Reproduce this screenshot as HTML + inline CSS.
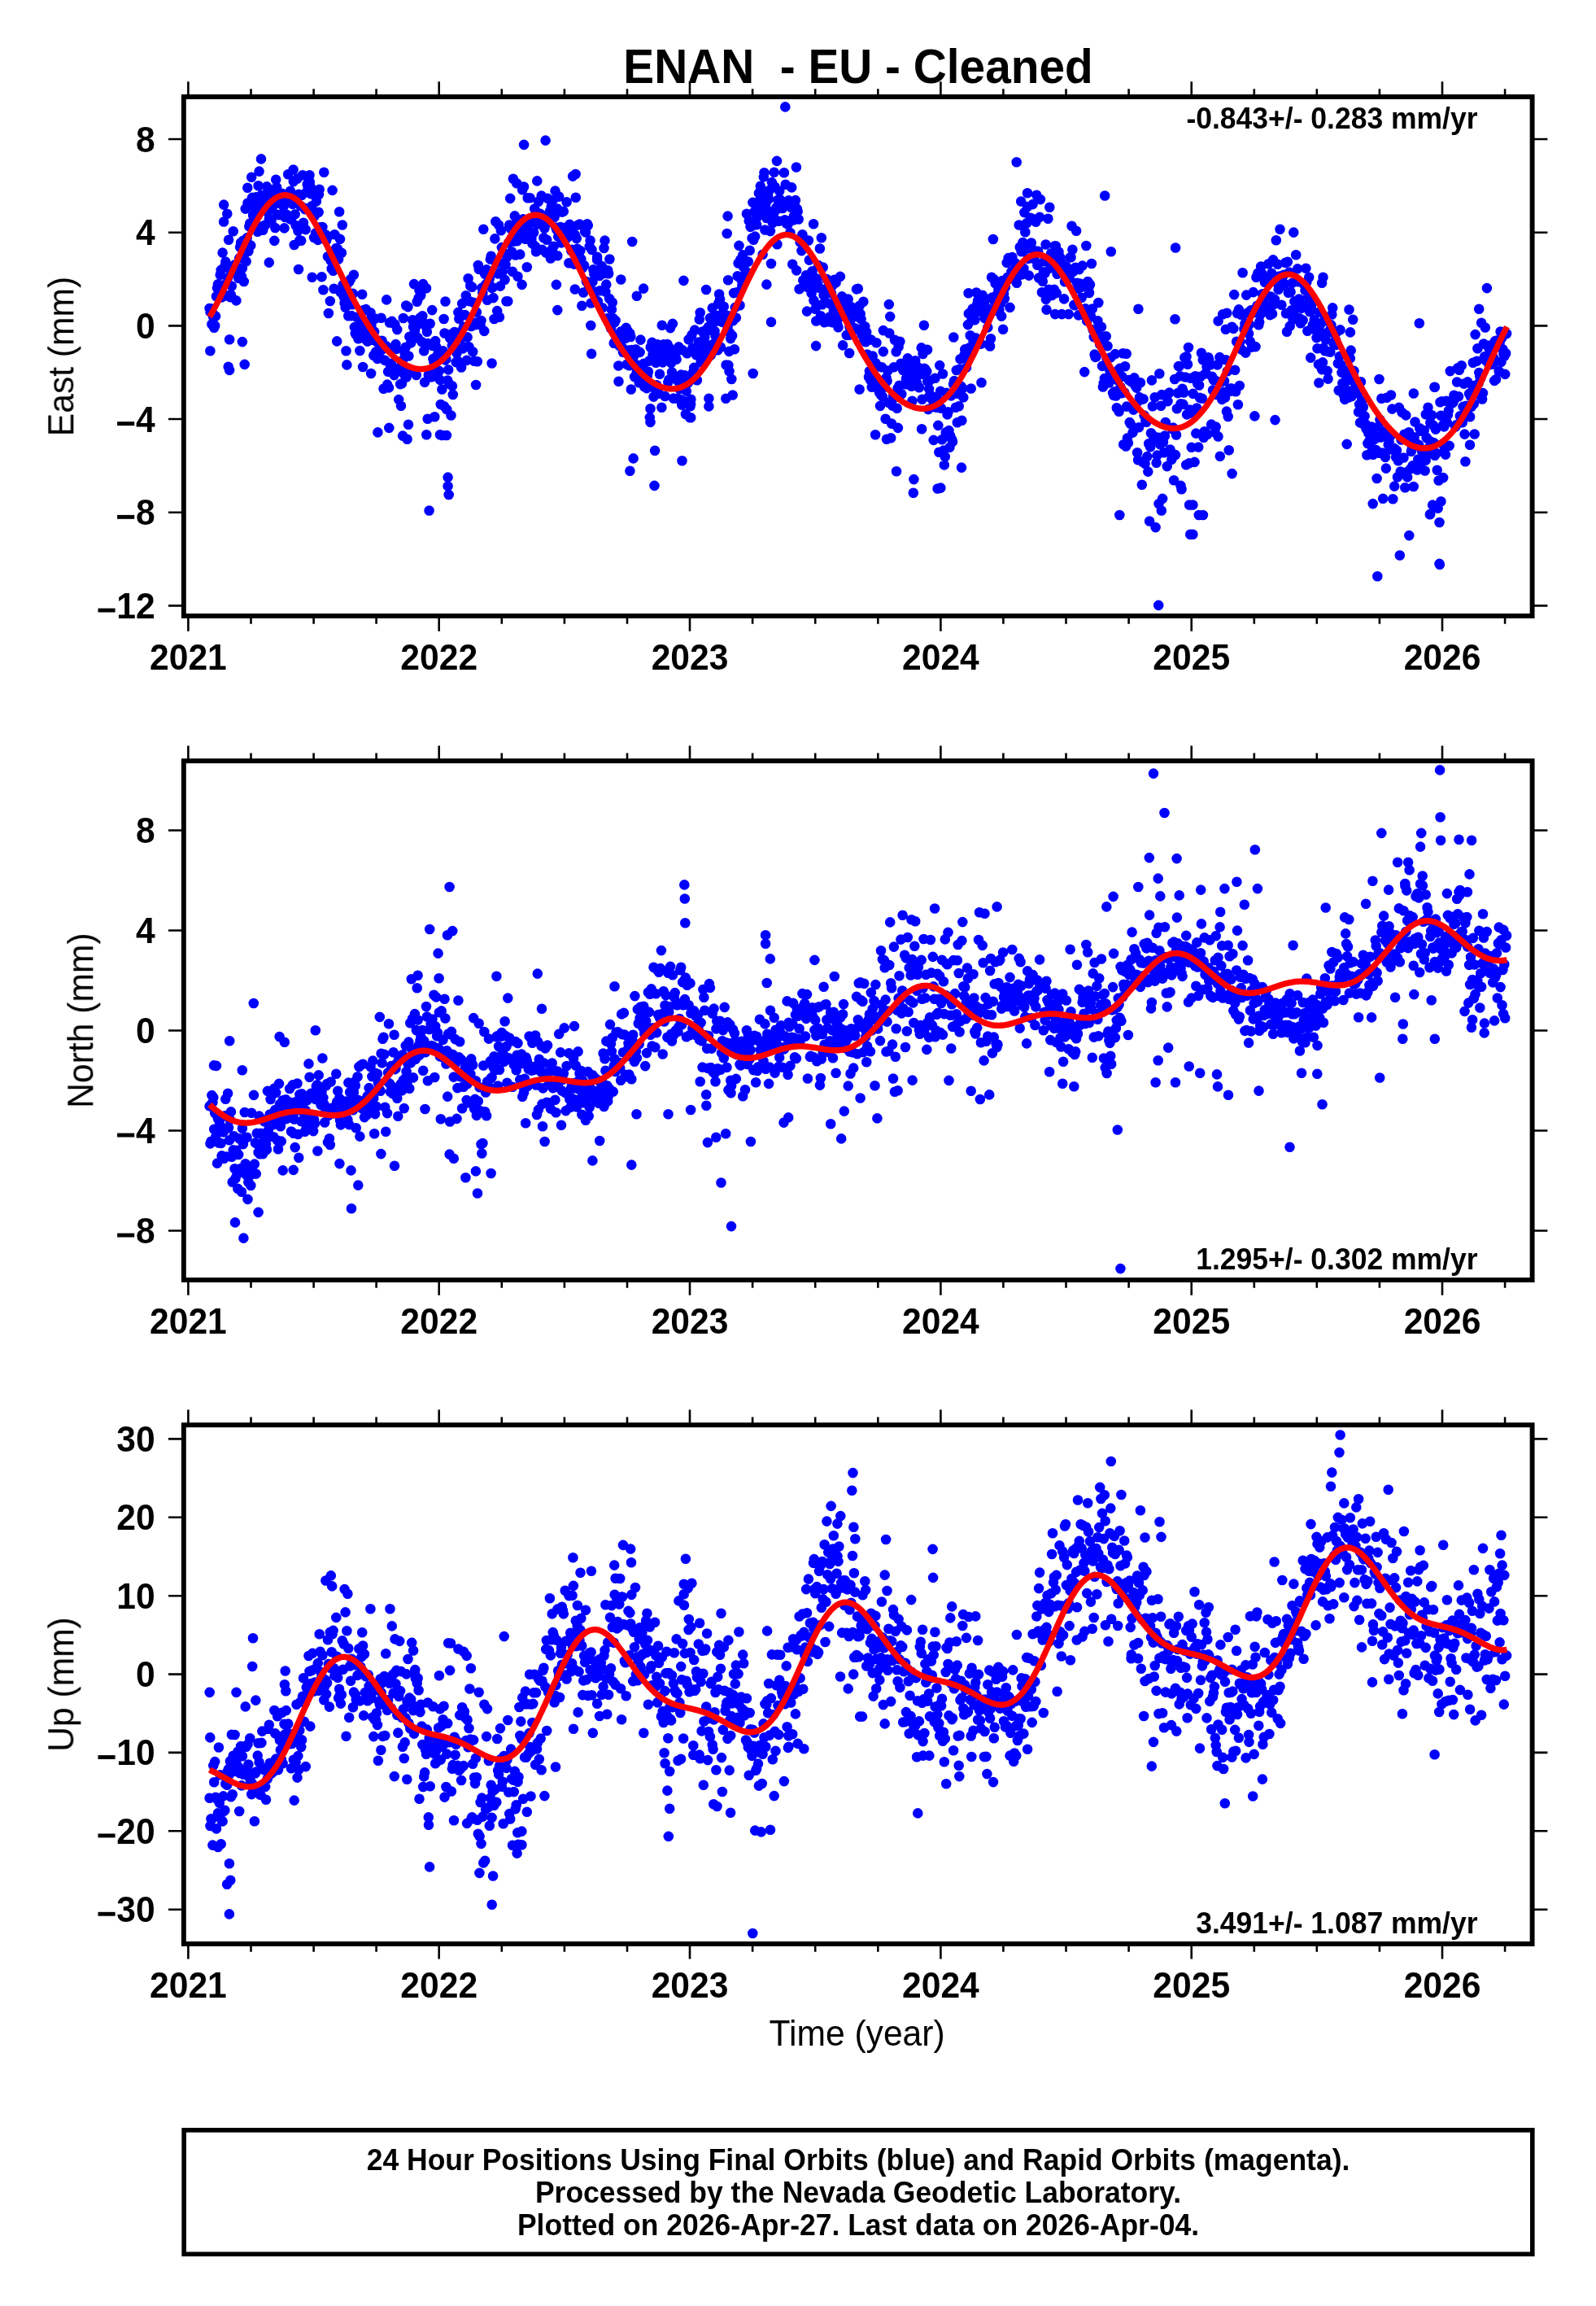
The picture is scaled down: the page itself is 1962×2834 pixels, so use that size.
<!DOCTYPE html><html><head><meta charset="utf-8"><style>html,body{margin:0;padding:0;background:#fff;overflow:hidden;width:1962px;height:2834px}svg{display:block}text{font-family:"Liberation Sans",sans-serif;fill:#000}.t{filter:grayscale(1)}</style></head><body>
<svg width="1962" height="2834" viewBox="0 0 1962 2834">
<rect width="1962" height="2834" fill="#fff"/>
<clipPath id="c0"><rect x="225.85" y="118.95" width="1657.75" height="638.0"/></clipPath>
<path clip-path="url(#c0)" d="M257.6 379.0h0M258.5 383.3h0M259.5 379.2h0M260.4 398.5h0M261.4 384.9h0M262.3 389.9h0M263.2 402.8h0M264.2 400.2h0M265.1 388.6h0M266.0 364.3h0M267.0 354.1h0M267.9 349.4h0M268.9 357.2h0M269.8 361.3h0M270.7 337.7h0M271.7 331.9h0M272.6 365.4h0M273.6 310.6h0M274.5 350.3h0M275.4 363.9h0M276.4 326.6h0M277.3 321.6h0M278.2 328.8h0M279.2 363.2h0M280.1 341.3h0M281.1 294.7h0M282.0 330.0h0M282.9 365.1h0M283.9 362.4h0M284.8 351.5h0M285.7 327.3h0M286.7 284.3h0M287.6 335.4h0M288.6 325.4h0M289.5 331.2h0M290.4 369.4h0M291.4 332.2h0M292.3 333.8h0M293.2 341.9h0M294.2 317.4h0M295.1 303.7h0M296.1 298.2h0M297.0 339.8h0M297.9 329.6h0M298.9 295.7h0M299.8 346.0h0M300.8 311.7h0M301.7 256.6h0M302.6 321.3h0M303.6 292.4h0M304.5 249.5h0M305.4 308.9h0M306.4 278.2h0M307.3 274.5h0M308.3 301.6h0M309.2 217.8h0M310.1 242.9h0M311.1 264.5h0M312.0 280.9h0M312.9 255.2h0M313.9 245.1h0M314.8 242.4h0M315.8 265.5h0M316.7 284.8h0M317.6 228.2h0M318.6 210.6h0M319.5 255.3h0M320.4 253.0h0M321.4 239.8h0M322.3 278.1h0M323.3 282.8h0M324.2 248.9h0M325.1 254.4h0M326.1 276.6h0M327.0 252.5h0M328.0 229.4h0M328.9 260.6h0M329.8 240.1h0M330.8 268.7h0M331.7 248.3h0M332.6 255.2h0M333.6 271.4h0M334.5 255.5h0M335.5 242.8h0M336.4 233.3h0M337.3 295.9h0M338.3 280.0h0M339.2 220.7h0M340.1 230.2h0M341.1 263.9h0M342.0 238.6h0M343.0 249.8h0M343.9 264.1h0M344.8 249.8h0M345.8 244.6h0M346.7 237.7h0M347.6 244.8h0M348.6 253.8h0M349.5 280.4h0M350.5 267.0h0M351.4 241.2h0M352.3 263.8h0M353.3 247.3h0M354.2 214.3h0M355.2 244.1h0M356.1 268.9h0M357.0 234.7h0M358.0 269.8h0M358.9 242.5h0M359.8 250.9h0M360.8 223.1h0M361.7 301.0h0M362.7 263.2h0M363.6 277.0h0M364.5 243.0h0M365.5 219.6h0M366.4 283.7h0M367.3 238.7h0M368.3 295.4h0M369.2 252.8h0M370.2 295.8h0M371.1 239.9h0M372.0 215.3h0M373.0 273.8h0M373.9 255.6h0M374.8 257.1h0M375.8 282.1h0M376.7 236.3h0M377.7 226.5h0M378.6 229.9h0M379.5 217.9h0M380.5 215.2h0M381.4 229.2h0M382.4 238.2h0M383.3 253.2h0M384.2 233.3h0M385.2 264.6h0M386.1 292.0h0M387.0 265.0h0M388.0 286.5h0M388.9 247.4h0M389.9 287.1h0M390.8 294.9h0M391.7 260.7h0M392.7 232.8h0M393.6 279.4h0M394.5 287.2h0M395.5 340.3h0M396.4 279.0h0M397.4 356.2h0M398.3 211.7h0M399.2 292.0h0M400.2 288.2h0M401.1 295.5h0M402.0 292.8h0M403.0 315.2h0M403.9 385.0h0M404.9 314.8h0M405.8 370.0h0M406.7 320.4h0M407.7 330.2h0M408.6 233.9h0M409.6 332.8h0M410.5 354.8h0M411.4 288.3h0M412.4 311.5h0M413.3 305.0h0M414.2 419.4h0M415.2 306.1h0M416.1 318.5h0M417.1 260.2h0M418.0 293.9h0M418.9 359.2h0M419.9 310.7h0M420.8 276.5h0M421.7 350.0h0M422.7 365.1h0M423.6 372.5h0M424.6 377.7h0M425.5 352.3h0M426.4 448.4h0M427.4 360.0h0M428.3 388.3h0M429.2 346.4h0M430.2 364.3h0M431.1 343.1h0M432.1 388.1h0M433.0 374.3h0M433.9 360.9h0M434.9 337.8h0M435.8 402.1h0M436.8 409.9h0M437.7 411.3h0M438.6 389.8h0M439.6 409.8h0M440.5 416.2h0M441.4 407.4h0M442.4 431.0h0M443.3 393.1h0M444.3 403.1h0M445.2 361.7h0M446.1 451.0h0M447.1 381.0h0M448.0 408.3h0M448.9 416.5h0M449.9 380.1h0M450.8 400.2h0M451.8 419.6h0M452.7 399.6h0M453.6 394.5h0M454.6 394.5h0M455.5 384.2h0M456.4 399.4h0M457.4 414.7h0M458.3 417.9h0M459.3 436.7h0M460.2 407.6h0M461.1 391.6h0M462.1 432.4h0M463.0 419.8h0M464.0 440.9h0M464.9 418.6h0M465.8 430.7h0M466.8 428.3h0M467.7 440.3h0M468.6 390.7h0M469.6 418.7h0M470.5 429.1h0M471.5 477.7h0M472.4 424.9h0M473.3 442.9h0M474.3 425.0h0M475.2 368.4h0M476.1 472.6h0M477.1 456.8h0M478.0 476.4h0M479.0 396.5h0M479.9 448.9h0M480.8 446.8h0M481.8 394.9h0M482.7 458.0h0M483.6 426.9h0M484.6 461.1h0M485.5 398.6h0M486.5 423.1h0M487.4 428.9h0M488.3 405.1h0M489.3 452.7h0M490.2 491.1h0M491.2 451.6h0M492.1 472.1h0M493.0 498.8h0M494.0 471.3h0M494.9 443.0h0M495.8 391.0h0M496.8 460.1h0M497.7 434.6h0M498.7 426.8h0M499.6 463.5h0M500.5 454.4h0M501.5 377.1h0M502.4 437.5h0M503.3 413.8h0M504.3 455.3h0M505.2 421.4h0M506.2 455.9h0M507.1 393.2h0M508.0 401.6h0M509.0 394.0h0M509.9 406.7h0M510.8 402.5h0M511.8 461.0h0M512.7 370.8h0M513.7 415.1h0M514.6 366.1h0M515.5 356.8h0M516.5 390.5h0M517.4 357.8h0M518.4 420.0h0M519.3 388.3h0M520.2 396.3h0M521.2 431.2h0M522.1 469.7h0M523.0 400.5h0M524.0 354.3h0M524.9 407.8h0M525.9 422.1h0M526.8 460.7h0M527.7 423.5h0M528.7 397.8h0M529.6 457.2h0M530.5 463.4h0M531.5 424.9h0M532.4 441.1h0M533.4 444.7h0M534.3 512.2h0M535.2 419.1h0M536.2 426.2h0M537.1 437.4h0M538.0 463.2h0M539.0 431.4h0M539.9 455.9h0M540.9 466.9h0M541.8 497.0h0M542.7 436.0h0M543.7 431.7h0M544.6 431.3h0M545.6 392.0h0M546.5 409.5h0M547.4 442.4h0M548.4 441.4h0M549.3 503.2h0M550.2 467.5h0M551.2 454.4h0M552.1 471.6h0M553.1 415.3h0M554.0 416.3h0M554.9 410.5h0M555.9 424.9h0M556.8 485.0h0M557.7 419.8h0M558.7 408.0h0M559.6 424.9h0M560.6 445.1h0M561.5 434.0h0M562.4 443.1h0M563.4 383.9h0M564.3 391.7h0M565.2 408.2h0M566.2 416.0h0M567.1 451.5h0M568.1 373.1h0M569.0 428.4h0M569.9 401.7h0M570.9 426.5h0M571.8 387.1h0M572.8 363.3h0M573.7 442.9h0M574.6 414.4h0M575.6 342.3h0M576.5 426.3h0M577.4 370.2h0M578.4 398.8h0M579.3 401.0h0M580.3 352.7h0M581.2 432.3h0M582.1 371.7h0M583.1 443.8h0M584.0 399.3h0M584.9 396.6h0M585.9 383.6h0M586.8 444.2h0M587.8 326.0h0M588.7 330.8h0M589.6 331.0h0M590.6 399.4h0M591.5 394.0h0M592.4 353.9h0M593.4 360.1h0M594.3 281.7h0M595.3 406.9h0M596.2 336.9h0M597.1 349.6h0M598.1 331.4h0M599.0 368.8h0M600.0 332.6h0M600.9 345.0h0M601.8 342.6h0M602.8 318.6h0M603.7 314.8h0M604.6 353.9h0M605.6 353.2h0M606.5 366.1h0M607.5 392.0h0M608.4 293.4h0M609.3 272.3h0M610.3 323.8h0M611.2 382.1h0M612.1 336.4h0M613.1 276.5h0M614.0 389.7h0M615.0 351.6h0M615.9 283.2h0M616.8 304.1h0M617.8 333.9h0M618.7 310.6h0M619.6 323.3h0M620.6 343.8h0M621.5 325.2h0M622.5 370.3h0M623.4 315.8h0M624.3 370.3h0M625.3 298.2h0M626.2 276.5h0M627.2 243.9h0M628.1 281.3h0M629.0 309.2h0M630.0 333.7h0M630.9 219.7h0M631.8 296.6h0M632.8 265.4h0M633.7 313.5h0M634.7 274.1h0M635.6 296.2h0M636.5 339.7h0M637.5 288.7h0M638.4 279.5h0M639.3 312.6h0M640.3 291.2h0M641.2 275.7h0M642.2 233.2h0M643.1 269.2h0M644.0 229.5h0M645.0 283.8h0M645.9 293.8h0M646.8 277.9h0M647.8 328.3h0M648.7 243.3h0M649.7 285.8h0M650.6 275.2h0M651.5 243.2h0M652.5 285.9h0M653.4 293.1h0M654.4 299.2h0M655.3 268.0h0M656.2 285.8h0M657.2 256.5h0M658.1 302.9h0M659.0 309.3h0M660.0 274.0h0M660.9 275.4h0M661.9 247.8h0M662.8 270.9h0M663.7 262.5h0M664.7 275.0h0M665.6 240.6h0M666.5 306.9h0M667.5 273.8h0M668.4 292.2h0M669.4 280.5h0M670.3 265.2h0M671.2 310.6h0M672.2 294.8h0M673.1 243.7h0M674.0 273.5h0M675.0 270.1h0M675.9 259.8h0M676.9 317.5h0M677.8 253.5h0M678.7 306.2h0M679.7 246.0h0M680.6 302.8h0M681.6 266.7h0M682.5 234.6h0M683.4 279.5h0M684.4 282.3h0M685.3 256.6h0M686.2 290.8h0M687.2 241.6h0M688.1 289.4h0M689.1 279.1h0M690.0 298.4h0M690.9 260.6h0M691.9 284.8h0M692.8 259.8h0M693.7 289.1h0M694.7 279.7h0M695.6 294.0h0M696.6 248.3h0M697.5 291.8h0M698.4 291.0h0M699.4 323.3h0M700.3 275.9h0M701.2 281.9h0M702.2 308.0h0M703.1 306.9h0M704.1 216.6h0M705.0 286.9h0M705.9 324.6h0M706.9 288.8h0M707.8 242.7h0M708.8 293.1h0M709.7 305.7h0M710.6 276.5h0M711.6 313.6h0M712.5 275.5h0M713.4 308.1h0M714.4 318.4h0M715.3 375.7h0M716.3 329.0h0M717.2 359.5h0M718.1 326.3h0M719.1 284.7h0M720.0 285.5h0M720.9 346.0h0M721.9 275.3h0M722.8 277.1h0M723.8 350.9h0M724.7 302.9h0M725.6 295.5h0M726.6 372.5h0M727.5 307.0h0M728.4 346.4h0M729.4 331.4h0M730.3 336.7h0M731.3 335.8h0M732.2 358.5h0M733.1 369.3h0M734.1 319.3h0M735.0 370.5h0M735.9 336.9h0M736.9 339.0h0M737.8 357.3h0M738.8 333.7h0M739.7 327.0h0M740.6 378.2h0M741.6 336.2h0M742.5 305.0h0M743.5 295.6h0M744.4 358.5h0M745.3 349.6h0M746.3 391.3h0M747.2 332.3h0M748.1 336.2h0M749.1 367.0h0M750.0 398.0h0M751.0 403.5h0M751.9 380.4h0M752.8 371.7h0M753.8 391.2h0M754.7 421.7h0M755.6 396.1h0M756.6 394.0h0M757.5 414.5h0M758.5 412.1h0M759.4 411.7h0M760.3 449.5h0M761.3 424.7h0M762.2 415.5h0M763.1 407.6h0M764.1 410.3h0M765.0 427.1h0M766.0 433.0h0M766.9 406.0h0M767.8 409.3h0M768.8 415.8h0M769.7 402.9h0M770.7 447.7h0M771.6 406.8h0M772.5 430.5h0M773.5 449.2h0M774.4 409.8h0M775.3 414.0h0M776.3 430.0h0M777.2 444.4h0M778.2 439.4h0M779.1 438.1h0M780.0 463.1h0M781.0 429.5h0M781.9 429.6h0M782.8 456.8h0M783.8 448.7h0M784.7 465.9h0M785.7 470.2h0M786.6 432.9h0M787.5 417.6h0M788.5 466.1h0M789.4 457.7h0M790.3 465.2h0M791.3 446.9h0M792.2 475.3h0M793.2 456.8h0M794.1 470.5h0M795.0 477.1h0M796.0 461.3h0M796.9 456.8h0M797.9 443.6h0M798.8 513.1h0M799.7 426.8h0M800.7 472.2h0M801.6 420.9h0M802.5 435.9h0M803.5 487.6h0M804.4 438.0h0M805.4 478.3h0M806.3 445.8h0M807.2 473.2h0M808.2 423.3h0M809.1 429.4h0M810.0 483.6h0M811.0 459.7h0M811.9 431.7h0M812.9 442.8h0M813.8 399.7h0M814.7 445.4h0M815.7 423.3h0M816.6 430.2h0M817.5 487.0h0M818.5 438.7h0M819.4 436.2h0M820.4 423.0h0M821.3 469.6h0M822.2 466.8h0M823.2 427.7h0M824.1 403.1h0M825.1 446.1h0M826.0 457.5h0M826.9 397.9h0M827.9 489.6h0M828.8 432.3h0M829.7 462.5h0M830.7 439.4h0M831.6 441.6h0M832.6 489.7h0M833.5 468.4h0M834.4 426.4h0M835.4 478.0h0M836.3 490.9h0M837.2 460.6h0M838.2 497.6h0M839.1 430.3h0M840.1 492.8h0M841.0 465.2h0M841.9 461.4h0M842.9 509.0h0M843.8 480.6h0M844.7 434.3h0M845.7 470.8h0M846.6 417.2h0M847.6 468.3h0M848.5 499.3h0M849.4 490.7h0M850.4 411.6h0M851.3 427.8h0M852.3 457.2h0M853.2 451.9h0M854.1 405.6h0M855.1 434.0h0M856.0 436.2h0M856.9 467.3h0M857.9 430.0h0M858.8 420.5h0M859.8 392.5h0M860.7 384.2h0M861.6 445.2h0M862.6 421.7h0M863.5 407.6h0M864.4 443.5h0M865.4 430.1h0M866.3 414.5h0M867.3 434.2h0M868.2 405.3h0M869.1 433.4h0M870.1 424.1h0M871.0 401.7h0M871.9 401.6h0M872.9 390.9h0M873.8 436.5h0M874.8 406.0h0M875.7 378.6h0M876.6 430.2h0M877.6 422.4h0M878.5 407.0h0M879.5 412.9h0M880.4 394.8h0M881.3 388.1h0M882.3 430.2h0M883.2 372.7h0M884.1 361.5h0M885.1 367.6h0M886.0 426.8h0M887.0 375.2h0M887.9 395.8h0M888.8 384.4h0M889.8 376.7h0M890.7 396.3h0M891.6 396.0h0M892.6 448.5h0M893.5 387.7h0M894.5 402.2h0M895.4 448.9h0M896.3 431.9h0M897.3 409.1h0M898.2 416.1h0M899.1 388.4h0M900.1 412.4h0M901.0 394.3h0M902.0 360.1h0M902.9 429.2h0M903.8 377.9h0M904.8 390.5h0M905.7 359.4h0M906.7 339.2h0M907.6 323.5h0M908.5 301.9h0M909.5 375.3h0M910.4 318.9h0M911.3 343.8h0M912.3 351.1h0M913.2 313.4h0M914.2 328.4h0M915.1 341.4h0M916.0 322.6h0M917.0 333.6h0M917.9 262.8h0M918.8 322.0h0M919.8 321.5h0M920.7 271.4h0M921.7 307.7h0M922.6 278.9h0M923.5 278.3h0M924.5 292.6h0M925.4 248.9h0M926.3 294.8h0M927.3 260.3h0M928.2 290.6h0M929.2 270.3h0M930.1 276.2h0M931.0 249.6h0M932.0 265.4h0M932.9 237.4h0M933.9 246.3h0M934.8 228.8h0M935.7 259.6h0M936.7 238.1h0M937.6 312.7h0M938.5 240.3h0M939.5 212.2h0M940.4 282.5h0M941.4 250.5h0M942.3 268.0h0M943.2 258.5h0M944.2 241.1h0M945.1 244.6h0M946.0 233.7h0M947.0 284.1h0M947.9 267.9h0M948.9 224.1h0M949.8 274.1h0M950.7 264.7h0M951.7 211.8h0M952.6 229.6h0M953.5 258.5h0M954.5 254.9h0M955.4 300.2h0M956.4 245.8h0M957.3 271.7h0M958.2 234.9h0M959.2 245.4h0M960.1 249.4h0M961.1 248.5h0M962.0 256.0h0M962.9 253.7h0M963.9 212.3h0M964.8 270.3h0M965.7 226.7h0M966.7 274.6h0M967.6 271.3h0M968.6 275.7h0M969.5 246.4h0M970.4 271.6h0M971.4 286.0h0M972.3 254.8h0M973.2 230.4h0M974.2 324.8h0M975.1 270.5h0M976.1 265.2h0M977.0 251.7h0M977.9 246.1h0M978.9 205.5h0M979.8 256.7h0M980.7 259.7h0M981.7 269.5h0M982.6 355.3h0M983.6 297.6h0M984.5 292.5h0M985.4 308.1h0M986.4 288.2h0M987.3 344.5h0M988.3 344.6h0M989.2 298.1h0M990.1 342.1h0M991.1 338.3h0M992.0 382.6h0M992.9 353.0h0M993.9 295.5h0M994.8 319.6h0M995.8 347.9h0M996.7 344.6h0M997.6 360.4h0M998.6 333.3h0M999.5 343.2h0M1000.4 369.2h0M1001.4 353.3h0M1002.3 341.7h0M1003.3 394.5h0M1004.2 342.5h0M1005.1 349.0h0M1006.1 326.1h0M1007.0 353.7h0M1007.9 305.5h0M1008.9 388.3h0M1009.8 292.3h0M1010.8 374.3h0M1011.7 328.5h0M1012.6 363.0h0M1013.6 396.2h0M1014.5 356.8h0M1015.5 371.8h0M1016.4 343.1h0M1017.3 353.7h0M1018.3 395.3h0M1019.2 346.4h0M1020.1 389.5h0M1021.1 373.7h0M1022.0 360.5h0M1023.0 396.1h0M1023.9 350.3h0M1024.8 382.4h0M1025.8 343.8h0M1026.7 370.3h0M1027.6 347.4h0M1028.6 382.2h0M1029.5 399.2h0M1030.5 402.2h0M1031.4 390.3h0M1032.3 386.8h0M1033.3 373.1h0M1034.2 375.7h0M1035.1 364.4h0M1036.1 424.4h0M1037.0 381.9h0M1038.0 381.0h0M1038.9 386.1h0M1039.8 369.0h0M1040.8 411.9h0M1041.7 376.0h0M1042.7 367.6h0M1043.6 411.7h0M1044.5 402.0h0M1045.5 393.6h0M1046.4 377.1h0M1047.3 406.1h0M1048.3 385.2h0M1049.2 389.5h0M1050.2 403.0h0M1051.1 389.0h0M1052.0 380.1h0M1053.0 355.4h0M1053.9 404.6h0M1054.8 354.7h0M1055.8 377.0h0M1056.7 375.7h0M1057.7 385.6h0M1058.6 392.3h0M1059.5 411.4h0M1060.5 403.1h0M1061.4 370.7h0M1062.3 418.1h0M1063.3 401.3h0M1064.2 420.3h0M1065.2 408.3h0M1066.1 435.5h0M1067.0 437.4h0M1068.0 463.3h0M1068.9 456.2h0M1069.9 466.9h0M1070.8 417.5h0M1071.7 475.8h0M1072.7 437.5h0M1073.6 456.8h0M1074.5 461.8h0M1075.5 463.7h0M1076.4 446.2h0M1077.4 421.3h0M1078.3 465.6h0M1079.2 476.4h0M1080.2 479.1h0M1081.1 482.6h0M1082.0 498.9h0M1083.0 485.3h0M1083.9 451.2h0M1084.9 487.4h0M1085.8 432.1h0M1086.7 467.6h0M1087.7 475.6h0M1088.6 514.8h0M1089.5 464.3h0M1090.5 468.2h0M1091.4 455.6h0M1092.4 494.8h0M1093.3 409.5h0M1094.2 389.1h0M1095.2 538.3h0M1096.1 520.6h0M1097.1 498.6h0M1098.0 487.3h0M1098.9 451.2h0M1099.9 417.7h0M1100.8 488.1h0M1101.7 432.2h0M1102.7 501.7h0M1103.6 477.2h0M1104.6 426.2h0M1105.5 473.7h0M1106.4 419.8h0M1107.4 446.7h0M1108.3 484.2h0M1109.2 447.2h0M1110.2 455.0h0M1111.1 448.3h0M1112.1 450.1h0M1113.0 472.3h0M1113.9 465.5h0M1114.9 466.6h0M1115.8 440.4h0M1116.7 458.0h0M1117.7 452.7h0M1118.6 464.3h0M1119.6 451.7h0M1120.5 474.8h0M1121.4 492.8h0M1122.4 466.9h0M1123.3 460.5h0M1124.3 472.9h0M1125.2 443.2h0M1126.1 453.6h0M1127.1 470.6h0M1128.0 451.0h0M1128.9 454.2h0M1129.9 476.3h0M1130.8 455.0h0M1131.8 460.0h0M1132.7 427.4h0M1133.6 490.8h0M1134.6 435.0h0M1135.5 457.7h0M1136.4 452.9h0M1137.4 453.8h0M1138.3 430.0h0M1139.3 456.4h0M1140.2 468.9h0M1141.1 503.1h0M1142.1 478.1h0M1143.0 467.6h0M1143.9 486.7h0M1144.9 489.8h0M1145.8 487.0h0M1146.8 499.6h0M1147.7 540.9h0M1148.6 500.0h0M1149.6 464.8h0M1150.5 490.0h0M1151.5 500.7h0M1152.4 489.2h0M1153.3 522.9h0M1154.3 555.8h0M1155.2 449.1h0M1156.1 480.7h0M1157.1 501.7h0M1158.0 540.3h0M1159.0 459.5h0M1159.9 553.6h0M1160.8 571.4h0M1161.8 561.3h0M1162.7 531.4h0M1163.6 482.9h0M1164.6 509.4h0M1165.5 506.3h0M1166.5 529.1h0M1167.4 549.9h0M1168.3 535.7h0M1169.3 486.4h0M1170.2 540.1h0M1171.1 542.7h0M1172.1 472.3h0M1173.0 468.1h0M1174.0 479.4h0M1174.9 500.7h0M1175.8 455.0h0M1176.8 519.2h0M1177.7 483.8h0M1178.7 499.3h0M1179.6 453.7h0M1180.5 441.3h0M1181.5 474.8h0M1182.4 516.8h0M1183.3 477.3h0M1184.3 488.4h0M1185.2 436.8h0M1186.2 429.4h0M1187.1 440.2h0M1188.0 451.6h0M1189.0 433.5h0M1189.9 399.1h0M1190.8 385.4h0M1191.8 427.2h0M1192.7 412.3h0M1193.7 477.5h0M1194.6 393.3h0M1195.5 379.6h0M1196.5 419.2h0M1197.4 387.8h0M1198.3 393.2h0M1199.3 415.2h0M1200.2 359.5h0M1201.2 374.3h0M1202.1 369.4h0M1203.0 368.6h0M1204.0 369.3h0M1204.9 379.5h0M1205.9 422.6h0M1206.8 383.4h0M1207.7 362.7h0M1208.7 384.8h0M1209.6 371.8h0M1210.5 391.1h0M1211.5 387.0h0M1212.4 367.4h0M1213.4 378.9h0M1214.3 402.4h0M1215.2 423.4h0M1216.2 382.4h0M1217.1 425.5h0M1218.0 416.3h0M1219.0 340.7h0M1219.9 365.5h0M1220.9 294.0h0M1221.8 343.2h0M1222.7 370.3h0M1223.7 348.4h0M1224.6 376.8h0M1225.5 362.4h0M1226.5 382.3h0M1227.4 356.3h0M1228.4 381.1h0M1229.3 371.2h0M1230.2 372.8h0M1231.2 388.6h0M1232.1 345.1h0M1233.1 404.7h0M1234.0 361.1h0M1234.9 367.1h0M1235.9 353.1h0M1236.8 346.0h0M1237.7 322.9h0M1238.7 340.8h0M1239.6 317.1h0M1240.6 318.4h0M1241.5 377.9h0M1242.4 342.4h0M1243.4 334.0h0M1244.3 316.0h0M1245.2 334.3h0M1246.2 332.2h0M1247.1 342.8h0M1248.1 323.3h0M1249.0 327.4h0M1249.9 347.8h0M1250.9 329.9h0M1251.8 339.2h0M1252.7 276.5h0M1253.7 303.8h0M1254.6 334.3h0M1255.6 309.3h0M1256.5 337.3h0M1257.4 298.0h0M1258.4 329.9h0M1259.3 261.1h0M1260.3 285.2h0M1261.2 305.5h0M1262.1 274.3h0M1263.1 254.0h0M1264.0 317.9h0M1264.9 338.6h0M1265.9 304.7h0M1266.8 267.7h0M1267.8 298.5h0M1268.7 268.7h0M1269.6 251.1h0M1270.6 317.3h0M1271.5 318.4h0M1272.4 308.4h0M1273.4 272.7h0M1274.3 239.8h0M1275.3 325.7h0M1276.2 308.8h0M1277.1 341.5h0M1278.1 266.9h0M1279.0 245.1h0M1279.9 340.9h0M1280.9 359.2h0M1281.8 345.8h0M1282.8 334.4h0M1283.7 321.3h0M1284.6 335.9h0M1285.6 300.5h0M1286.5 380.6h0M1287.5 365.5h0M1288.4 268.8h0M1289.3 355.7h0M1290.3 254.7h0M1291.2 329.4h0M1292.1 311.5h0M1293.1 363.0h0M1294.0 325.1h0M1295.0 316.2h0M1295.9 355.7h0M1296.8 302.2h0M1297.8 302.2h0M1298.7 360.1h0M1299.6 336.8h0M1300.6 328.5h0M1301.5 309.5h0M1302.5 322.3h0M1303.4 316.4h0M1304.3 335.1h0M1305.3 331.9h0M1306.2 324.4h0M1307.1 327.0h0M1308.1 367.4h0M1309.0 346.3h0M1310.0 340.3h0M1310.9 327.7h0M1311.8 338.2h0M1312.8 330.3h0M1313.7 336.6h0M1314.7 341.8h0M1315.6 316.4h0M1316.5 316.2h0M1317.5 277.7h0M1318.4 306.8h0M1319.3 333.9h0M1320.3 374.7h0M1321.2 375.2h0M1322.2 328.8h0M1323.1 283.7h0M1324.0 347.7h0M1325.0 354.6h0M1325.9 387.4h0M1326.8 331.1h0M1327.8 348.6h0M1328.7 353.0h0M1329.7 365.8h0M1330.6 326.6h0M1331.5 386.8h0M1332.5 351.1h0M1333.4 385.3h0M1334.3 379.3h0M1335.3 302.0h0M1336.2 394.4h0M1337.2 346.0h0M1338.1 354.7h0M1339.0 360.0h0M1340.0 349.8h0M1340.9 388.5h0M1341.9 324.0h0M1342.8 379.6h0M1343.7 405.2h0M1344.7 414.1h0M1345.6 435.6h0M1346.5 438.9h0M1347.5 438.5h0M1348.4 408.4h0M1349.4 394.2h0M1350.3 372.0h0M1351.2 404.2h0M1352.2 423.3h0M1353.1 413.6h0M1354.0 401.8h0M1355.0 449.9h0M1355.9 475.5h0M1356.9 424.6h0M1357.8 465.1h0M1358.7 448.4h0M1359.7 413.3h0M1360.6 440.8h0M1361.5 425.2h0M1362.5 469.1h0M1363.4 470.5h0M1364.4 455.4h0M1365.3 439.3h0M1366.2 458.9h0M1367.2 458.8h0M1368.1 483.0h0M1369.1 485.9h0M1370.0 481.4h0M1370.9 435.1h0M1371.9 486.5h0M1372.8 501.3h0M1373.7 467.1h0M1374.7 455.0h0M1375.6 505.7h0M1376.6 452.9h0M1377.5 475.7h0M1378.4 483.2h0M1379.4 462.9h0M1380.3 434.2h0M1381.2 546.2h0M1382.2 482.4h0M1383.1 450.3h0M1384.1 548.5h0M1385.0 499.6h0M1385.9 538.5h0M1386.9 544.4h0M1387.8 467.0h0M1388.7 519.1h0M1389.7 520.7h0M1390.6 469.0h0M1391.6 466.8h0M1392.5 531.6h0M1393.4 503.6h0M1394.4 464.4h0M1395.3 473.3h0M1396.3 497.7h0M1397.2 476.6h0M1398.1 556.3h0M1399.1 565.2h0M1400.0 525.3h0M1400.9 488.4h0M1401.9 470.2h0M1402.8 491.1h0M1403.8 595.8h0M1404.7 567.7h0M1405.6 490.4h0M1406.6 510.6h0M1407.5 569.9h0M1408.4 517.3h0M1409.4 518.7h0M1410.3 561.1h0M1411.3 579.6h0M1412.2 545.3h0M1413.1 640.5h0M1414.1 549.3h0M1415.0 532.2h0M1415.9 467.4h0M1416.9 499.2h0M1417.8 540.4h0M1418.8 536.4h0M1419.7 488.3h0M1420.6 648.1h0M1421.6 568.8h0M1422.5 559.6h0M1423.5 539.4h0M1424.4 537.7h0M1425.3 459.3h0M1426.3 546.2h0M1427.2 498.7h0M1428.1 485.1h0M1429.1 612.9h0M1430.0 543.2h0M1431.0 556.3h0M1431.9 535.5h0M1432.8 519.0h0M1433.8 485.3h0M1434.7 573.1h0M1435.6 493.1h0M1436.6 483.5h0M1437.5 482.6h0M1438.5 552.5h0M1439.4 556.8h0M1440.3 564.8h0M1441.3 527.4h0M1442.2 525.6h0M1443.1 590.2h0M1444.1 466.0h0M1445.0 559.1h0M1446.0 534.5h0M1446.9 502.2h0M1447.8 483.1h0M1448.8 450.1h0M1449.7 450.0h0M1450.7 462.1h0M1451.6 496.2h0M1452.5 601.3h0M1453.5 477.7h0M1454.4 496.9h0M1455.3 482.5h0M1456.3 439.4h0M1457.2 463.5h0M1458.2 571.2h0M1459.1 509.4h0M1460.0 447.8h0M1461.0 427.0h0M1461.9 569.3h0M1462.8 503.6h0M1463.8 464.7h0M1464.7 549.7h0M1465.7 507.6h0M1466.6 483.9h0M1467.5 507.2h0M1468.5 567.9h0M1469.4 462.2h0M1470.3 532.6h0M1471.3 501.5h0M1472.2 471.5h0M1473.2 549.5h0M1474.1 473.5h0M1475.0 488.9h0M1476.0 462.8h0M1476.9 433.7h0M1477.9 489.8h0M1478.8 442.3h0M1479.7 537.8h0M1480.7 530.3h0M1481.6 459.4h0M1482.5 458.7h0M1483.5 450.7h0M1484.4 533.7h0M1485.4 439.3h0M1486.3 441.8h0M1487.2 447.0h0M1488.2 448.3h0M1489.1 521.6h0M1490.0 462.8h0M1491.0 479.5h0M1491.9 467.0h0M1492.9 466.7h0M1493.8 531.6h0M1494.7 524.6h0M1495.7 485.0h0M1496.6 448.4h0M1497.5 536.5h0M1498.5 469.6h0M1499.4 439.1h0M1500.4 442.3h0M1501.3 469.5h0M1502.2 490.9h0M1503.2 386.3h0M1504.1 482.1h0M1505.0 468.2h0M1506.0 488.5h0M1506.9 442.2h0M1507.9 505.6h0M1508.8 456.3h0M1509.7 512.0h0M1510.7 553.3h0M1511.6 478.5h0M1512.6 480.7h0M1513.5 477.3h0M1514.4 401.8h0M1515.4 479.7h0M1516.3 403.9h0M1517.2 362.1h0M1518.2 454.8h0M1519.1 481.2h0M1520.1 419.8h0M1521.0 385.0h0M1521.9 497.2h0M1522.9 380.4h0M1523.8 474.0h0M1524.7 420.1h0M1525.7 386.8h0M1526.6 429.9h0M1527.6 335.3h0M1528.5 386.9h0M1529.4 404.3h0M1530.4 397.7h0M1531.3 433.6h0M1532.2 362.6h0M1533.2 406.0h0M1534.1 384.3h0M1535.1 410.1h0M1536.0 398.6h0M1536.9 419.6h0M1537.9 381.3h0M1538.8 426.6h0M1539.8 383.2h0M1540.7 359.1h0M1541.6 382.2h0M1542.6 384.1h0M1543.5 426.1h0M1544.4 340.8h0M1545.4 375.8h0M1546.3 335.8h0M1547.3 399.3h0M1548.2 395.8h0M1549.1 387.0h0M1550.1 327.5h0M1551.0 335.8h0M1551.9 361.2h0M1552.9 372.0h0M1553.8 379.1h0M1554.8 346.9h0M1555.7 361.7h0M1556.6 347.0h0M1557.6 342.4h0M1558.5 345.1h0M1559.4 324.3h0M1560.4 376.5h0M1561.3 387.1h0M1562.3 364.6h0M1563.2 335.7h0M1564.1 385.6h0M1565.1 319.4h0M1566.0 374.1h0M1567.0 367.9h0M1567.9 372.9h0M1568.8 295.2h0M1569.8 347.6h0M1570.7 324.7h0M1571.6 355.8h0M1572.6 339.5h0M1573.5 281.8h0M1574.5 348.2h0M1575.4 374.7h0M1576.3 341.4h0M1577.3 350.4h0M1578.2 337.8h0M1579.1 349.1h0M1580.1 322.9h0M1581.0 385.2h0M1582.0 407.7h0M1582.9 321.7h0M1583.8 359.8h0M1584.8 334.6h0M1585.7 400.9h0M1586.6 358.7h0M1587.6 381.4h0M1588.5 347.9h0M1589.5 392.5h0M1590.4 383.3h0M1591.3 370.4h0M1592.3 378.8h0M1593.2 313.2h0M1594.2 390.8h0M1595.1 330.4h0M1596.0 346.2h0M1597.0 367.5h0M1597.9 391.4h0M1598.8 397.2h0M1599.8 378.7h0M1600.7 378.4h0M1601.7 393.5h0M1602.6 349.1h0M1603.5 375.4h0M1604.5 356.8h0M1605.4 329.8h0M1606.3 347.0h0M1607.3 406.8h0M1608.2 364.8h0M1609.2 340.7h0M1610.1 383.1h0M1611.0 369.9h0M1612.0 375.4h0M1612.9 381.3h0M1613.8 399.5h0M1614.8 400.1h0M1615.7 393.2h0M1616.7 405.2h0M1617.6 399.8h0M1618.5 415.1h0M1619.5 428.3h0M1620.4 408.5h0M1621.4 470.5h0M1622.3 383.6h0M1623.2 398.7h0M1624.2 408.6h0M1625.1 454.1h0M1626.0 445.4h0M1627.0 427.8h0M1627.9 394.0h0M1628.9 431.2h0M1629.8 417.6h0M1630.7 410.6h0M1631.7 455.9h0M1632.6 465.6h0M1633.5 432.2h0M1634.5 406.3h0M1635.4 432.6h0M1636.4 399.4h0M1637.3 386.5h0M1638.2 378.4h0M1639.2 421.6h0M1640.1 421.1h0M1641.0 410.2h0M1642.0 417.6h0M1642.9 423.9h0M1643.9 407.5h0M1644.8 446.6h0M1645.7 479.8h0M1646.7 438.1h0M1647.6 405.4h0M1648.6 448.4h0M1649.5 457.9h0M1650.4 471.0h0M1651.4 484.5h0M1652.3 481.6h0M1653.2 490.9h0M1654.2 468.7h0M1655.1 478.9h0M1656.1 455.7h0M1657.0 460.7h0M1657.9 488.5h0M1658.9 466.8h0M1659.8 440.4h0M1660.7 430.6h0M1661.7 487.1h0M1662.6 464.4h0M1663.6 461.0h0M1664.5 455.9h0M1665.4 480.8h0M1666.4 474.2h0M1667.3 474.4h0M1668.2 477.4h0M1669.2 483.4h0M1670.1 506.3h0M1671.1 497.0h0M1672.0 519.4h0M1672.9 469.3h0M1673.9 492.7h0M1674.8 520.5h0M1675.8 500.3h0M1676.7 512.0h0M1677.6 511.4h0M1678.6 521.1h0M1679.5 527.1h0M1680.4 559.2h0M1681.4 545.0h0M1682.3 532.3h0M1683.3 542.0h0M1684.2 544.7h0M1685.1 535.7h0M1686.1 524.5h0M1687.0 551.2h0M1687.9 558.8h0M1688.9 525.8h0M1689.8 539.9h0M1690.8 553.7h0M1691.7 553.1h0M1692.6 588.0h0M1693.6 537.0h0M1694.5 524.5h0M1695.4 556.8h0M1696.4 515.6h0M1697.3 537.5h0M1698.3 489.7h0M1699.2 556.6h0M1700.1 612.8h0M1701.1 530.8h0M1702.0 532.4h0M1703.0 561.9h0M1703.9 575.6h0M1704.8 488.7h0M1705.8 534.3h0M1706.7 546.4h0M1707.6 543.3h0M1708.6 552.3h0M1709.5 535.6h0M1710.5 533.5h0M1711.4 502.6h0M1712.3 613.2h0M1713.3 550.7h0M1714.2 597.6h0M1715.1 551.9h0M1716.1 561.8h0M1717.0 553.5h0M1718.0 586.3h0M1718.9 566.2h0M1719.8 500.9h0M1720.8 682.5h0M1721.7 579.5h0M1722.6 540.5h0M1723.6 506.9h0M1724.5 537.7h0M1725.5 562.5h0M1726.4 533.7h0M1727.3 599.2h0M1728.3 510.4h0M1729.2 580.3h0M1730.2 586.4h0M1731.1 533.1h0M1732.0 531.3h0M1733.0 540.1h0M1733.9 576.4h0M1734.8 554.8h0M1735.8 551.3h0M1736.7 572.3h0M1737.7 598.0h0M1738.6 537.4h0M1739.5 518.5h0M1740.5 547.1h0M1741.4 545.2h0M1742.3 577.5h0M1743.3 564.5h0M1744.2 546.7h0M1745.2 526.2h0M1746.1 573.5h0M1747.0 529.7h0M1748.0 554.2h0M1748.9 555.2h0M1749.8 564.0h0M1750.8 529.0h0M1751.7 578.5h0M1752.7 565.6h0M1753.6 537.7h0M1754.5 538.9h0M1755.5 500.8h0M1756.4 550.4h0M1757.4 557.6h0M1758.3 519.5h0M1759.2 542.8h0M1760.2 510.3h0M1761.1 620.6h0M1762.0 522.8h0M1763.0 544.4h0M1763.9 559.7h0M1764.9 527.6h0M1765.8 557.0h0M1766.7 577.8h0M1767.7 624.6h0M1768.6 590.5h0M1769.5 642.0h0M1770.5 494.3h0M1771.4 510.8h0M1772.4 493.2h0M1773.3 545.6h0M1774.2 522.3h0M1775.2 524.4h0M1776.1 551.0h0M1777.0 558.6h0M1778.0 492.8h0M1778.9 519.4h0M1779.9 509.7h0M1780.8 504.6h0M1781.7 547.9h0M1782.7 456.1h0M1783.6 494.6h0M1784.6 492.6h0M1785.5 495.4h0M1786.4 494.5h0M1787.4 485.8h0M1788.3 490.5h0M1789.2 524.5h0M1790.2 522.4h0M1791.1 469.5h0M1792.1 452.2h0M1793.0 487.3h0M1793.9 454.8h0M1794.9 511.2h0M1795.8 512.4h0M1796.7 449.2h0M1797.7 519.2h0M1798.6 499.9h0M1799.6 471.6h0M1800.5 533.6h0M1801.4 567.3h0M1802.4 498.9h0M1803.3 507.8h0M1804.2 469.4h0M1805.2 510.3h0M1806.1 483.9h0M1807.1 512.2h0M1808.0 487.3h0M1808.9 499.8h0M1809.9 474.0h0M1810.8 445.8h0M1811.8 496.2h0M1812.7 533.5h0M1813.6 411.1h0M1814.6 484.1h0M1815.5 443.8h0M1816.4 428.2h0M1817.4 471.5h0M1818.3 458.0h0M1819.3 462.5h0M1820.2 465.0h0M1821.1 396.7h0M1822.1 490.5h0M1823.0 483.1h0M1823.9 422.5h0M1824.9 438.4h0M1825.8 402.5h0M1826.8 443.4h0M1827.7 437.8h0M1828.6 441.0h0M1829.6 426.3h0M1830.5 448.2h0M1831.4 433.3h0M1832.4 424.3h0M1833.3 436.9h0M1834.3 445.8h0M1835.2 447.6h0M1836.1 439.9h0M1837.1 467.9h0M1838.0 419.1h0M1839.0 466.2h0M1839.9 418.6h0M1840.8 421.1h0M1841.8 422.1h0M1842.7 456.3h0M1843.6 421.5h0M1844.6 407.5h0M1845.5 444.7h0M1846.5 415.1h0M1847.4 429.3h0M1848.3 434.7h0M1849.3 437.8h0M1850.2 459.9h0M1851.1 434.3h0M1852.1 410.0h0M321.0 195.4h0M360.6 208.5h0M275.1 251.6h0M279.3 262.8h0M275.1 272.5h0M282.1 417.3h0M297.9 420.1h0M280.7 450.7h0M282.1 454.9h0M300.7 447.9h0M258.4 431.2h0M330.8 322.6h0M367.0 331.0h0M383.7 340.7h0M425.5 431.2h0M456.1 459.0h0M464.4 531.4h0M478.3 525.9h0M495.1 535.6h0M500.6 539.8h0M524.3 534.2h0M525.7 514.7h0M527.6 627.5h0M502.0 521.7h0M541.0 534.2h0M509.0 349.1h0M520.1 349.1h0M517.3 363.0h0M499.2 375.5h0M531.2 381.1h0M304.3 230.8h0M392.0 239.1h0M380.9 223.8h0M644.1 177.9h0M670.6 172.6h0M707.6 214.0h0M660.3 222.4h0M635.2 225.2h0M777.2 297.0h0M840.4 344.9h0M791.1 354.6h0M782.8 363.8h0M685.3 381.1h0M683.9 349.9h0M706.8 355.5h0M641.6 349.9h0M578.2 351.3h0M547.5 370.5h0M726.3 400.0h0M727.1 434.8h0M585.1 473.0h0M543.4 535.0h0M548.9 535.0h0M550.6 586.6h0M550.6 597.4h0M551.7 608.0h0M778.6 563.4h0M774.4 578.8h0M805.1 553.7h0M838.5 566.2h0M804.5 596.9h0M799.5 518.9h0M799.5 502.2h0M760.5 468.8h0M775.8 478.5h0M813.4 500.8h0M848.2 513.3h0M604.6 446.5h0M554.5 510.5h0M546.1 499.4h0M555.9 474.4h0M543.4 478.5h0M763.3 343.5h0M749.4 318.5h0M734.1 315.7h0M685.3 314.3h0M965.3 131.4h0M955.0 197.9h0M938.8 217.4h0M894.6 265.6h0M893.7 287.0h0M1000.1 275.3h0M948.0 324.0h0M942.4 349.6h0M895.1 344.3h0M868.1 356.0h0M948.0 395.8h0M1003.1 425.1h0M1002.3 379.7h0M1092.8 374.1h0M1085.8 406.1h0M925.7 459.0h0M899.3 466.0h0M896.5 456.3h0M892.3 489.7h0M900.7 485.5h0M871.4 489.7h0M871.4 499.4h0M849.2 496.6h0M849.2 513.3h0M1102.0 579.3h0M1123.4 589.1h0M1122.8 605.8h0M1152.6 600.5h0M1133.1 527.3h0M1142.3 486.9h0M1135.9 399.7h0M1140.1 429.8h0M1044.1 434.0h0M1056.6 478.5h0M1076.1 534.2h0M1090.0 539.8h0M1103.9 525.9h0M1032.9 339.9h0M979.2 332.4h0M1249.7 199.3h0M1263.0 237.2h0M1255.2 247.5h0M1358.2 240.5h0M1365.8 309.3h0M1445.1 304.5h0M1399.4 379.7h0M1444.5 392.2h0M1384.7 434.8h0M1458.5 438.2h0M1333.2 457.1h0M1356.8 471.0h0M1206.5 470.2h0M1172.3 414.5h0M1190.6 360.2h0M1182.0 574.6h0M1156.4 599.6h0M1376.3 633.0h0M1424.5 619.1h0M1427.8 627.5h0M1462.1 620.5h0M1463.2 656.7h0M1424.2 743.9h0M1451.5 596.9h0M1473.8 633.0h0M1285.8 367.7h0M1297.0 386.1h0M1313.7 386.1h0M1305.3 386.1h0M1590.3 285.6h0M1626.5 340.7h0M1625.1 347.7h0M1744.8 397.2h0M1658.5 380.5h0M1663.2 392.8h0M1659.9 408.4h0M1508.2 384.7h0M1497.6 394.5h0M1506.8 404.8h0M1567.5 516.1h0M1542.4 511.4h0M1499.8 560.7h0M1514.6 582.1h0M1655.7 545.9h0M1478.9 633.0h0M1466.4 620.5h0M1466.4 656.7h0M1687.7 619.1h0M1732.3 658.1h0M1769.9 693.7h0M1693.3 708.2h0M1757.9 632.2h0M1763.4 475.7h0M1737.8 483.5h0M1710.0 485.5h0M1695.5 466.0h0M1611.2 439.6h0M1620.9 447.9h0M1827.9 354.1h0M1763.9 475.7h0M1769.5 692.9h0M1758.3 631.7h0M1771.4 616.3h0M1774.2 587.1h0M1807.0 546.7h0M1752.8 509.2h0M1818.2 379.7h0" stroke="#00f" stroke-width="12.6" stroke-linecap="round" fill="none"/>
<path clip-path="url(#c0)" d="M257.6 389.4 L258.8 387.3 L260.1 385.2 L261.3 383.1 L262.5 380.9 L263.7 378.6 L265.0 376.3 L266.2 374.0 L267.4 371.6 L268.7 369.2 L269.9 366.8 L271.1 364.3 L272.3 361.8 L273.6 359.3 L274.8 356.8 L276.0 354.2 L277.3 351.6 L278.5 349.0 L279.7 346.3 L280.9 343.7 L282.2 341.0 L283.4 338.3 L284.6 335.6 L285.8 332.9 L287.1 330.2 L288.3 327.5 L289.5 324.8 L290.8 322.1 L292.0 319.4 L293.2 316.7 L294.4 314.0 L295.7 311.3 L296.9 308.6 L298.1 306.0 L299.4 303.3 L300.6 300.7 L301.8 298.2 L303.0 295.6 L304.3 293.1 L305.5 290.6 L306.7 288.1 L307.9 285.7 L309.2 283.3 L310.4 281.0 L311.6 278.7 L312.9 276.4 L314.1 274.2 L315.3 272.1 L316.5 270.0 L317.8 268.0 L319.0 266.0 L320.2 264.0 L321.5 262.2 L322.7 260.4 L323.9 258.7 L325.1 257.0 L326.4 255.4 L327.6 253.9 L328.8 252.4 L330.0 251.0 L331.3 249.7 L332.5 248.5 L333.7 247.4 L335.0 246.3 L336.2 245.3 L337.4 244.4 L338.6 243.6 L339.9 242.8 L341.1 242.1 L342.3 241.6 L343.6 241.1 L344.8 240.6 L346.0 240.3 L347.2 240.1 L348.5 239.9 L349.7 239.8 L350.9 239.8 L352.1 239.9 L353.4 240.1 L354.6 240.4 L355.8 240.7 L357.1 241.1 L358.3 241.7 L359.5 242.2 L360.7 242.9 L362.0 243.7 L363.2 244.5 L364.4 245.4 L365.7 246.4 L366.9 247.4 L368.1 248.6 L369.3 249.8 L370.6 251.0 L371.8 252.4 L373.0 253.8 L374.3 255.3 L375.5 256.8 L376.7 258.4 L377.9 260.1 L379.2 261.8 L380.4 263.6 L381.6 265.4 L382.8 267.3 L384.1 269.3 L385.3 271.2 L386.5 273.3 L387.8 275.4 L389.0 277.5 L390.2 279.6 L391.4 281.9 L392.7 284.1 L393.9 286.4 L395.1 288.7 L396.4 291.0 L397.6 293.4 L398.8 295.8 L400.0 298.2 L401.3 300.6 L402.5 303.1 L403.7 305.6 L404.9 308.1 L406.2 310.6 L407.4 313.1 L408.6 315.6 L409.9 318.1 L411.1 320.7 L412.3 323.2 L413.5 325.8 L414.8 328.3 L416.0 330.9 L417.2 333.4 L418.5 335.9 L419.7 338.5 L420.9 341.0 L422.1 343.5 L423.4 346.0 L424.6 348.5 L425.8 351.0 L427.0 353.4 L428.3 355.9 L429.5 358.3 L430.7 360.7 L432.0 363.1 L433.2 365.5 L434.4 367.8 L435.6 370.2 L436.9 372.5 L438.1 374.7 L439.3 377.0 L440.6 379.2 L441.8 381.4 L443.0 383.6 L444.2 385.7 L445.5 387.8 L446.7 389.9 L447.9 392.0 L449.1 394.0 L450.4 396.0 L451.6 398.0 L452.8 399.9 L454.1 401.8 L455.3 403.7 L456.5 405.5 L457.7 407.3 L459.0 409.1 L460.2 410.9 L461.4 412.6 L462.7 414.3 L463.9 415.9 L465.1 417.5 L466.3 419.1 L467.6 420.6 L468.8 422.2 L470.0 423.6 L471.2 425.1 L472.5 426.5 L473.7 427.9 L474.9 429.2 L476.2 430.5 L477.4 431.8 L478.6 433.1 L479.8 434.3 L481.1 435.4 L482.3 436.6 L483.5 437.7 L484.8 438.8 L486.0 439.8 L487.2 440.8 L488.4 441.8 L489.7 442.7 L490.9 443.6 L492.1 444.5 L493.3 445.3 L494.6 446.1 L495.8 446.8 L497.0 447.5 L498.3 448.2 L499.5 448.9 L500.7 449.5 L501.9 450.0 L503.2 450.5 L504.4 451.0 L505.6 451.5 L506.9 451.9 L508.1 452.2 L509.3 452.6 L510.5 452.8 L511.8 453.1 L513.0 453.3 L514.2 453.4 L515.4 453.5 L516.7 453.6 L517.9 453.6 L519.1 453.5 L520.4 453.5 L521.6 453.3 L522.8 453.2 L524.0 452.9 L525.3 452.7 L526.5 452.3 L527.7 452.0 L529.0 451.5 L530.2 451.1 L531.4 450.5 L532.6 450.0 L533.9 449.3 L535.1 448.7 L536.3 447.9 L537.6 447.1 L538.8 446.3 L540.0 445.4 L541.2 444.4 L542.5 443.4 L543.7 442.3 L544.9 441.2 L546.1 440.1 L547.4 438.8 L548.6 437.5 L549.8 436.2 L551.1 434.8 L552.3 433.4 L553.5 431.9 L554.7 430.3 L556.0 428.7 L557.2 427.0 L558.4 425.3 L559.7 423.5 L560.9 421.7 L562.1 419.9 L563.3 417.9 L564.6 416.0 L565.8 414.0 L567.0 411.9 L568.2 409.8 L569.5 407.6 L570.7 405.4 L571.9 403.2 L573.2 400.9 L574.4 398.6 L575.6 396.2 L576.8 393.8 L578.1 391.4 L579.3 388.9 L580.5 386.5 L581.8 383.9 L583.0 381.4 L584.2 378.8 L585.4 376.2 L586.7 373.6 L587.9 371.0 L589.1 368.3 L590.3 365.6 L591.6 362.9 L592.8 360.2 L594.0 357.5 L595.3 354.8 L596.5 352.1 L597.7 349.4 L598.9 346.7 L600.2 344.0 L601.4 341.3 L602.6 338.6 L603.9 335.9 L605.1 333.2 L606.3 330.6 L607.5 328.0 L608.8 325.4 L610.0 322.8 L611.2 320.2 L612.4 317.7 L613.7 315.2 L614.9 312.7 L616.1 310.3 L617.4 307.9 L618.6 305.6 L619.8 303.3 L621.0 301.0 L622.3 298.8 L623.5 296.7 L624.7 294.6 L626.0 292.5 L627.2 290.5 L628.4 288.6 L629.6 286.7 L630.9 284.9 L632.1 283.2 L633.3 281.5 L634.5 279.9 L635.8 278.4 L637.0 276.9 L638.2 275.5 L639.5 274.2 L640.7 273.0 L641.9 271.8 L643.1 270.7 L644.4 269.7 L645.6 268.8 L646.8 268.0 L648.1 267.2 L649.3 266.5 L650.5 266.0 L651.7 265.4 L653.0 265.0 L654.2 264.7 L655.4 264.4 L656.6 264.3 L657.9 264.2 L659.1 264.2 L660.3 264.3 L661.6 264.4 L662.8 264.7 L664.0 265.0 L665.2 265.4 L666.5 265.9 L667.7 266.5 L668.9 267.2 L670.2 267.9 L671.4 268.7 L672.6 269.6 L673.8 270.6 L675.1 271.6 L676.3 272.8 L677.5 274.0 L678.7 275.2 L680.0 276.6 L681.2 278.0 L682.4 279.4 L683.7 281.0 L684.9 282.6 L686.1 284.2 L687.3 285.9 L688.6 287.7 L689.8 289.5 L691.0 291.4 L692.3 293.4 L693.5 295.3 L694.7 297.4 L695.9 299.5 L697.2 301.6 L698.4 303.7 L699.6 305.9 L700.9 308.2 L702.1 310.4 L703.3 312.7 L704.5 315.1 L705.8 317.4 L707.0 319.8 L708.2 322.3 L709.4 324.7 L710.7 327.1 L711.9 329.6 L713.1 332.1 L714.4 334.6 L715.6 337.1 L716.8 339.7 L718.0 342.2 L719.3 344.7 L720.5 347.3 L721.7 349.8 L723.0 352.4 L724.2 354.9 L725.4 357.4 L726.6 360.0 L727.9 362.5 L729.1 365.0 L730.3 367.6 L731.5 370.1 L732.8 372.6 L734.0 375.0 L735.2 377.5 L736.5 379.9 L737.7 382.4 L738.9 384.8 L740.1 387.2 L741.4 389.5 L742.6 391.9 L743.8 394.2 L745.1 396.5 L746.3 398.8 L747.5 401.1 L748.7 403.3 L750.0 405.5 L751.2 407.7 L752.4 409.8 L753.6 411.9 L754.9 414.0 L756.1 416.1 L757.3 418.1 L758.6 420.1 L759.8 422.1 L761.0 424.0 L762.2 425.9 L763.5 427.8 L764.7 429.7 L765.9 431.5 L767.2 433.3 L768.4 435.0 L769.6 436.7 L770.8 438.4 L772.1 440.0 L773.3 441.7 L774.5 443.3 L775.7 444.8 L777.0 446.3 L778.2 447.8 L779.4 449.3 L780.7 450.7 L781.9 452.1 L783.1 453.4 L784.3 454.7 L785.6 456.0 L786.8 457.2 L788.0 458.5 L789.3 459.6 L790.5 460.8 L791.7 461.9 L792.9 463.0 L794.2 464.0 L795.4 465.0 L796.6 466.0 L797.8 466.9 L799.1 467.8 L800.3 468.7 L801.5 469.5 L802.8 470.3 L804.0 471.1 L805.2 471.8 L806.4 472.5 L807.7 473.1 L808.9 473.7 L810.1 474.3 L811.4 474.8 L812.6 475.3 L813.8 475.8 L815.0 476.2 L816.3 476.5 L817.5 476.9 L818.7 477.1 L819.9 477.4 L821.2 477.6 L822.4 477.7 L823.6 477.8 L824.9 477.9 L826.1 477.9 L827.3 477.9 L828.5 477.8 L829.8 477.7 L831.0 477.5 L832.2 477.3 L833.5 477.0 L834.7 476.7 L835.9 476.3 L837.1 475.9 L838.4 475.5 L839.6 474.9 L840.8 474.4 L842.0 473.7 L843.3 473.1 L844.5 472.3 L845.7 471.5 L847.0 470.7 L848.2 469.8 L849.4 468.9 L850.6 467.9 L851.9 466.8 L853.1 465.7 L854.3 464.5 L855.6 463.3 L856.8 462.0 L858.0 460.7 L859.2 459.3 L860.5 457.9 L861.7 456.4 L862.9 454.8 L864.2 453.2 L865.4 451.5 L866.6 449.8 L867.8 448.1 L869.1 446.3 L870.3 444.4 L871.5 442.5 L872.7 440.5 L874.0 438.5 L875.2 436.5 L876.4 434.3 L877.7 432.2 L878.9 430.0 L880.1 427.8 L881.3 425.5 L882.6 423.2 L883.8 420.8 L885.0 418.4 L886.3 416.0 L887.5 413.6 L888.7 411.1 L889.9 408.5 L891.2 406.0 L892.4 403.4 L893.6 400.8 L894.8 398.2 L896.1 395.6 L897.3 392.9 L898.5 390.3 L899.8 387.6 L901.0 384.9 L902.2 382.2 L903.4 379.5 L904.7 376.8 L905.9 374.0 L907.1 371.3 L908.4 368.6 L909.6 365.9 L910.8 363.2 L912.0 360.5 L913.3 357.9 L914.5 355.2 L915.7 352.6 L916.9 350.0 L918.2 347.4 L919.4 344.8 L920.6 342.3 L921.9 339.8 L923.1 337.3 L924.3 334.9 L925.5 332.5 L926.8 330.2 L928.0 327.8 L929.2 325.6 L930.5 323.4 L931.7 321.2 L932.9 319.1 L934.1 317.1 L935.4 315.1 L936.6 313.1 L937.8 311.3 L939.0 309.4 L940.3 307.7 L941.5 306.0 L942.7 304.4 L944.0 302.9 L945.2 301.4 L946.4 300.0 L947.6 298.7 L948.9 297.4 L950.1 296.3 L951.3 295.2 L952.6 294.2 L953.8 293.2 L955.0 292.4 L956.2 291.6 L957.5 290.9 L958.7 290.3 L959.9 289.8 L961.1 289.4 L962.4 289.0 L963.6 288.8 L964.8 288.6 L966.1 288.5 L967.3 288.5 L968.5 288.6 L969.7 288.7 L971.0 289.0 L972.2 289.3 L973.4 289.7 L974.7 290.2 L975.9 290.8 L977.1 291.4 L978.3 292.2 L979.6 293.0 L980.8 293.8 L982.0 294.8 L983.2 295.9 L984.5 297.0 L985.7 298.2 L986.9 299.4 L988.2 300.7 L989.4 302.1 L990.6 303.6 L991.8 305.1 L993.1 306.7 L994.3 308.4 L995.5 310.1 L996.8 311.8 L998.0 313.7 L999.2 315.5 L1000.4 317.5 L1001.7 319.5 L1002.9 321.5 L1004.1 323.5 L1005.4 325.7 L1006.6 327.8 L1007.8 330.0 L1009.0 332.3 L1010.3 334.5 L1011.5 336.8 L1012.7 339.2 L1013.9 341.5 L1015.2 343.9 L1016.4 346.3 L1017.6 348.7 L1018.9 351.2 L1020.1 353.7 L1021.3 356.2 L1022.5 358.7 L1023.8 361.2 L1025.0 363.7 L1026.2 366.2 L1027.5 368.8 L1028.7 371.3 L1029.9 373.9 L1031.1 376.4 L1032.4 379.0 L1033.6 381.5 L1034.8 384.0 L1036.0 386.6 L1037.3 389.1 L1038.5 391.6 L1039.7 394.1 L1041.0 396.6 L1042.2 399.1 L1043.4 401.5 L1044.6 404.0 L1045.9 406.4 L1047.1 408.8 L1048.3 411.2 L1049.6 413.6 L1050.8 416.0 L1052.0 418.3 L1053.2 420.6 L1054.5 422.9 L1055.7 425.1 L1056.9 427.4 L1058.1 429.6 L1059.4 431.8 L1060.6 433.9 L1061.8 436.0 L1063.1 438.1 L1064.3 440.2 L1065.5 442.2 L1066.7 444.2 L1068.0 446.2 L1069.2 448.1 L1070.4 450.1 L1071.7 451.9 L1072.9 453.8 L1074.1 455.6 L1075.3 457.4 L1076.6 459.1 L1077.8 460.9 L1079.0 462.5 L1080.2 464.2 L1081.5 465.8 L1082.7 467.4 L1083.9 469.0 L1085.2 470.5 L1086.4 472.0 L1087.6 473.4 L1088.8 474.8 L1090.1 476.2 L1091.3 477.6 L1092.5 478.9 L1093.8 480.2 L1095.0 481.4 L1096.2 482.7 L1097.4 483.8 L1098.7 485.0 L1099.9 486.1 L1101.1 487.2 L1102.3 488.2 L1103.6 489.2 L1104.8 490.2 L1106.0 491.2 L1107.3 492.1 L1108.5 492.9 L1109.7 493.8 L1110.9 494.6 L1112.2 495.3 L1113.4 496.0 L1114.6 496.7 L1115.9 497.4 L1117.1 498.0 L1118.3 498.6 L1119.5 499.1 L1120.8 499.6 L1122.0 500.0 L1123.2 500.4 L1124.4 500.8 L1125.7 501.1 L1126.9 501.4 L1128.1 501.7 L1129.4 501.9 L1130.6 502.0 L1131.8 502.2 L1133.0 502.2 L1134.3 502.2 L1135.5 502.2 L1136.7 502.1 L1138.0 502.0 L1139.2 501.9 L1140.4 501.7 L1141.6 501.4 L1142.9 501.1 L1144.1 500.7 L1145.3 500.3 L1146.5 499.8 L1147.8 499.3 L1149.0 498.8 L1150.2 498.1 L1151.5 497.5 L1152.7 496.7 L1153.9 496.0 L1155.1 495.1 L1156.4 494.2 L1157.6 493.3 L1158.8 492.3 L1160.1 491.3 L1161.3 490.1 L1162.5 489.0 L1163.7 487.8 L1165.0 486.5 L1166.2 485.2 L1167.4 483.8 L1168.7 482.3 L1169.9 480.9 L1171.1 479.3 L1172.3 477.7 L1173.6 476.1 L1174.8 474.4 L1176.0 472.6 L1177.2 470.8 L1178.5 468.9 L1179.7 467.0 L1180.9 465.1 L1182.2 463.1 L1183.4 461.0 L1184.6 458.9 L1185.8 456.8 L1187.1 454.6 L1188.3 452.4 L1189.5 450.1 L1190.8 447.8 L1192.0 445.4 L1193.2 443.0 L1194.4 440.6 L1195.7 438.2 L1196.9 435.7 L1198.1 433.2 L1199.3 430.6 L1200.6 428.0 L1201.8 425.5 L1203.0 422.8 L1204.3 420.2 L1205.5 417.5 L1206.7 414.9 L1207.9 412.2 L1209.2 409.5 L1210.4 406.8 L1211.6 404.1 L1212.9 401.4 L1214.1 398.7 L1215.3 396.0 L1216.5 393.2 L1217.8 390.5 L1219.0 387.9 L1220.2 385.2 L1221.4 382.5 L1222.7 379.8 L1223.9 377.2 L1225.1 374.6 L1226.4 372.0 L1227.6 369.4 L1228.8 366.9 L1230.0 364.4 L1231.3 361.9 L1232.5 359.5 L1233.7 357.1 L1235.0 354.7 L1236.2 352.4 L1237.4 350.2 L1238.6 348.0 L1239.9 345.8 L1241.1 343.7 L1242.3 341.6 L1243.5 339.6 L1244.8 337.7 L1246.0 335.8 L1247.2 334.0 L1248.5 332.2 L1249.7 330.5 L1250.9 328.9 L1252.1 327.4 L1253.4 325.9 L1254.6 324.5 L1255.8 323.2 L1257.1 321.9 L1258.3 320.7 L1259.5 319.6 L1260.7 318.6 L1262.0 317.7 L1263.2 316.8 L1264.4 316.0 L1265.6 315.3 L1266.9 314.7 L1268.1 314.2 L1269.3 313.8 L1270.6 313.4 L1271.8 313.1 L1273.0 312.9 L1274.2 312.8 L1275.5 312.8 L1276.7 312.9 L1277.9 313.0 L1279.2 313.3 L1280.4 313.6 L1281.6 314.0 L1282.8 314.5 L1284.1 315.0 L1285.3 315.7 L1286.5 316.4 L1287.7 317.2 L1289.0 318.1 L1290.2 319.0 L1291.4 320.1 L1292.7 321.2 L1293.9 322.3 L1295.1 323.6 L1296.3 324.9 L1297.6 326.3 L1298.8 327.8 L1300.0 329.3 L1301.3 330.9 L1302.5 332.5 L1303.7 334.2 L1304.9 336.0 L1306.2 337.8 L1307.4 339.7 L1308.6 341.6 L1309.8 343.6 L1311.1 345.6 L1312.3 347.6 L1313.5 349.8 L1314.8 351.9 L1316.0 354.1 L1317.2 356.3 L1318.4 358.6 L1319.7 360.9 L1320.9 363.2 L1322.1 365.6 L1323.4 368.0 L1324.6 370.4 L1325.8 372.8 L1327.0 375.3 L1328.3 377.7 L1329.5 380.2 L1330.7 382.7 L1332.0 385.2 L1333.2 387.7 L1334.4 390.3 L1335.6 392.8 L1336.9 395.4 L1338.1 397.9 L1339.3 400.5 L1340.5 403.0 L1341.8 405.5 L1343.0 408.1 L1344.2 410.6 L1345.5 413.1 L1346.7 415.7 L1347.9 418.2 L1349.1 420.7 L1350.4 423.1 L1351.6 425.6 L1352.8 428.1 L1354.1 430.5 L1355.3 432.9 L1356.5 435.3 L1357.7 437.7 L1359.0 440.0 L1360.2 442.4 L1361.4 444.7 L1362.6 447.0 L1363.9 449.2 L1365.1 451.5 L1366.3 453.7 L1367.6 455.8 L1368.8 458.0 L1370.0 460.1 L1371.2 462.2 L1372.5 464.3 L1373.7 466.3 L1374.9 468.3 L1376.2 470.3 L1377.4 472.3 L1378.6 474.2 L1379.8 476.1 L1381.1 477.9 L1382.3 479.7 L1383.5 481.5 L1384.7 483.3 L1386.0 485.0 L1387.2 486.7 L1388.4 488.3 L1389.7 490.0 L1390.9 491.6 L1392.1 493.1 L1393.3 494.6 L1394.6 496.1 L1395.8 497.6 L1397.0 499.0 L1398.3 500.4 L1399.5 501.8 L1400.7 503.1 L1401.9 504.4 L1403.2 505.6 L1404.4 506.9 L1405.6 508.0 L1406.8 509.2 L1408.1 510.3 L1409.3 511.4 L1410.5 512.4 L1411.8 513.5 L1413.0 514.4 L1414.2 515.4 L1415.4 516.3 L1416.7 517.2 L1417.9 518.0 L1419.1 518.8 L1420.4 519.6 L1421.6 520.3 L1422.8 521.0 L1424.0 521.6 L1425.3 522.3 L1426.5 522.8 L1427.7 523.4 L1428.9 523.9 L1430.2 524.3 L1431.4 524.7 L1432.6 525.1 L1433.9 525.4 L1435.1 525.7 L1436.3 526.0 L1437.5 526.2 L1438.8 526.4 L1440.0 526.5 L1441.2 526.5 L1442.5 526.6 L1443.7 526.6 L1444.9 526.5 L1446.1 526.4 L1447.4 526.2 L1448.6 526.0 L1449.8 525.8 L1451.0 525.4 L1452.3 525.1 L1453.5 524.7 L1454.7 524.2 L1456.0 523.7 L1457.2 523.2 L1458.4 522.5 L1459.6 521.9 L1460.9 521.2 L1462.1 520.4 L1463.3 519.6 L1464.6 518.7 L1465.8 517.7 L1467.0 516.7 L1468.2 515.7 L1469.5 514.6 L1470.7 513.4 L1471.9 512.2 L1473.1 511.0 L1474.4 509.6 L1475.6 508.3 L1476.8 506.8 L1478.1 505.4 L1479.3 503.8 L1480.5 502.2 L1481.7 500.6 L1483.0 498.9 L1484.2 497.1 L1485.4 495.3 L1486.7 493.5 L1487.9 491.6 L1489.1 489.6 L1490.3 487.6 L1491.6 485.6 L1492.8 483.5 L1494.0 481.3 L1495.3 479.2 L1496.5 476.9 L1497.7 474.7 L1498.9 472.4 L1500.2 470.0 L1501.4 467.6 L1502.6 465.2 L1503.8 462.8 L1505.1 460.3 L1506.3 457.8 L1507.5 455.2 L1508.8 452.7 L1510.0 450.1 L1511.2 447.5 L1512.4 444.8 L1513.7 442.2 L1514.9 439.5 L1516.1 436.8 L1517.4 434.1 L1518.6 431.4 L1519.8 428.7 L1521.0 426.0 L1522.3 423.3 L1523.5 420.6 L1524.7 417.9 L1525.9 415.2 L1527.2 412.5 L1528.4 409.8 L1529.6 407.1 L1530.9 404.5 L1532.1 401.8 L1533.3 399.2 L1534.5 396.6 L1535.8 394.1 L1537.0 391.5 L1538.2 389.0 L1539.5 386.5 L1540.7 384.1 L1541.9 381.7 L1543.1 379.3 L1544.4 377.0 L1545.6 374.7 L1546.8 372.5 L1548.0 370.4 L1549.3 368.2 L1550.5 366.2 L1551.7 364.2 L1553.0 362.2 L1554.2 360.3 L1555.4 358.5 L1556.6 356.7 L1557.9 355.0 L1559.1 353.4 L1560.3 351.9 L1561.6 350.4 L1562.8 349.0 L1564.0 347.6 L1565.2 346.4 L1566.5 345.2 L1567.7 344.1 L1568.9 343.1 L1570.1 342.1 L1571.4 341.2 L1572.6 340.5 L1573.8 339.7 L1575.1 339.1 L1576.3 338.6 L1577.5 338.1 L1578.7 337.8 L1580.0 337.5 L1581.2 337.3 L1582.4 337.2 L1583.7 337.1 L1584.9 337.2 L1586.1 337.3 L1587.3 337.6 L1588.6 337.9 L1589.8 338.3 L1591.0 338.7 L1592.2 339.3 L1593.5 339.9 L1594.7 340.6 L1595.9 341.4 L1597.2 342.3 L1598.4 343.3 L1599.6 344.3 L1600.8 345.4 L1602.1 346.5 L1603.3 347.8 L1604.5 349.1 L1605.8 350.5 L1607.0 351.9 L1608.2 353.4 L1609.4 355.0 L1610.7 356.6 L1611.9 358.3 L1613.1 360.1 L1614.3 361.9 L1615.6 363.8 L1616.8 365.7 L1618.0 367.7 L1619.3 369.7 L1620.5 371.7 L1621.7 373.8 L1622.9 376.0 L1624.2 378.2 L1625.4 380.4 L1626.6 382.7 L1627.9 385.0 L1629.1 387.3 L1630.3 389.6 L1631.5 392.0 L1632.8 394.4 L1634.0 396.9 L1635.2 399.3 L1636.5 401.8 L1637.7 404.3 L1638.9 406.8 L1640.1 409.3 L1641.4 411.8 L1642.6 414.3 L1643.8 416.9 L1645.0 419.4 L1646.3 422.0 L1647.5 424.5 L1648.7 427.0 L1650.0 429.6 L1651.2 432.1 L1652.4 434.7 L1653.6 437.2 L1654.9 439.7 L1656.1 442.2 L1657.3 444.7 L1658.6 447.2 L1659.8 449.7 L1661.0 452.1 L1662.2 454.5 L1663.5 457.0 L1664.7 459.4 L1665.9 461.7 L1667.1 464.1 L1668.4 466.4 L1669.6 468.7 L1670.8 471.0 L1672.1 473.3 L1673.3 475.5 L1674.5 477.7 L1675.7 479.9 L1677.0 482.1 L1678.2 484.2 L1679.4 486.3 L1680.7 488.4 L1681.9 490.4 L1683.1 492.4 L1684.3 494.4 L1685.6 496.4 L1686.8 498.3 L1688.0 500.2 L1689.2 502.0 L1690.5 503.9 L1691.7 505.6 L1692.9 507.4 L1694.2 509.1 L1695.4 510.8 L1696.6 512.5 L1697.8 514.1 L1699.1 515.7 L1700.3 517.3 L1701.5 518.8 L1702.8 520.3 L1704.0 521.8 L1705.2 523.2 L1706.4 524.6 L1707.7 525.9 L1708.9 527.3 L1710.1 528.6 L1711.3 529.8 L1712.6 531.0 L1713.8 532.2 L1715.0 533.4 L1716.3 534.5 L1717.5 535.6 L1718.7 536.7 L1719.9 537.7 L1721.2 538.7 L1722.4 539.6 L1723.6 540.5 L1724.9 541.4 L1726.1 542.2 L1727.3 543.1 L1728.5 543.8 L1729.8 544.5 L1731.0 545.2 L1732.2 545.9 L1733.4 546.5 L1734.7 547.1 L1735.9 547.6 L1737.1 548.1 L1738.4 548.6 L1739.6 549.0 L1740.8 549.4 L1742.0 549.7 L1743.3 550.0 L1744.5 550.3 L1745.7 550.5 L1747.0 550.7 L1748.2 550.8 L1749.4 550.9 L1750.6 550.9 L1751.9 550.9 L1753.1 550.8 L1754.3 550.7 L1755.5 550.6 L1756.8 550.4 L1758.0 550.1 L1759.2 549.8 L1760.5 549.5 L1761.7 549.1 L1762.9 548.6 L1764.1 548.1 L1765.4 547.5 L1766.6 546.9 L1767.8 546.3 L1769.1 545.6 L1770.3 544.8 L1771.5 544.0 L1772.7 543.1 L1774.0 542.2 L1775.2 541.2 L1776.4 540.1 L1777.6 539.1 L1778.9 537.9 L1780.1 536.7 L1781.3 535.4 L1782.6 534.1 L1783.8 532.8 L1785.0 531.3 L1786.2 529.9 L1787.5 528.3 L1788.7 526.7 L1789.9 525.1 L1791.2 523.4 L1792.4 521.7 L1793.6 519.9 L1794.8 518.0 L1796.1 516.1 L1797.3 514.2 L1798.5 512.2 L1799.8 510.1 L1801.0 508.0 L1802.2 505.9 L1803.4 503.7 L1804.7 501.5 L1805.9 499.3 L1807.1 496.9 L1808.3 494.6 L1809.6 492.2 L1810.8 489.8 L1812.0 487.4 L1813.3 484.9 L1814.5 482.4 L1815.7 479.8 L1816.9 477.3 L1818.2 474.7 L1819.4 472.1 L1820.6 469.5 L1821.9 466.8 L1823.1 464.1 L1824.3 461.5 L1825.5 458.8 L1826.8 456.1 L1828.0 453.4 L1829.2 450.6 L1830.4 447.9 L1831.7 445.2 L1832.9 442.5 L1834.1 439.8 L1835.4 437.1 L1836.6 434.4 L1837.8 431.8 L1839.0 429.1 L1840.3 426.5 L1841.5 423.8 L1842.7 421.2 L1844.0 418.7 L1845.2 416.1 L1846.4 413.6 L1847.6 411.1 L1848.9 408.7 L1850.1 406.3 L1851.3 403.9 L1852.5 401.6" stroke="#f00" stroke-width="7.4" fill="none" stroke-linejoin="round"/>
<rect x="225.85" y="118.95" width="1657.75" height="638.00" fill="none" stroke="#000" stroke-width="5.9"/>
<path d="M231.4 100.2V119.0M231.4 757.0V775.7M308.5 109.2V119.0M308.5 757.0V766.8M385.6 109.2V119.0M385.6 757.0V766.8M462.6 109.2V119.0M462.6 757.0V766.8M539.7 100.2V119.0M539.7 757.0V775.7M616.8 109.2V119.0M616.8 757.0V766.8M693.9 109.2V119.0M693.9 757.0V766.8M771.0 109.2V119.0M771.0 757.0V766.8M848.0 100.2V119.0M848.0 757.0V775.7M925.1 109.2V119.0M925.1 757.0V766.8M1002.2 109.2V119.0M1002.2 757.0V766.8M1079.3 109.2V119.0M1079.3 757.0V766.8M1156.4 100.2V119.0M1156.4 757.0V775.7M1233.4 109.2V119.0M1233.4 757.0V766.8M1310.5 109.2V119.0M1310.5 757.0V766.8M1387.6 109.2V119.0M1387.6 757.0V766.8M1464.7 100.2V119.0M1464.7 757.0V775.7M1541.8 109.2V119.0M1541.8 757.0V766.8M1618.8 109.2V119.0M1618.8 757.0V766.8M1695.9 109.2V119.0M1695.9 757.0V766.8M1773.0 100.2V119.0M1773.0 757.0V775.7M1850.1 109.2V119.0M1850.1 757.0V766.8M207.0 171.0H225.8M1883.6 171.0H1902.4M207.0 285.7H225.8M1883.6 285.7H1902.4M207.0 400.4H225.8M1883.6 400.4H1902.4M207.0 515.0H225.8M1883.6 515.0H1902.4M207.0 629.7H225.8M1883.6 629.7H1902.4M207.0 744.4H225.8M1883.6 744.4H1902.4" stroke="#000" stroke-width="2.6" fill="none"/>
<rect x="144.1" y="518.2" width="21.1" height="4.9"/>
<rect x="144.1" y="632.9" width="21.1" height="4.9"/>
<rect x="120.5" y="747.6" width="21.1" height="4.9"/>
<clipPath id="c1"><rect x="225.85" y="935.15" width="1657.75" height="637.9"/></clipPath>
<path clip-path="url(#c1)" d="M257.6 1359.4h0M258.5 1405.4h0M259.5 1402.8h0M260.4 1346.1h0M261.4 1354.9h0M262.3 1348.8h0M263.2 1387.8h0M264.2 1368.1h0M265.1 1397.4h0M266.0 1309.9h0M267.0 1429.6h0M267.9 1374.8h0M268.9 1404.5h0M269.8 1378.7h0M270.7 1372.9h0M271.7 1405.0h0M272.6 1420.4h0M273.6 1387.0h0M274.5 1391.4h0M275.4 1423.7h0M276.4 1371.2h0M277.3 1350.8h0M278.2 1421.5h0M279.2 1386.1h0M280.1 1343.8h0M281.1 1386.1h0M282.0 1401.2h0M282.9 1376.2h0M283.9 1366.4h0M284.8 1421.7h0M285.7 1452.8h0M286.7 1413.4h0M287.6 1396.2h0M288.6 1436.3h0M289.5 1448.3h0M290.4 1413.8h0M291.4 1443.4h0M292.3 1460.8h0M293.2 1419.0h0M294.2 1399.3h0M295.1 1438.9h0M296.1 1436.1h0M297.0 1464.8h0M297.9 1386.7h0M298.9 1406.1h0M299.8 1399.0h0M300.8 1367.0h0M301.7 1430.2h0M302.6 1443.7h0M303.6 1397.7h0M304.5 1473.9h0M305.4 1453.0h0M306.4 1445.3h0M307.3 1436.3h0M308.3 1457.0h0M309.2 1367.8h0M310.1 1442.9h0M311.1 1442.0h0M312.0 1345.9h0M312.9 1430.6h0M313.9 1404.6h0M314.8 1442.6h0M315.8 1392.8h0M316.7 1406.1h0M317.6 1416.2h0M318.6 1371.6h0M319.5 1418.3h0M320.4 1392.8h0M321.4 1408.3h0M322.3 1375.7h0M323.3 1418.1h0M324.2 1401.4h0M325.1 1378.4h0M326.1 1395.1h0M327.0 1405.8h0M328.0 1412.7h0M328.9 1340.9h0M329.8 1389.2h0M330.8 1380.8h0M331.7 1369.5h0M332.6 1351.0h0M333.6 1396.5h0M334.5 1345.3h0M335.5 1382.3h0M336.4 1397.3h0M337.3 1337.5h0M338.3 1364.0h0M339.2 1342.9h0M340.1 1375.1h0M341.1 1401.6h0M342.0 1412.3h0M343.0 1331.9h0M343.9 1357.1h0M344.8 1384.2h0M345.8 1402.6h0M346.7 1377.5h0M347.6 1352.3h0M348.6 1374.3h0M349.5 1367.2h0M350.5 1362.9h0M351.4 1351.3h0M352.3 1374.9h0M353.3 1372.9h0M354.2 1364.1h0M355.2 1361.0h0M356.1 1338.0h0M357.0 1354.7h0M358.0 1390.5h0M358.9 1360.4h0M359.8 1333.4h0M360.8 1392.7h0M361.7 1375.5h0M362.7 1410.1h0M363.6 1365.4h0M364.5 1353.8h0M365.5 1331.5h0M366.4 1394.0h0M367.3 1422.8h0M368.3 1345.1h0M369.2 1349.0h0M370.2 1378.0h0M371.1 1344.4h0M372.0 1357.6h0M373.0 1355.6h0M373.9 1368.7h0M374.8 1390.8h0M375.8 1364.6h0M376.7 1386.0h0M377.7 1352.1h0M378.6 1369.9h0M379.5 1307.4h0M380.5 1323.7h0M381.4 1379.5h0M382.4 1343.7h0M383.3 1372.6h0M384.2 1370.9h0M385.2 1390.1h0M386.1 1376.3h0M387.0 1380.9h0M388.0 1351.0h0M388.9 1335.0h0M389.9 1333.2h0M390.8 1338.8h0M391.7 1321.4h0M392.7 1336.7h0M393.6 1348.6h0M394.5 1357.7h0M395.5 1342.1h0M396.4 1300.5h0M397.4 1349.1h0M398.3 1357.0h0M399.2 1379.5h0M400.2 1366.2h0M401.1 1334.1h0M402.0 1332.0h0M403.0 1403.9h0M403.9 1370.9h0M404.9 1399.2h0M405.8 1407.0h0M406.7 1329.5h0M407.7 1361.8h0M408.6 1364.5h0M409.6 1368.0h0M410.5 1368.4h0M411.4 1360.6h0M412.4 1360.8h0M413.3 1319.8h0M414.2 1354.2h0M415.2 1340.8h0M416.1 1363.2h0M417.1 1349.8h0M418.0 1376.8h0M418.9 1382.4h0M419.9 1371.2h0M420.8 1372.2h0M421.7 1367.9h0M422.7 1356.3h0M423.6 1362.0h0M424.6 1353.5h0M425.5 1373.3h0M426.4 1363.8h0M427.4 1376.3h0M428.3 1330.6h0M429.2 1382.1h0M430.2 1342.2h0M431.1 1342.0h0M432.1 1354.0h0M433.0 1344.4h0M433.9 1364.2h0M434.9 1342.5h0M435.8 1329.6h0M436.8 1334.2h0M437.7 1386.3h0M438.6 1354.4h0M439.6 1323.3h0M440.5 1352.0h0M441.4 1311.0h0M442.4 1396.6h0M443.3 1309.4h0M444.3 1361.3h0M445.2 1362.4h0M446.1 1307.7h0M447.1 1354.5h0M448.0 1373.1h0M448.9 1357.8h0M449.9 1351.3h0M450.8 1370.3h0M451.8 1347.0h0M452.7 1351.4h0M453.6 1337.1h0M454.6 1359.2h0M455.5 1311.1h0M456.4 1363.8h0M457.4 1323.0h0M458.3 1303.6h0M459.3 1349.8h0M460.2 1393.2h0M461.1 1369.1h0M462.1 1319.0h0M463.0 1360.1h0M464.0 1319.7h0M464.9 1330.7h0M465.8 1337.8h0M466.8 1249.9h0M467.7 1340.8h0M468.6 1294.8h0M469.6 1306.4h0M470.5 1276.8h0M471.5 1274.8h0M472.4 1295.8h0M473.3 1360.7h0M474.3 1390.8h0M475.2 1328.1h0M476.1 1368.1h0M477.1 1318.2h0M478.0 1258.3h0M479.0 1331.8h0M479.9 1341.7h0M480.8 1310.1h0M481.8 1335.2h0M482.7 1344.0h0M483.6 1293.3h0M484.6 1271.7h0M485.5 1314.1h0M486.5 1313.2h0M487.4 1307.2h0M488.3 1349.8h0M489.3 1371.7h0M490.2 1301.4h0M491.2 1335.1h0M492.1 1340.8h0M493.0 1332.0h0M494.0 1340.2h0M494.9 1296.2h0M495.8 1327.5h0M496.8 1362.1h0M497.7 1325.7h0M498.7 1285.1h0M499.6 1316.9h0M500.5 1332.4h0M501.5 1307.5h0M502.4 1280.6h0M503.3 1337.7h0M504.3 1257.2h0M505.2 1306.1h0M506.2 1289.3h0M507.1 1252.0h0M508.0 1324.4h0M509.0 1296.1h0M509.9 1246.1h0M510.8 1301.7h0M511.8 1266.1h0M512.7 1214.3h0M513.7 1253.5h0M514.6 1285.0h0M515.5 1296.9h0M516.5 1279.1h0M517.4 1274.9h0M518.4 1290.3h0M519.3 1266.0h0M520.2 1315.7h0M521.2 1279.1h0M522.1 1284.4h0M523.0 1293.3h0M524.0 1237.0h0M524.9 1249.5h0M525.9 1328.3h0M526.8 1286.5h0M527.7 1265.1h0M528.7 1287.0h0M529.6 1258.5h0M530.5 1285.1h0M531.5 1252.6h0M532.4 1285.7h0M533.4 1222.7h0M534.3 1324.0h0M535.2 1261.3h0M536.2 1225.4h0M537.1 1273.2h0M538.0 1269.1h0M539.0 1288.0h0M539.9 1244.2h0M540.9 1298.4h0M541.8 1375.3h0M542.7 1242.4h0M543.7 1299.1h0M544.6 1277.7h0M545.6 1296.0h0M546.5 1227.8h0M547.4 1251.5h0M548.4 1307.5h0M549.3 1291.2h0M550.2 1347.6h0M551.2 1270.5h0M552.1 1300.0h0M553.1 1378.5h0M554.0 1271.3h0M554.9 1267.9h0M555.9 1295.8h0M556.8 1296.1h0M557.7 1323.6h0M558.7 1302.6h0M559.6 1277.1h0M560.6 1306.1h0M561.5 1374.9h0M562.4 1337.1h0M563.4 1229.5h0M564.3 1299.4h0M565.2 1280.2h0M566.2 1323.2h0M567.1 1302.3h0M568.1 1362.3h0M569.0 1335.6h0M569.9 1335.7h0M570.9 1317.3h0M571.8 1312.2h0M572.8 1324.1h0M573.7 1352.0h0M574.6 1332.0h0M575.6 1308.5h0M576.5 1355.2h0M577.4 1326.2h0M578.4 1319.9h0M579.3 1301.4h0M580.3 1309.3h0M581.2 1308.8h0M582.1 1251.1h0M583.1 1362.5h0M584.0 1350.9h0M584.9 1328.2h0M585.9 1370.9h0M586.8 1353.3h0M587.8 1353.2h0M588.7 1257.7h0M589.6 1336.3h0M590.6 1365.2h0M591.5 1406.2h0M592.4 1417.5h0M593.4 1405.0h0M594.3 1309.5h0M595.3 1268.0h0M596.2 1366.2h0M597.1 1342.5h0M598.1 1371.3h0M599.0 1329.4h0M600.0 1337.2h0M600.9 1276.6h0M601.8 1336.4h0M602.8 1304.1h0M603.7 1325.0h0M604.6 1324.1h0M605.6 1302.9h0M606.5 1311.6h0M607.5 1298.2h0M608.4 1315.4h0M609.3 1304.1h0M610.3 1274.3h0M611.2 1273.2h0M612.1 1334.5h0M613.1 1286.0h0M614.0 1314.7h0M615.0 1299.0h0M615.9 1273.8h0M616.8 1269.0h0M617.8 1291.8h0M618.7 1295.4h0M619.6 1304.8h0M620.6 1255.3h0M621.5 1273.0h0M622.5 1286.1h0M623.4 1330.7h0M624.3 1226.6h0M625.3 1300.2h0M626.2 1275.5h0M627.2 1302.3h0M628.1 1279.2h0M629.0 1303.0h0M630.0 1335.8h0M630.9 1305.2h0M631.8 1308.6h0M632.8 1308.2h0M633.7 1280.0h0M634.7 1315.2h0M635.6 1296.7h0M636.5 1282.1h0M637.5 1303.7h0M638.4 1300.0h0M639.3 1327.0h0M640.3 1307.3h0M641.2 1295.6h0M642.2 1347.7h0M643.1 1335.5h0M644.0 1342.9h0M645.0 1325.8h0M645.9 1307.4h0M646.8 1299.6h0M647.8 1303.4h0M648.7 1334.9h0M649.7 1313.7h0M650.6 1273.6h0M651.5 1310.2h0M652.5 1275.8h0M653.4 1315.6h0M654.4 1281.7h0M655.3 1280.5h0M656.2 1314.9h0M657.2 1310.7h0M658.1 1272.5h0M659.0 1333.5h0M660.0 1370.0h0M660.9 1279.9h0M661.9 1363.9h0M662.8 1301.8h0M663.7 1307.8h0M664.7 1316.8h0M665.6 1285.5h0M666.5 1356.9h0M667.5 1337.4h0M668.4 1306.3h0M669.4 1319.7h0M670.3 1288.4h0M671.2 1320.0h0M672.2 1354.7h0M673.1 1284.6h0M674.0 1317.6h0M675.0 1332.3h0M675.9 1355.3h0M676.9 1362.6h0M677.8 1314.5h0M678.7 1306.5h0M679.7 1337.1h0M680.6 1315.1h0M681.6 1315.9h0M682.5 1351.8h0M683.4 1367.2h0M684.4 1329.1h0M685.3 1316.5h0M686.2 1335.9h0M687.2 1270.7h0M688.1 1319.6h0M689.1 1293.4h0M690.0 1382.8h0M690.9 1340.6h0M691.9 1326.7h0M692.8 1319.2h0M693.7 1263.4h0M694.7 1342.7h0M695.6 1365.1h0M696.6 1310.0h0M697.5 1343.8h0M698.4 1345.2h0M699.4 1294.4h0M700.3 1351.1h0M701.2 1360.9h0M702.2 1336.8h0M703.1 1331.2h0M704.1 1350.4h0M705.0 1301.0h0M705.9 1337.4h0M706.9 1359.5h0M707.8 1309.5h0M708.8 1360.4h0M709.7 1329.6h0M710.6 1292.4h0M711.6 1338.5h0M712.5 1319.3h0M713.4 1350.3h0M714.4 1316.0h0M715.3 1369.8h0M716.3 1327.9h0M717.2 1355.2h0M718.1 1333.0h0M719.1 1340.5h0M720.0 1376.7h0M720.9 1352.3h0M721.9 1337.3h0M722.8 1317.1h0M723.8 1371.6h0M724.7 1361.0h0M725.6 1336.9h0M726.6 1348.6h0M727.5 1321.1h0M728.4 1321.2h0M729.4 1324.8h0M730.3 1348.0h0M731.3 1346.1h0M732.2 1325.4h0M733.1 1352.8h0M734.1 1352.8h0M735.0 1340.6h0M735.9 1355.7h0M736.9 1328.1h0M737.8 1329.8h0M738.8 1340.9h0M739.7 1328.0h0M740.6 1345.9h0M741.6 1294.5h0M742.5 1360.0h0M743.5 1301.3h0M744.4 1315.7h0M745.3 1279.6h0M746.3 1334.2h0M747.2 1353.2h0M748.1 1346.3h0M749.1 1338.0h0M750.0 1259.1h0M751.0 1282.8h0M751.9 1292.1h0M752.8 1275.3h0M753.8 1341.6h0M754.7 1309.6h0M755.6 1301.4h0M756.6 1317.0h0M757.5 1268.5h0M758.5 1268.7h0M759.4 1268.3h0M760.3 1312.3h0M761.3 1306.0h0M762.2 1312.5h0M763.1 1327.7h0M764.1 1246.4h0M765.0 1271.3h0M766.0 1293.5h0M766.9 1244.9h0M767.8 1271.6h0M768.8 1320.7h0M769.7 1323.1h0M770.7 1321.8h0M771.6 1289.9h0M772.5 1282.3h0M773.5 1320.6h0M774.4 1277.7h0M775.3 1298.4h0M776.3 1326.3h0M777.2 1278.3h0M778.2 1271.7h0M779.1 1288.4h0M780.0 1304.7h0M781.0 1301.4h0M781.9 1291.7h0M782.8 1300.2h0M783.8 1240.4h0M784.7 1257.8h0M785.7 1283.3h0M786.6 1251.2h0M787.5 1237.5h0M788.5 1238.7h0M789.4 1244.4h0M790.3 1262.9h0M791.3 1236.7h0M792.2 1270.2h0M793.2 1310.1h0M794.1 1254.9h0M795.0 1294.1h0M796.0 1263.2h0M796.9 1219.5h0M797.9 1243.9h0M798.8 1221.8h0M799.7 1271.8h0M800.7 1215.4h0M801.6 1285.5h0M802.5 1263.2h0M803.5 1188.8h0M804.4 1266.8h0M805.4 1287.1h0M806.3 1221.2h0M807.2 1269.1h0M808.2 1192.2h0M809.1 1247.0h0M810.0 1194.7h0M811.0 1251.1h0M811.9 1190.1h0M812.9 1168.1h0M813.8 1246.1h0M814.7 1295.5h0M815.7 1218.3h0M816.6 1255.5h0M817.5 1235.5h0M818.5 1223.1h0M819.4 1247.6h0M820.4 1274.7h0M821.3 1195.8h0M822.2 1244.0h0M823.2 1237.3h0M824.1 1187.9h0M825.1 1270.8h0M826.0 1279.5h0M826.9 1198.3h0M827.9 1272.4h0M828.8 1225.6h0M829.7 1220.1h0M830.7 1266.5h0M831.6 1232.1h0M832.6 1235.2h0M833.5 1267.8h0M834.4 1262.0h0M835.4 1252.0h0M836.3 1192.3h0M837.2 1188.7h0M838.2 1259.3h0M839.1 1207.1h0M840.1 1235.3h0M841.0 1205.0h0M841.9 1228.1h0M842.9 1201.6h0M843.8 1274.2h0M844.7 1210.8h0M845.7 1235.0h0M846.6 1235.3h0M847.6 1272.2h0M848.5 1208.4h0M849.4 1245.3h0M850.4 1242.9h0M851.3 1263.7h0M852.3 1264.3h0M853.2 1242.4h0M854.1 1262.4h0M855.1 1248.6h0M856.0 1272.5h0M856.9 1259.7h0M857.9 1247.3h0M858.8 1265.7h0M859.8 1277.7h0M860.7 1329.2h0M861.6 1256.9h0M862.6 1279.2h0M863.5 1311.6h0M864.4 1216.0h0M865.4 1225.8h0M866.3 1241.7h0M867.3 1272.4h0M868.2 1345.2h0M869.1 1288.6h0M870.1 1312.9h0M871.0 1273.0h0M871.9 1209.1h0M872.9 1213.9h0M873.8 1312.0h0M874.8 1288.6h0M875.7 1245.5h0M876.6 1317.5h0M877.6 1239.6h0M878.5 1319.3h0M879.5 1329.3h0M880.4 1264.4h0M881.3 1254.9h0M882.3 1313.2h0M883.2 1256.5h0M884.1 1315.0h0M885.1 1254.8h0M886.0 1314.6h0M887.0 1294.1h0M887.9 1279.2h0M888.8 1266.1h0M889.8 1300.3h0M890.7 1237.9h0M891.6 1285.3h0M892.6 1281.4h0M893.5 1311.8h0M894.5 1256.4h0M895.4 1339.6h0M896.3 1282.3h0M897.3 1259.3h0M898.2 1327.7h0M899.1 1334.3h0M900.1 1284.1h0M901.0 1265.2h0M902.0 1288.6h0M902.9 1270.0h0M903.8 1279.3h0M904.8 1325.9h0M905.7 1296.0h0M906.7 1289.8h0M907.6 1295.2h0M908.5 1285.7h0M909.5 1308.1h0M910.4 1309.4h0M911.3 1279.7h0M912.3 1291.6h0M913.2 1347.2h0M914.2 1300.0h0M915.1 1286.0h0M916.0 1339.3h0M917.0 1291.6h0M917.9 1266.2h0M918.8 1308.0h0M919.8 1271.9h0M920.7 1281.8h0M921.7 1301.2h0M922.6 1290.2h0M923.5 1274.9h0M924.5 1278.9h0M925.4 1277.1h0M926.3 1315.1h0M927.3 1272.7h0M928.2 1275.1h0M929.2 1330.3h0M930.1 1273.8h0M931.0 1316.0h0M932.0 1311.2h0M932.9 1279.6h0M933.9 1252.8h0M934.8 1290.1h0M935.7 1293.5h0M936.7 1298.3h0M937.6 1279.8h0M938.5 1303.9h0M939.5 1309.4h0M940.4 1258.4h0M941.4 1313.8h0M942.3 1287.0h0M943.2 1270.8h0M944.2 1277.3h0M945.1 1331.9h0M946.0 1311.5h0M947.0 1241.7h0M947.9 1290.9h0M948.9 1285.9h0M949.8 1285.7h0M950.7 1277.1h0M951.7 1250.7h0M952.6 1318.6h0M953.5 1265.7h0M954.5 1281.6h0M955.4 1274.0h0M956.4 1269.5h0M957.3 1310.9h0M958.2 1299.6h0M959.2 1268.7h0M960.1 1260.3h0M961.1 1272.8h0M962.0 1311.7h0M962.9 1287.4h0M963.9 1289.4h0M964.8 1273.2h0M965.7 1274.2h0M966.7 1286.0h0M967.6 1230.4h0M968.6 1320.7h0M969.5 1256.9h0M970.4 1261.8h0M971.4 1309.9h0M972.3 1280.3h0M973.2 1274.7h0M974.2 1258.1h0M975.1 1232.9h0M976.1 1275.4h0M977.0 1299.2h0M977.9 1247.1h0M978.9 1300.9h0M979.8 1240.1h0M980.7 1248.7h0M981.7 1277.1h0M982.6 1264.3h0M983.6 1279.3h0M984.5 1245.7h0M985.4 1239.7h0M986.4 1221.1h0M987.3 1237.0h0M988.3 1240.5h0M989.2 1233.1h0M990.1 1273.6h0M991.1 1251.9h0M992.0 1222.1h0M992.9 1325.5h0M993.9 1249.8h0M994.8 1240.8h0M995.8 1298.8h0M996.7 1297.7h0M997.6 1245.1h0M998.6 1238.3h0M999.5 1249.8h0M1000.4 1299.4h0M1001.4 1265.9h0M1002.3 1253.8h0M1003.3 1272.9h0M1004.2 1304.2h0M1005.1 1238.1h0M1006.1 1264.0h0M1007.0 1237.2h0M1007.9 1333.6h0M1008.9 1325.0h0M1009.8 1301.5h0M1010.8 1271.0h0M1011.7 1294.3h0M1012.6 1212.7h0M1013.6 1283.7h0M1014.5 1234.5h0M1015.5 1234.3h0M1016.4 1253.2h0M1017.3 1263.5h0M1018.3 1290.4h0M1019.2 1293.0h0M1020.1 1279.3h0M1021.1 1244.3h0M1022.0 1288.9h0M1023.0 1266.1h0M1023.9 1300.2h0M1024.8 1243.7h0M1025.8 1200.0h0M1026.7 1254.2h0M1027.6 1318.8h0M1028.6 1276.1h0M1029.5 1259.3h0M1030.5 1283.8h0M1031.4 1274.3h0M1032.3 1273.5h0M1033.3 1250.3h0M1034.2 1264.5h0M1035.1 1267.6h0M1036.1 1246.5h0M1037.0 1234.1h0M1038.0 1266.2h0M1038.9 1288.1h0M1039.8 1279.9h0M1040.8 1276.0h0M1041.7 1276.5h0M1042.7 1334.6h0M1043.6 1270.0h0M1044.5 1292.5h0M1045.5 1319.5h0M1046.4 1264.2h0M1047.3 1270.3h0M1048.3 1293.4h0M1049.2 1312.6h0M1050.2 1271.4h0M1051.1 1272.7h0M1052.0 1264.3h0M1053.0 1224.9h0M1053.9 1295.3h0M1054.8 1253.3h0M1055.8 1208.2h0M1056.7 1256.3h0M1057.7 1207.2h0M1058.6 1229.2h0M1059.5 1260.8h0M1060.5 1230.8h0M1061.4 1293.1h0M1062.3 1208.8h0M1063.3 1265.0h0M1064.2 1274.2h0M1065.2 1305.3h0M1066.1 1285.8h0M1067.0 1259.8h0M1068.0 1253.0h0M1068.9 1246.5h0M1069.9 1292.3h0M1070.8 1219.9h0M1071.7 1266.4h0M1072.7 1239.9h0M1073.6 1252.8h0M1074.5 1230.0h0M1075.5 1334.2h0M1076.4 1210.1h0M1077.4 1249.9h0M1078.3 1250.3h0M1079.2 1264.4h0M1080.2 1256.8h0M1081.1 1255.0h0M1082.0 1279.1h0M1083.0 1168.2h0M1083.9 1234.8h0M1084.9 1179.0h0M1085.8 1243.4h0M1086.7 1180.0h0M1087.7 1189.3h0M1088.6 1228.6h0M1089.5 1292.5h0M1090.5 1255.6h0M1091.4 1242.5h0M1092.4 1291.6h0M1093.3 1186.0h0M1094.2 1133.4h0M1095.2 1208.2h0M1096.1 1214.3h0M1097.1 1283.6h0M1098.0 1325.5h0M1098.9 1163.6h0M1099.9 1341.7h0M1100.8 1298.8h0M1101.7 1264.2h0M1102.7 1241.5h0M1103.6 1340.3h0M1104.6 1226.8h0M1105.5 1199.3h0M1106.4 1228.8h0M1107.4 1154.6h0M1108.3 1245.4h0M1109.2 1217.5h0M1110.2 1239.2h0M1111.1 1241.0h0M1112.1 1173.7h0M1113.0 1287.0h0M1113.9 1177.4h0M1114.9 1267.2h0M1115.8 1152.0h0M1116.7 1243.7h0M1117.7 1189.4h0M1118.6 1229.4h0M1119.6 1198.5h0M1120.5 1130.2h0M1121.4 1179.1h0M1122.4 1232.4h0M1123.3 1257.0h0M1124.3 1162.8h0M1125.2 1132.3h0M1126.1 1188.1h0M1127.1 1217.6h0M1128.0 1197.7h0M1128.9 1188.9h0M1129.9 1265.6h0M1130.8 1270.8h0M1131.8 1260.0h0M1132.7 1179.9h0M1133.6 1227.7h0M1134.6 1214.3h0M1135.5 1154.0h0M1136.4 1265.6h0M1137.4 1226.5h0M1138.3 1197.8h0M1139.3 1289.9h0M1140.2 1256.6h0M1141.1 1259.7h0M1142.1 1274.9h0M1143.0 1250.4h0M1143.9 1155.0h0M1144.9 1195.6h0M1145.8 1259.9h0M1146.8 1175.9h0M1147.7 1212.4h0M1148.6 1227.8h0M1149.6 1274.3h0M1150.5 1266.3h0M1151.5 1246.7h0M1152.4 1196.8h0M1153.3 1244.7h0M1154.3 1227.9h0M1155.2 1199.5h0M1156.1 1269.1h0M1157.1 1233.0h0M1158.0 1179.7h0M1159.0 1271.6h0M1159.9 1206.3h0M1160.8 1246.1h0M1161.8 1154.4h0M1162.7 1223.3h0M1163.6 1184.4h0M1164.6 1185.3h0M1165.5 1145.9h0M1166.5 1327.9h0M1167.4 1228.4h0M1168.3 1247.8h0M1169.3 1288.5h0M1170.2 1234.2h0M1171.1 1261.9h0M1172.1 1180.1h0M1173.0 1247.5h0M1174.0 1221.1h0M1174.9 1260.0h0M1175.8 1246.2h0M1176.8 1180.2h0M1177.7 1161.0h0M1178.7 1196.0h0M1179.6 1268.2h0M1180.5 1255.1h0M1181.5 1253.9h0M1182.4 1156.1h0M1183.3 1133.1h0M1184.3 1212.3h0M1185.2 1223.9h0M1186.2 1213.3h0M1187.1 1252.3h0M1188.0 1231.4h0M1189.0 1189.6h0M1189.9 1202.4h0M1190.8 1245.8h0M1191.8 1243.3h0M1192.7 1237.4h0M1193.7 1340.8h0M1194.6 1229.9h0M1195.5 1247.5h0M1196.5 1197.2h0M1197.4 1226.5h0M1198.3 1267.8h0M1199.3 1270.5h0M1200.2 1236.9h0M1201.2 1263.1h0M1202.1 1246.6h0M1203.0 1155.0h0M1204.0 1121.3h0M1204.9 1351.0h0M1205.9 1281.3h0M1206.8 1239.7h0M1207.7 1161.9h0M1208.7 1183.2h0M1209.6 1303.4h0M1210.5 1122.7h0M1211.5 1226.1h0M1212.4 1279.7h0M1213.4 1246.6h0M1214.3 1273.6h0M1215.2 1233.7h0M1216.2 1345.4h0M1217.1 1193.0h0M1218.0 1178.0h0M1219.0 1247.2h0M1219.9 1294.3h0M1220.9 1230.7h0M1221.8 1274.6h0M1222.7 1209.2h0M1223.7 1182.3h0M1224.6 1282.7h0M1225.5 1287.1h0M1226.5 1283.6h0M1227.4 1208.0h0M1228.4 1180.7h0M1229.3 1179.6h0M1230.2 1212.6h0M1231.2 1239.6h0M1232.1 1235.9h0M1233.1 1170.5h0M1234.0 1225.2h0M1234.9 1219.5h0M1235.9 1221.9h0M1236.8 1218.5h0M1237.7 1213.3h0M1238.7 1237.0h0M1239.6 1223.4h0M1240.6 1226.2h0M1241.5 1201.1h0M1242.4 1230.8h0M1243.4 1217.2h0M1244.3 1167.0h0M1245.2 1232.6h0M1246.2 1214.5h0M1247.1 1242.5h0M1248.1 1217.2h0M1249.0 1218.5h0M1249.9 1225.5h0M1250.9 1220.2h0M1251.8 1209.8h0M1252.7 1177.9h0M1253.7 1263.6h0M1254.6 1182.3h0M1255.6 1211.5h0M1256.5 1235.2h0M1257.4 1228.5h0M1258.4 1232.9h0M1259.3 1237.7h0M1260.3 1249.6h0M1261.2 1226.0h0M1262.1 1282.4h0M1263.1 1193.4h0M1264.0 1223.5h0M1264.9 1208.7h0M1265.9 1203.7h0M1266.8 1223.5h0M1267.8 1251.3h0M1268.7 1198.5h0M1269.6 1198.1h0M1270.6 1231.9h0M1271.5 1227.1h0M1272.4 1260.0h0M1273.4 1237.4h0M1274.3 1218.2h0M1275.3 1204.6h0M1276.2 1216.8h0M1277.1 1207.3h0M1278.1 1179.4h0M1279.0 1212.0h0M1279.9 1210.4h0M1280.9 1211.7h0M1281.8 1209.5h0M1282.8 1266.3h0M1283.7 1244.1h0M1284.6 1253.8h0M1285.6 1214.8h0M1286.5 1205.7h0M1287.5 1229.0h0M1288.4 1247.0h0M1289.3 1232.5h0M1290.3 1239.8h0M1291.2 1278.1h0M1292.1 1260.6h0M1293.1 1222.4h0M1294.0 1242.8h0M1295.0 1236.2h0M1295.9 1263.9h0M1296.8 1220.6h0M1297.8 1252.9h0M1298.7 1281.0h0M1299.6 1260.1h0M1300.6 1230.8h0M1301.5 1240.6h0M1302.5 1264.0h0M1303.4 1275.4h0M1304.3 1286.5h0M1305.3 1256.7h0M1306.2 1221.5h0M1307.1 1304.7h0M1308.1 1271.0h0M1309.0 1274.4h0M1310.0 1271.5h0M1310.9 1229.5h0M1311.8 1249.4h0M1312.8 1265.8h0M1313.7 1289.2h0M1314.7 1256.6h0M1315.6 1166.7h0M1316.5 1243.3h0M1317.5 1262.0h0M1318.4 1293.6h0M1319.3 1272.1h0M1320.3 1335.3h0M1321.2 1296.0h0M1322.2 1292.4h0M1323.1 1276.3h0M1324.0 1185.7h0M1325.0 1270.5h0M1325.9 1260.3h0M1326.8 1215.9h0M1327.8 1259.8h0M1328.7 1253.1h0M1329.7 1218.3h0M1330.6 1231.8h0M1331.5 1226.3h0M1332.5 1245.7h0M1333.4 1219.9h0M1334.3 1258.1h0M1335.3 1161.0h0M1336.2 1225.5h0M1337.2 1170.2h0M1338.1 1217.6h0M1339.0 1257.0h0M1340.0 1237.5h0M1340.9 1232.3h0M1341.9 1240.2h0M1342.8 1299.7h0M1343.7 1196.4h0M1344.7 1274.6h0M1345.6 1183.0h0M1346.5 1224.3h0M1347.5 1249.3h0M1348.4 1211.8h0M1349.4 1252.7h0M1350.3 1273.2h0M1351.2 1202.3h0M1352.2 1244.9h0M1353.1 1234.8h0M1354.0 1178.5h0M1355.0 1243.8h0M1355.9 1222.6h0M1356.9 1300.5h0M1357.8 1221.0h0M1358.7 1312.1h0M1359.7 1233.6h0M1360.6 1319.0h0M1361.5 1270.6h0M1362.5 1267.5h0M1363.4 1279.0h0M1364.4 1281.9h0M1365.3 1297.8h0M1366.2 1307.8h0M1367.2 1241.2h0M1368.1 1213.1h0M1369.1 1171.9h0M1370.0 1240.4h0M1370.9 1275.1h0M1371.9 1263.5h0M1372.8 1254.0h0M1373.7 1237.8h0M1374.7 1226.9h0M1375.6 1234.6h0M1376.6 1250.9h0M1377.5 1188.1h0M1378.4 1254.8h0M1379.4 1192.2h0M1380.3 1225.1h0M1381.2 1209.7h0M1382.2 1214.3h0M1383.1 1194.0h0M1384.1 1188.9h0M1385.0 1210.1h0M1385.9 1186.0h0M1386.9 1272.0h0M1387.8 1197.7h0M1388.7 1190.9h0M1389.7 1192.7h0M1390.6 1179.3h0M1391.6 1145.6h0M1392.5 1197.2h0M1393.4 1209.5h0M1394.4 1166.3h0M1395.3 1200.5h0M1396.3 1171.8h0M1397.2 1197.7h0M1398.1 1205.6h0M1399.1 1207.4h0M1400.0 1205.3h0M1400.9 1179.3h0M1401.9 1212.9h0M1402.8 1183.2h0M1403.8 1199.5h0M1404.7 1206.7h0M1405.6 1183.6h0M1406.6 1160.1h0M1407.5 1203.2h0M1408.4 1161.2h0M1409.4 1165.4h0M1410.3 1158.9h0M1411.3 1207.1h0M1412.2 1180.7h0M1413.1 1124.6h0M1414.1 1203.1h0M1415.0 1239.4h0M1415.9 1232.0h0M1416.9 1164.8h0M1417.8 1182.4h0M1418.8 1194.3h0M1419.7 1205.6h0M1420.6 1180.2h0M1421.6 1146.8h0M1422.5 1201.4h0M1423.5 1197.3h0M1424.4 1139.8h0M1425.3 1168.3h0M1426.3 1187.1h0M1427.2 1179.0h0M1428.1 1194.6h0M1429.1 1202.6h0M1430.0 1195.1h0M1431.0 1175.7h0M1431.9 1139.2h0M1432.8 1197.3h0M1433.8 1220.5h0M1434.7 1237.4h0M1435.6 1178.1h0M1436.6 1178.0h0M1437.5 1220.1h0M1438.5 1219.3h0M1439.4 1188.5h0M1440.3 1198.4h0M1441.3 1158.7h0M1442.2 1194.5h0M1443.1 1157.6h0M1444.1 1175.4h0M1445.0 1176.0h0M1446.0 1167.5h0M1446.9 1127.6h0M1447.8 1159.3h0M1448.8 1187.0h0M1449.7 1177.7h0M1450.7 1170.3h0M1451.6 1189.6h0M1452.5 1195.9h0M1453.5 1199.9h0M1454.4 1163.0h0M1455.3 1182.1h0M1456.3 1174.6h0M1457.2 1163.0h0M1458.2 1149.9h0M1459.1 1181.3h0M1460.0 1164.8h0M1461.0 1231.5h0M1461.9 1182.7h0M1462.8 1180.5h0M1463.8 1177.3h0M1464.7 1226.6h0M1465.7 1166.7h0M1466.6 1183.7h0M1467.5 1171.0h0M1468.5 1185.1h0M1469.4 1187.3h0M1470.3 1211.8h0M1471.3 1158.4h0M1472.2 1188.5h0M1473.2 1223.8h0M1474.1 1178.7h0M1475.0 1186.1h0M1476.0 1171.3h0M1476.9 1135.4h0M1477.9 1188.6h0M1478.8 1216.3h0M1479.7 1181.5h0M1480.7 1152.4h0M1481.6 1197.9h0M1482.5 1194.7h0M1483.5 1215.8h0M1484.4 1214.8h0M1485.4 1189.2h0M1486.3 1205.2h0M1487.2 1155.2h0M1488.2 1223.8h0M1489.1 1202.8h0M1490.0 1225.3h0M1491.0 1225.9h0M1491.9 1193.7h0M1492.9 1197.8h0M1493.8 1180.2h0M1494.7 1150.3h0M1495.7 1200.4h0M1496.6 1208.6h0M1497.5 1176.7h0M1498.5 1224.0h0M1499.4 1208.3h0M1500.4 1217.7h0M1501.3 1186.9h0M1502.2 1162.3h0M1503.2 1226.5h0M1504.1 1222.5h0M1505.0 1205.0h0M1506.0 1197.7h0M1506.9 1201.6h0M1507.9 1205.3h0M1508.8 1196.8h0M1509.7 1161.8h0M1510.7 1227.9h0M1511.6 1175.2h0M1512.6 1202.5h0M1513.5 1203.5h0M1514.4 1217.4h0M1515.4 1172.2h0M1516.3 1242.1h0M1517.2 1229.2h0M1518.2 1232.9h0M1519.1 1246.9h0M1520.1 1192.5h0M1521.0 1143.6h0M1521.9 1224.2h0M1522.9 1252.6h0M1523.8 1249.5h0M1524.7 1200.7h0M1525.7 1214.1h0M1526.6 1226.0h0M1527.6 1162.1h0M1528.5 1197.8h0M1529.4 1200.2h0M1530.4 1266.9h0M1531.3 1202.7h0M1532.2 1266.0h0M1533.2 1223.6h0M1534.1 1180.2h0M1535.1 1281.6h0M1536.0 1202.1h0M1536.9 1241.8h0M1537.9 1267.4h0M1538.8 1217.1h0M1539.8 1203.5h0M1540.7 1252.4h0M1541.6 1233.1h0M1542.6 1209.3h0M1543.5 1213.8h0M1544.4 1227.5h0M1545.4 1252.6h0M1546.3 1231.0h0M1547.3 1248.5h0M1548.2 1266.8h0M1549.1 1260.7h0M1550.1 1264.2h0M1551.0 1261.3h0M1551.9 1213.1h0M1552.9 1262.5h0M1553.8 1247.9h0M1554.8 1241.0h0M1555.7 1225.7h0M1556.6 1218.1h0M1557.6 1227.0h0M1558.5 1245.9h0M1559.4 1227.7h0M1560.4 1233.9h0M1561.3 1237.5h0M1562.3 1258.9h0M1563.2 1243.4h0M1564.1 1246.2h0M1565.1 1270.7h0M1566.0 1243.9h0M1567.0 1259.4h0M1567.9 1232.5h0M1568.8 1255.6h0M1569.8 1252.4h0M1570.7 1253.7h0M1571.6 1243.4h0M1572.6 1234.5h0M1573.5 1246.8h0M1574.5 1244.3h0M1575.4 1269.2h0M1576.3 1267.1h0M1577.3 1232.5h0M1578.2 1262.5h0M1579.1 1244.4h0M1580.1 1259.8h0M1581.0 1244.3h0M1582.0 1228.1h0M1582.9 1268.9h0M1583.8 1259.7h0M1584.8 1232.1h0M1585.7 1221.2h0M1586.6 1243.5h0M1587.6 1232.8h0M1588.5 1246.3h0M1589.5 1262.4h0M1590.4 1276.4h0M1591.3 1246.2h0M1592.3 1274.8h0M1593.2 1271.2h0M1594.2 1244.4h0M1595.1 1223.3h0M1596.0 1265.8h0M1597.0 1261.6h0M1597.9 1291.5h0M1598.8 1275.6h0M1599.8 1264.3h0M1600.7 1280.1h0M1601.7 1232.0h0M1602.6 1253.7h0M1603.5 1245.3h0M1604.5 1281.2h0M1605.4 1260.0h0M1606.3 1202.6h0M1607.3 1274.4h0M1608.2 1232.3h0M1609.2 1263.3h0M1610.1 1239.5h0M1611.0 1252.9h0M1612.0 1260.2h0M1612.9 1251.4h0M1613.8 1228.6h0M1614.8 1274.8h0M1615.7 1254.7h0M1616.7 1246.1h0M1617.6 1260.6h0M1618.5 1234.8h0M1619.5 1284.9h0M1620.4 1250.0h0M1621.4 1252.7h0M1622.3 1250.9h0M1623.2 1221.5h0M1624.2 1213.4h0M1625.1 1239.5h0M1626.0 1239.5h0M1627.0 1256.7h0M1627.9 1235.7h0M1628.9 1202.2h0M1629.8 1231.3h0M1630.7 1234.3h0M1631.7 1234.7h0M1632.6 1218.9h0M1633.5 1186.6h0M1634.5 1228.6h0M1635.4 1190.5h0M1636.4 1211.8h0M1637.3 1170.0h0M1638.2 1211.6h0M1639.2 1182.5h0M1640.1 1217.1h0M1641.0 1230.1h0M1642.0 1218.5h0M1642.9 1172.1h0M1643.9 1175.8h0M1644.8 1176.6h0M1645.7 1207.6h0M1646.7 1200.6h0M1647.6 1196.3h0M1648.6 1199.1h0M1649.5 1204.7h0M1650.4 1205.9h0M1651.4 1229.0h0M1652.3 1189.3h0M1653.2 1195.0h0M1654.2 1147.4h0M1655.1 1160.0h0M1656.1 1175.3h0M1657.0 1163.5h0M1657.9 1198.9h0M1658.9 1220.5h0M1659.8 1183.4h0M1660.7 1182.5h0M1661.7 1182.2h0M1662.6 1200.0h0M1663.6 1182.1h0M1664.5 1209.5h0M1665.4 1206.8h0M1666.4 1208.7h0M1667.3 1221.6h0M1668.2 1201.0h0M1669.2 1204.2h0M1670.1 1250.3h0M1671.1 1197.4h0M1672.0 1220.5h0M1672.9 1198.9h0M1673.9 1184.2h0M1674.8 1183.8h0M1675.8 1173.7h0M1676.7 1195.2h0M1677.6 1178.7h0M1678.6 1182.9h0M1679.5 1223.4h0M1680.4 1189.1h0M1681.4 1219.3h0M1682.3 1197.4h0M1683.3 1210.6h0M1684.2 1175.8h0M1685.1 1192.6h0M1686.1 1250.4h0M1687.0 1207.9h0M1687.9 1211.9h0M1688.9 1192.5h0M1689.8 1207.7h0M1690.8 1155.5h0M1691.7 1162.5h0M1692.6 1195.5h0M1693.6 1205.5h0M1694.5 1171.6h0M1695.4 1177.0h0M1696.4 1171.4h0M1697.3 1175.6h0M1698.3 1145.6h0M1699.2 1137.7h0M1700.1 1176.5h0M1701.1 1125.6h0M1702.0 1147.3h0M1703.0 1155.9h0M1703.9 1142.3h0M1704.8 1182.5h0M1705.8 1159.5h0M1706.7 1170.5h0M1707.6 1138.4h0M1708.6 1146.2h0M1709.5 1188.5h0M1710.5 1182.6h0M1711.4 1152.5h0M1712.3 1181.4h0M1713.3 1174.3h0M1714.2 1172.5h0M1715.1 1225.7h0M1716.1 1149.4h0M1717.0 1178.7h0M1718.0 1177.2h0M1718.9 1151.6h0M1719.8 1116.4h0M1720.8 1182.3h0M1721.7 1165.3h0M1722.6 1156.3h0M1723.6 1153.9h0M1724.5 1152.4h0M1725.5 1119.2h0M1726.4 1158.8h0M1727.3 1086.0h0M1728.3 1145.0h0M1729.2 1094.4h0M1730.2 1131.3h0M1731.1 1165.1h0M1732.0 1132.8h0M1733.0 1125.3h0M1733.9 1157.1h0M1734.8 1131.6h0M1735.8 1126.9h0M1736.7 1127.1h0M1737.7 1186.8h0M1738.6 1159.7h0M1739.5 1153.5h0M1740.5 1101.5h0M1741.4 1156.9h0M1742.3 1098.2h0M1743.3 1151.8h0M1744.2 1103.4h0M1745.2 1195.0h0M1746.1 1086.3h0M1747.0 1172.3h0M1748.0 1160.5h0M1748.9 1088.4h0M1749.8 1132.7h0M1750.8 1179.3h0M1751.7 1171.2h0M1752.7 1099.5h0M1753.6 1130.1h0M1754.5 1115.3h0M1755.5 1120.6h0M1756.4 1131.1h0M1757.4 1189.1h0M1758.3 1151.0h0M1759.2 1144.1h0M1760.2 1142.9h0M1761.1 1164.6h0M1762.0 1165.6h0M1763.0 1133.8h0M1763.9 1182.0h0M1764.9 1129.6h0M1765.8 1146.2h0M1766.7 1161.8h0M1767.7 1189.6h0M1768.6 1144.2h0M1769.5 1158.5h0M1770.5 1182.1h0M1771.4 1166.6h0M1772.4 1178.9h0M1773.3 1177.1h0M1774.2 1158.2h0M1775.2 1167.6h0M1776.1 1175.2h0M1777.0 1151.0h0M1778.0 1193.5h0M1778.9 1098.1h0M1779.9 1124.9h0M1780.8 1185.7h0M1781.7 1157.8h0M1782.7 1128.4h0M1783.6 1154.0h0M1784.6 1171.4h0M1785.5 1126.9h0M1786.4 1160.5h0M1787.4 1135.9h0M1788.3 1134.8h0M1789.2 1134.8h0M1790.2 1164.5h0M1791.1 1104.7h0M1792.1 1123.2h0M1793.0 1149.0h0M1793.9 1100.5h0M1794.9 1094.0h0M1795.8 1156.8h0M1796.7 1145.0h0M1797.7 1144.8h0M1798.6 1157.3h0M1799.6 1127.8h0M1800.5 1242.9h0M1801.4 1134.3h0M1802.4 1155.3h0M1803.3 1127.0h0M1804.2 1163.5h0M1805.2 1232.6h0M1806.1 1185.9h0M1807.1 1210.0h0M1808.0 1176.2h0M1808.9 1262.7h0M1809.9 1204.1h0M1810.8 1152.9h0M1811.8 1227.0h0M1812.7 1185.5h0M1813.6 1221.9h0M1814.6 1204.9h0M1815.5 1209.9h0M1816.4 1205.4h0M1817.4 1166.3h0M1818.3 1143.7h0M1819.3 1238.5h0M1820.2 1196.3h0M1821.1 1212.8h0M1822.1 1184.1h0M1823.0 1123.3h0M1823.9 1152.5h0M1824.9 1257.6h0M1825.8 1171.6h0M1826.8 1186.8h0M1827.7 1145.0h0M1828.6 1180.4h0M1829.6 1185.8h0M1830.5 1190.9h0M1831.4 1195.8h0M1832.4 1175.1h0M1833.3 1176.7h0M1834.3 1196.2h0M1835.2 1207.4h0M1836.1 1190.6h0M1837.1 1254.4h0M1838.0 1201.2h0M1839.0 1199.0h0M1839.9 1171.4h0M1840.8 1226.5h0M1841.8 1159.2h0M1842.7 1139.6h0M1843.6 1160.7h0M1844.6 1213.1h0M1845.5 1155.2h0M1846.5 1235.2h0M1847.4 1192.0h0M1848.3 1142.9h0M1849.3 1185.2h0M1850.2 1251.3h0M1851.1 1164.5h0M1852.1 1149.7h0M311.8 1233.0h0M282.2 1279.3h0M297.8 1315.2h0M263.0 1309.4h0M387.8 1266.3h0M343.6 1274.1h0M349.8 1280.8h0M528.2 1142.0h0M552.6 1090.0h0M550.0 1149.3h0M556.3 1144.1h0M538.6 1171.6h0M539.6 1202.3h0M505.8 1203.3h0M513.6 1198.7h0M610.4 1199.7h0M660.8 1196.6h0M666.0 1239.7h0M706.0 1261.1h0M841.3 1087.4h0M841.8 1104.5h0M842.3 1134.2h0M941.1 1149.3h0M941.1 1159.7h0M946.8 1178.4h0M1001.4 1179.9h0M942.7 1208.0h0M755.5 1212.2h0M780.4 1224.1h0M821.5 1369.2h0M782.5 1369.2h0M776.3 1431.6h0M886.5 1453.5h0M899.0 1507.1h0M869.9 1404.1h0M880.3 1397.8h0M892.2 1393.2h0M922.9 1403.0h0M969.2 1373.4h0M963.5 1379.6h0M1021.2 1381.2h0M1034.2 1399.4h0M1037.8 1365.6h0M728.4 1426.4h0M737.2 1402.0h0M669.6 1403.0h0M667.0 1384.3h0M646.2 1380.2h0M587.0 1466.5h0M603.6 1442.0h0M584.9 1439.4h0M572.4 1447.2h0M552.6 1418.6h0M557.8 1423.8h0M485.0 1432.7h0M468.4 1418.1h0M440.3 1456.6h0M432.0 1485.2h0M417.4 1430.1h0M431.5 1438.4h0M347.7 1438.4h0M360.7 1437.9h0M390.4 1414.5h0M289.0 1502.4h0M299.4 1521.6h0M317.6 1489.9h0M522.5 1363.0h0M849.1 1364.0h0M868.3 1358.8h0M898.5 1343.2h0M1418.0 950.6h0M1431.5 999.0h0M1412.8 1054.1h0M1446.6 1055.1h0M1423.7 1079.6h0M1399.3 1090.0h0M1426.3 1101.4h0M1449.7 1100.4h0M1476.2 1093.6h0M1505.4 1092.1h0M1520.4 1083.7h0M1542.8 1044.2h0M1545.9 1092.1h0M1529.8 1111.8h0M1500.2 1120.7h0M1499.6 1139.4h0M1368.6 1101.9h0M1360.3 1114.4h0M1225.6 1114.4h0M1149.1 1116.5h0M1109.6 1124.8h0M1698.3 1023.9h0M1770.1 946.4h0M1770.6 1004.2h0M1747.2 1023.9h0M1746.1 1040.6h0M1771.1 1032.8h0M1793.5 1031.7h0M1809.1 1032.8h0M1718.1 1059.8h0M1731.1 1059.8h0M1732.6 1069.2h0M1748.7 1076.5h0M1687.4 1082.7h0M1707.1 1093.6h0M1727.4 1088.9h0M1629.7 1115.5h0M1679.1 1110.8h0M1806.5 1074.4h0M1803.9 1096.2h0M1793.5 1096.2h0M1373.8 1388.5h0M1377.4 1559.1h0M1585.5 1409.8h0M1625.5 1357.3h0M1696.2 1324.5h0M1619.3 1319.8h0M1600.0 1318.8h0M1547.5 1340.6h0M1510.0 1345.8h0M1497.0 1335.4h0M1496.0 1320.4h0M1475.2 1318.8h0M1461.7 1310.5h0M1445.0 1330.2h0M1420.6 1330.2h0M1423.7 1303.2h0M1436.2 1287.6h0M1078.4 1374.4h0M1057.6 1349.5h0M1121.6 1327.6h0M1306.2 1331.8h0M1290.1 1317.2h0M1763.8 1276.7h0M1724.3 1276.7h0M1824.7 1269.4h0M1810.1 1253.3h0M1759.7 1229.3h0M1724.8 1258.5h0M1738.3 1222.1h0M1848.1 1246.0h0M1589.6 1161.7h0M1653.1 1127.4h0M1658.3 1130.0h0" stroke="#00f" stroke-width="12.6" stroke-linecap="round" fill="none"/>
<path clip-path="url(#c1)" d="M257.6 1357.7 L258.8 1358.8 L260.1 1359.8 L261.3 1360.9 L262.5 1361.9 L263.7 1362.9 L265.0 1363.9 L266.2 1364.9 L267.4 1365.8 L268.7 1366.8 L269.9 1367.7 L271.1 1368.6 L272.3 1369.4 L273.6 1370.3 L274.8 1371.1 L276.0 1371.9 L277.3 1372.6 L278.5 1373.3 L279.7 1374.0 L280.9 1374.6 L282.2 1375.2 L283.4 1375.8 L284.6 1376.4 L285.8 1376.9 L287.1 1377.3 L288.3 1377.8 L289.5 1378.2 L290.8 1378.5 L292.0 1378.8 L293.2 1379.1 L294.4 1379.4 L295.7 1379.6 L296.9 1379.7 L298.1 1379.9 L299.4 1380.0 L300.6 1380.0 L301.8 1380.1 L303.0 1380.1 L304.3 1380.0 L305.5 1380.0 L306.7 1379.9 L307.9 1379.7 L309.2 1379.6 L310.4 1379.4 L311.6 1379.2 L312.9 1379.0 L314.1 1378.7 L315.3 1378.4 L316.5 1378.1 L317.8 1377.8 L319.0 1377.5 L320.2 1377.1 L321.5 1376.8 L322.7 1376.4 L323.9 1376.0 L325.1 1375.6 L326.4 1375.2 L327.6 1374.8 L328.8 1374.3 L330.0 1373.9 L331.3 1373.5 L332.5 1373.1 L333.7 1372.6 L335.0 1372.2 L336.2 1371.8 L337.4 1371.4 L338.6 1371.0 L339.9 1370.6 L341.1 1370.2 L342.3 1369.8 L343.6 1369.4 L344.8 1369.1 L346.0 1368.7 L347.2 1368.4 L348.5 1368.1 L349.7 1367.8 L350.9 1367.5 L352.1 1367.2 L353.4 1367.0 L354.6 1366.8 L355.8 1366.6 L357.1 1366.4 L358.3 1366.2 L359.5 1366.1 L360.7 1365.9 L362.0 1365.8 L363.2 1365.8 L364.4 1365.7 L365.7 1365.7 L366.9 1365.6 L368.1 1365.6 L369.3 1365.7 L370.6 1365.7 L371.8 1365.8 L373.0 1365.8 L374.3 1365.9 L375.5 1366.0 L376.7 1366.2 L377.9 1366.3 L379.2 1366.5 L380.4 1366.6 L381.6 1366.8 L382.8 1367.0 L384.1 1367.2 L385.3 1367.4 L386.5 1367.6 L387.8 1367.8 L389.0 1368.0 L390.2 1368.2 L391.4 1368.4 L392.7 1368.7 L393.9 1368.9 L395.1 1369.1 L396.4 1369.3 L397.6 1369.5 L398.8 1369.7 L400.0 1369.8 L401.3 1370.0 L402.5 1370.1 L403.7 1370.3 L404.9 1370.4 L406.2 1370.5 L407.4 1370.5 L408.6 1370.6 L409.9 1370.6 L411.1 1370.6 L412.3 1370.6 L413.5 1370.5 L414.8 1370.5 L416.0 1370.3 L417.2 1370.2 L418.5 1370.0 L419.7 1369.8 L420.9 1369.6 L422.1 1369.3 L423.4 1369.0 L424.6 1368.6 L425.8 1368.2 L427.0 1367.8 L428.3 1367.3 L429.5 1366.8 L430.7 1366.2 L432.0 1365.7 L433.2 1365.0 L434.4 1364.3 L435.6 1363.6 L436.9 1362.9 L438.1 1362.1 L439.3 1361.3 L440.6 1360.4 L441.8 1359.5 L443.0 1358.5 L444.2 1357.5 L445.5 1356.5 L446.7 1355.4 L447.9 1354.4 L449.1 1353.2 L450.4 1352.1 L451.6 1350.9 L452.8 1349.6 L454.1 1348.4 L455.3 1347.1 L456.5 1345.8 L457.7 1344.5 L459.0 1343.1 L460.2 1341.8 L461.4 1340.4 L462.7 1339.0 L463.9 1337.5 L465.1 1336.1 L466.3 1334.7 L467.6 1333.2 L468.8 1331.8 L470.0 1330.3 L471.2 1328.8 L472.5 1327.4 L473.7 1325.9 L474.9 1324.4 L476.2 1323.0 L477.4 1321.5 L478.6 1320.1 L479.8 1318.7 L481.1 1317.3 L482.3 1315.9 L483.5 1314.5 L484.8 1313.2 L486.0 1311.8 L487.2 1310.5 L488.4 1309.3 L489.7 1308.0 L490.9 1306.8 L492.1 1305.6 L493.3 1304.5 L494.6 1303.4 L495.8 1302.3 L497.0 1301.3 L498.3 1300.3 L499.5 1299.4 L500.7 1298.5 L501.9 1297.7 L503.2 1296.9 L504.4 1296.1 L505.6 1295.4 L506.9 1294.8 L508.1 1294.2 L509.3 1293.6 L510.5 1293.1 L511.8 1292.7 L513.0 1292.3 L514.2 1292.0 L515.4 1291.7 L516.7 1291.5 L517.9 1291.4 L519.1 1291.2 L520.4 1291.2 L521.6 1291.2 L522.8 1291.2 L524.0 1291.4 L525.3 1291.5 L526.5 1291.7 L527.7 1292.0 L529.0 1292.3 L530.2 1292.7 L531.4 1293.1 L532.6 1293.6 L533.9 1294.1 L535.1 1294.6 L536.3 1295.2 L537.6 1295.8 L538.8 1296.5 L540.0 1297.2 L541.2 1298.0 L542.5 1298.8 L543.7 1299.6 L544.9 1300.4 L546.1 1301.3 L547.4 1302.2 L548.6 1303.2 L549.8 1304.1 L551.1 1305.1 L552.3 1306.1 L553.5 1307.1 L554.7 1308.1 L556.0 1309.2 L557.2 1310.2 L558.4 1311.3 L559.7 1312.4 L560.9 1313.4 L562.1 1314.5 L563.3 1315.6 L564.6 1316.7 L565.8 1317.7 L567.0 1318.8 L568.2 1319.8 L569.5 1320.9 L570.7 1321.9 L571.9 1322.9 L573.2 1323.9 L574.4 1324.9 L575.6 1325.8 L576.8 1326.8 L578.1 1327.7 L579.3 1328.6 L580.5 1329.4 L581.8 1330.3 L583.0 1331.1 L584.2 1331.9 L585.4 1332.6 L586.7 1333.3 L587.9 1334.0 L589.1 1334.7 L590.3 1335.3 L591.6 1335.9 L592.8 1336.4 L594.0 1336.9 L595.3 1337.4 L596.5 1337.8 L597.7 1338.2 L598.9 1338.6 L600.2 1338.9 L601.4 1339.2 L602.6 1339.4 L603.9 1339.6 L605.1 1339.8 L606.3 1340.0 L607.5 1340.1 L608.8 1340.1 L610.0 1340.2 L611.2 1340.2 L612.4 1340.1 L613.7 1340.1 L614.9 1340.0 L616.1 1339.9 L617.4 1339.7 L618.6 1339.5 L619.8 1339.3 L621.0 1339.1 L622.3 1338.8 L623.5 1338.6 L624.7 1338.3 L626.0 1338.0 L627.2 1337.6 L628.4 1337.3 L629.6 1336.9 L630.9 1336.5 L632.1 1336.1 L633.3 1335.7 L634.5 1335.3 L635.8 1334.9 L637.0 1334.5 L638.2 1334.1 L639.5 1333.6 L640.7 1333.2 L641.9 1332.8 L643.1 1332.4 L644.4 1331.9 L645.6 1331.5 L646.8 1331.1 L648.1 1330.7 L649.3 1330.3 L650.5 1329.9 L651.7 1329.6 L653.0 1329.2 L654.2 1328.9 L655.4 1328.5 L656.6 1328.2 L657.9 1327.9 L659.1 1327.6 L660.3 1327.4 L661.6 1327.1 L662.8 1326.9 L664.0 1326.7 L665.2 1326.5 L666.5 1326.3 L667.7 1326.2 L668.9 1326.1 L670.2 1326.0 L671.4 1325.9 L672.6 1325.8 L673.8 1325.8 L675.1 1325.8 L676.3 1325.8 L677.5 1325.8 L678.7 1325.8 L680.0 1325.9 L681.2 1325.9 L682.4 1326.0 L683.7 1326.1 L684.9 1326.3 L686.1 1326.4 L687.3 1326.5 L688.6 1326.7 L689.8 1326.9 L691.0 1327.1 L692.3 1327.3 L693.5 1327.5 L694.7 1327.7 L695.9 1327.9 L697.2 1328.1 L698.4 1328.3 L699.6 1328.5 L700.9 1328.7 L702.1 1329.0 L703.3 1329.2 L704.5 1329.4 L705.8 1329.6 L707.0 1329.7 L708.2 1329.9 L709.4 1330.1 L710.7 1330.2 L711.9 1330.4 L713.1 1330.5 L714.4 1330.6 L715.6 1330.6 L716.8 1330.7 L718.0 1330.7 L719.3 1330.7 L720.5 1330.7 L721.7 1330.7 L723.0 1330.6 L724.2 1330.5 L725.4 1330.3 L726.6 1330.1 L727.9 1329.9 L729.1 1329.7 L730.3 1329.4 L731.5 1329.1 L732.8 1328.8 L734.0 1328.4 L735.2 1327.9 L736.5 1327.5 L737.7 1327.0 L738.9 1326.4 L740.1 1325.8 L741.4 1325.2 L742.6 1324.5 L743.8 1323.8 L745.1 1323.1 L746.3 1322.3 L747.5 1321.4 L748.7 1320.6 L750.0 1319.7 L751.2 1318.7 L752.4 1317.7 L753.6 1316.7 L754.9 1315.7 L756.1 1314.6 L757.3 1313.5 L758.6 1312.3 L759.8 1311.1 L761.0 1309.9 L762.2 1308.6 L763.5 1307.4 L764.7 1306.1 L765.9 1304.7 L767.2 1303.4 L768.4 1302.0 L769.6 1300.6 L770.8 1299.2 L772.1 1297.8 L773.3 1296.4 L774.5 1294.9 L775.7 1293.5 L777.0 1292.0 L778.2 1290.6 L779.4 1289.1 L780.7 1287.6 L781.9 1286.2 L783.1 1284.7 L784.3 1283.2 L785.6 1281.8 L786.8 1280.4 L788.0 1278.9 L789.3 1277.5 L790.5 1276.1 L791.7 1274.8 L792.9 1273.4 L794.2 1272.1 L795.4 1270.8 L796.6 1269.5 L797.8 1268.3 L799.1 1267.0 L800.3 1265.9 L801.5 1264.7 L802.8 1263.6 L804.0 1262.6 L805.2 1261.5 L806.4 1260.5 L807.7 1259.6 L808.9 1258.7 L810.1 1257.9 L811.4 1257.1 L812.6 1256.3 L813.8 1255.6 L815.0 1254.9 L816.3 1254.3 L817.5 1253.8 L818.7 1253.3 L819.9 1252.9 L821.2 1252.5 L822.4 1252.1 L823.6 1251.9 L824.9 1251.6 L826.1 1251.5 L827.3 1251.4 L828.5 1251.3 L829.8 1251.3 L831.0 1251.3 L832.2 1251.4 L833.5 1251.6 L834.7 1251.8 L835.9 1252.1 L837.1 1252.4 L838.4 1252.7 L839.6 1253.1 L840.8 1253.6 L842.0 1254.1 L843.3 1254.7 L844.5 1255.2 L845.7 1255.9 L847.0 1256.5 L848.2 1257.3 L849.4 1258.0 L850.6 1258.8 L851.9 1259.6 L853.1 1260.5 L854.3 1261.3 L855.6 1262.2 L856.8 1263.2 L858.0 1264.1 L859.2 1265.1 L860.5 1266.1 L861.7 1267.1 L862.9 1268.1 L864.2 1269.2 L865.4 1270.2 L866.6 1271.3 L867.8 1272.3 L869.1 1273.4 L870.3 1274.5 L871.5 1275.6 L872.7 1276.6 L874.0 1277.7 L875.2 1278.8 L876.4 1279.8 L877.7 1280.9 L878.9 1281.9 L880.1 1282.9 L881.3 1283.9 L882.6 1284.9 L883.8 1285.8 L885.0 1286.8 L886.3 1287.7 L887.5 1288.6 L888.7 1289.5 L889.9 1290.3 L891.2 1291.1 L892.4 1291.9 L893.6 1292.6 L894.8 1293.4 L896.1 1294.0 L897.3 1294.7 L898.5 1295.3 L899.8 1295.9 L901.0 1296.5 L902.2 1297.0 L903.4 1297.4 L904.7 1297.9 L905.9 1298.3 L907.1 1298.6 L908.4 1299.0 L909.6 1299.3 L910.8 1299.5 L912.0 1299.7 L913.3 1299.9 L914.5 1300.1 L915.7 1300.2 L916.9 1300.2 L918.2 1300.3 L919.4 1300.3 L920.6 1300.3 L921.9 1300.2 L923.1 1300.1 L924.3 1300.0 L925.5 1299.8 L926.8 1299.7 L928.0 1299.5 L929.2 1299.2 L930.5 1299.0 L931.7 1298.7 L932.9 1298.4 L934.1 1298.1 L935.4 1297.8 L936.6 1297.4 L937.8 1297.1 L939.0 1296.7 L940.3 1296.3 L941.5 1295.9 L942.7 1295.5 L944.0 1295.1 L945.2 1294.7 L946.4 1294.2 L947.6 1293.8 L948.9 1293.4 L950.1 1292.9 L951.3 1292.5 L952.6 1292.1 L953.8 1291.7 L955.0 1291.3 L956.2 1290.9 L957.5 1290.5 L958.7 1290.1 L959.9 1289.7 L961.1 1289.3 L962.4 1289.0 L963.6 1288.7 L964.8 1288.4 L966.1 1288.1 L967.3 1287.8 L968.5 1287.5 L969.7 1287.3 L971.0 1287.0 L972.2 1286.8 L973.4 1286.6 L974.7 1286.5 L975.9 1286.3 L977.1 1286.2 L978.3 1286.1 L979.6 1286.0 L980.8 1285.9 L982.0 1285.9 L983.2 1285.9 L984.5 1285.9 L985.7 1285.9 L986.9 1285.9 L988.2 1286.0 L989.4 1286.0 L990.6 1286.1 L991.8 1286.2 L993.1 1286.3 L994.3 1286.5 L995.5 1286.6 L996.8 1286.8 L998.0 1287.0 L999.2 1287.2 L1000.4 1287.3 L1001.7 1287.5 L1002.9 1287.7 L1004.1 1288.0 L1005.4 1288.2 L1006.6 1288.4 L1007.8 1288.6 L1009.0 1288.8 L1010.3 1289.0 L1011.5 1289.2 L1012.7 1289.4 L1013.9 1289.6 L1015.2 1289.8 L1016.4 1290.0 L1017.6 1290.2 L1018.9 1290.3 L1020.1 1290.4 L1021.3 1290.6 L1022.5 1290.7 L1023.8 1290.7 L1025.0 1290.8 L1026.2 1290.8 L1027.5 1290.8 L1028.7 1290.8 L1029.9 1290.8 L1031.1 1290.7 L1032.4 1290.6 L1033.6 1290.4 L1034.8 1290.3 L1036.0 1290.1 L1037.3 1289.8 L1038.5 1289.6 L1039.7 1289.2 L1041.0 1288.9 L1042.2 1288.5 L1043.4 1288.1 L1044.6 1287.6 L1045.9 1287.1 L1047.1 1286.6 L1048.3 1286.0 L1049.6 1285.4 L1050.8 1284.7 L1052.0 1284.0 L1053.2 1283.3 L1054.5 1282.5 L1055.7 1281.6 L1056.9 1280.8 L1058.1 1279.9 L1059.4 1278.9 L1060.6 1278.0 L1061.8 1276.9 L1063.1 1275.9 L1064.3 1274.8 L1065.5 1273.7 L1066.7 1272.5 L1068.0 1271.3 L1069.2 1270.1 L1070.4 1268.9 L1071.7 1267.6 L1072.9 1266.3 L1074.1 1265.0 L1075.3 1263.6 L1076.6 1262.3 L1077.8 1260.9 L1079.0 1259.5 L1080.2 1258.1 L1081.5 1256.6 L1082.7 1255.2 L1083.9 1253.7 L1085.2 1252.3 L1086.4 1250.8 L1087.6 1249.4 L1088.8 1247.9 L1090.1 1246.4 L1091.3 1245.0 L1092.5 1243.5 L1093.8 1242.1 L1095.0 1240.6 L1096.2 1239.2 L1097.4 1237.8 L1098.7 1236.4 L1099.9 1235.0 L1101.1 1233.7 L1102.3 1232.3 L1103.6 1231.0 L1104.8 1229.7 L1106.0 1228.5 L1107.3 1227.3 L1108.5 1226.1 L1109.7 1225.0 L1110.9 1223.8 L1112.2 1222.8 L1113.4 1221.7 L1114.6 1220.8 L1115.9 1219.8 L1117.1 1218.9 L1118.3 1218.1 L1119.5 1217.2 L1120.8 1216.5 L1122.0 1215.8 L1123.2 1215.1 L1124.4 1214.5 L1125.7 1214.0 L1126.9 1213.5 L1128.1 1213.0 L1129.4 1212.6 L1130.6 1212.3 L1131.8 1212.0 L1133.0 1211.8 L1134.3 1211.6 L1135.5 1211.5 L1136.7 1211.4 L1138.0 1211.4 L1139.2 1211.4 L1140.4 1211.5 L1141.6 1211.7 L1142.9 1211.9 L1144.1 1212.1 L1145.3 1212.4 L1146.5 1212.8 L1147.8 1213.2 L1149.0 1213.7 L1150.2 1214.2 L1151.5 1214.7 L1152.7 1215.3 L1153.9 1215.9 L1155.1 1216.6 L1156.4 1217.3 L1157.6 1218.0 L1158.8 1218.8 L1160.1 1219.6 L1161.3 1220.5 L1162.5 1221.3 L1163.7 1222.2 L1165.0 1223.2 L1166.2 1224.1 L1167.4 1225.1 L1168.7 1226.1 L1169.9 1227.1 L1171.1 1228.1 L1172.3 1229.2 L1173.6 1230.2 L1174.8 1231.3 L1176.0 1232.3 L1177.2 1233.4 L1178.5 1234.5 L1179.7 1235.5 L1180.9 1236.6 L1182.2 1237.7 L1183.4 1238.7 L1184.6 1239.8 L1185.8 1240.8 L1187.1 1241.9 L1188.3 1242.9 L1189.5 1243.9 L1190.8 1244.9 L1192.0 1245.8 L1193.2 1246.8 L1194.4 1247.7 L1195.7 1248.6 L1196.9 1249.5 L1198.1 1250.3 L1199.3 1251.1 L1200.6 1251.9 L1201.8 1252.7 L1203.0 1253.4 L1204.3 1254.1 L1205.5 1254.7 L1206.7 1255.4 L1207.9 1255.9 L1209.2 1256.5 L1210.4 1257.0 L1211.6 1257.5 L1212.9 1257.9 L1214.1 1258.3 L1215.3 1258.7 L1216.5 1259.0 L1217.8 1259.3 L1219.0 1259.6 L1220.2 1259.8 L1221.4 1260.0 L1222.7 1260.1 L1223.9 1260.3 L1225.1 1260.3 L1226.4 1260.4 L1227.6 1260.4 L1228.8 1260.4 L1230.0 1260.3 L1231.3 1260.2 L1232.5 1260.1 L1233.7 1260.0 L1235.0 1259.8 L1236.2 1259.6 L1237.4 1259.4 L1238.6 1259.1 L1239.9 1258.8 L1241.1 1258.6 L1242.3 1258.2 L1243.5 1257.9 L1244.8 1257.6 L1246.0 1257.2 L1247.2 1256.8 L1248.5 1256.4 L1249.7 1256.0 L1250.9 1255.6 L1252.1 1255.2 L1253.4 1254.8 L1254.6 1254.4 L1255.8 1254.0 L1257.1 1253.5 L1258.3 1253.1 L1259.5 1252.7 L1260.7 1252.2 L1262.0 1251.8 L1263.2 1251.4 L1264.4 1251.0 L1265.6 1250.6 L1266.9 1250.2 L1268.1 1249.9 L1269.3 1249.5 L1270.6 1249.1 L1271.8 1248.8 L1273.0 1248.5 L1274.2 1248.2 L1275.5 1247.9 L1276.7 1247.6 L1277.9 1247.4 L1279.2 1247.2 L1280.4 1246.9 L1281.6 1246.7 L1282.8 1246.6 L1284.1 1246.4 L1285.3 1246.3 L1286.5 1246.2 L1287.7 1246.1 L1289.0 1246.0 L1290.2 1246.0 L1291.4 1246.0 L1292.7 1246.0 L1293.9 1246.0 L1295.1 1246.0 L1296.3 1246.1 L1297.6 1246.1 L1298.8 1246.2 L1300.0 1246.3 L1301.3 1246.4 L1302.5 1246.6 L1303.7 1246.7 L1304.9 1246.9 L1306.2 1247.1 L1307.4 1247.2 L1308.6 1247.4 L1309.8 1247.6 L1311.1 1247.8 L1312.3 1248.0 L1313.5 1248.3 L1314.8 1248.5 L1316.0 1248.7 L1317.2 1248.9 L1318.4 1249.1 L1319.7 1249.3 L1320.9 1249.5 L1322.1 1249.7 L1323.4 1249.9 L1324.6 1250.1 L1325.8 1250.3 L1327.0 1250.4 L1328.3 1250.5 L1329.5 1250.7 L1330.7 1250.8 L1332.0 1250.8 L1333.2 1250.9 L1334.4 1250.9 L1335.6 1250.9 L1336.9 1250.9 L1338.1 1250.9 L1339.3 1250.8 L1340.5 1250.7 L1341.8 1250.6 L1343.0 1250.4 L1344.2 1250.2 L1345.5 1250.0 L1346.7 1249.7 L1347.9 1249.4 L1349.1 1249.0 L1350.4 1248.7 L1351.6 1248.2 L1352.8 1247.8 L1354.1 1247.3 L1355.3 1246.7 L1356.5 1246.2 L1357.7 1245.5 L1359.0 1244.9 L1360.2 1244.2 L1361.4 1243.4 L1362.6 1242.7 L1363.9 1241.8 L1365.1 1241.0 L1366.3 1240.1 L1367.6 1239.2 L1368.8 1238.2 L1370.0 1237.2 L1371.2 1236.1 L1372.5 1235.0 L1373.7 1233.9 L1374.9 1232.8 L1376.2 1231.6 L1377.4 1230.4 L1378.6 1229.1 L1379.8 1227.9 L1381.1 1226.6 L1382.3 1225.2 L1383.5 1223.9 L1384.7 1222.5 L1386.0 1221.2 L1387.2 1219.8 L1388.4 1218.3 L1389.7 1216.9 L1390.9 1215.5 L1392.1 1214.0 L1393.3 1212.6 L1394.6 1211.1 L1395.8 1209.6 L1397.0 1208.2 L1398.3 1206.7 L1399.5 1205.2 L1400.7 1203.8 L1401.9 1202.3 L1403.2 1200.9 L1404.4 1199.5 L1405.6 1198.0 L1406.8 1196.6 L1408.1 1195.3 L1409.3 1193.9 L1410.5 1192.6 L1411.8 1191.3 L1413.0 1190.0 L1414.2 1188.7 L1415.4 1187.5 L1416.7 1186.3 L1417.9 1185.2 L1419.1 1184.1 L1420.4 1183.0 L1421.6 1182.0 L1422.8 1181.0 L1424.0 1180.0 L1425.3 1179.1 L1426.5 1178.2 L1427.7 1177.4 L1428.9 1176.7 L1430.2 1176.0 L1431.4 1175.3 L1432.6 1174.7 L1433.9 1174.1 L1435.1 1173.6 L1436.3 1173.2 L1437.5 1172.8 L1438.8 1172.4 L1440.0 1172.1 L1441.2 1171.9 L1442.5 1171.7 L1443.7 1171.6 L1444.9 1171.5 L1446.1 1171.5 L1447.4 1171.5 L1448.6 1171.6 L1449.8 1171.8 L1451.0 1172.0 L1452.3 1172.2 L1453.5 1172.5 L1454.7 1172.9 L1456.0 1173.3 L1457.2 1173.7 L1458.4 1174.2 L1459.6 1174.7 L1460.9 1175.3 L1462.1 1175.9 L1463.3 1176.6 L1464.6 1177.3 L1465.8 1178.0 L1467.0 1178.8 L1468.2 1179.6 L1469.5 1180.5 L1470.7 1181.3 L1471.9 1182.2 L1473.1 1183.2 L1474.4 1184.1 L1475.6 1185.1 L1476.8 1186.1 L1478.1 1187.1 L1479.3 1188.1 L1480.5 1189.1 L1481.7 1190.2 L1483.0 1191.3 L1484.2 1192.3 L1485.4 1193.4 L1486.7 1194.5 L1487.9 1195.5 L1489.1 1196.6 L1490.3 1197.7 L1491.6 1198.7 L1492.8 1199.8 L1494.0 1200.8 L1495.3 1201.9 L1496.5 1202.9 L1497.7 1203.9 L1498.9 1204.9 L1500.2 1205.8 L1501.4 1206.8 L1502.6 1207.7 L1503.8 1208.6 L1505.1 1209.5 L1506.3 1210.3 L1507.5 1211.1 L1508.8 1211.9 L1510.0 1212.7 L1511.2 1213.4 L1512.4 1214.1 L1513.7 1214.8 L1514.9 1215.4 L1516.1 1216.0 L1517.4 1216.5 L1518.6 1217.1 L1519.8 1217.5 L1521.0 1218.0 L1522.3 1218.4 L1523.5 1218.8 L1524.7 1219.1 L1525.9 1219.4 L1527.2 1219.7 L1528.4 1219.9 L1529.6 1220.1 L1530.9 1220.2 L1532.1 1220.3 L1533.3 1220.4 L1534.5 1220.5 L1535.8 1220.5 L1537.0 1220.5 L1538.2 1220.4 L1539.5 1220.3 L1540.7 1220.2 L1541.9 1220.1 L1543.1 1219.9 L1544.4 1219.7 L1545.6 1219.5 L1546.8 1219.2 L1548.0 1219.0 L1549.3 1218.7 L1550.5 1218.4 L1551.7 1218.1 L1553.0 1217.7 L1554.2 1217.3 L1555.4 1217.0 L1556.6 1216.6 L1557.9 1216.2 L1559.1 1215.8 L1560.3 1215.4 L1561.6 1215.0 L1562.8 1214.5 L1564.0 1214.1 L1565.2 1213.7 L1566.5 1213.2 L1567.7 1212.8 L1568.9 1212.4 L1570.1 1212.0 L1571.4 1211.6 L1572.6 1211.2 L1573.8 1210.8 L1575.1 1210.4 L1576.3 1210.0 L1577.5 1209.6 L1578.7 1209.3 L1580.0 1208.9 L1581.2 1208.6 L1582.4 1208.3 L1583.7 1208.0 L1584.9 1207.8 L1586.1 1207.5 L1587.3 1207.3 L1588.6 1207.1 L1589.8 1206.9 L1591.0 1206.7 L1592.2 1206.5 L1593.5 1206.4 L1594.7 1206.3 L1595.9 1206.2 L1597.2 1206.1 L1598.4 1206.1 L1599.6 1206.1 L1600.8 1206.1 L1602.1 1206.1 L1603.3 1206.1 L1604.5 1206.2 L1605.8 1206.2 L1607.0 1206.3 L1608.2 1206.4 L1609.4 1206.5 L1610.7 1206.7 L1611.9 1206.8 L1613.1 1207.0 L1614.3 1207.1 L1615.6 1207.3 L1616.8 1207.5 L1618.0 1207.7 L1619.3 1207.9 L1620.5 1208.1 L1621.7 1208.3 L1622.9 1208.6 L1624.2 1208.8 L1625.4 1209.0 L1626.6 1209.2 L1627.9 1209.4 L1629.1 1209.6 L1630.3 1209.8 L1631.5 1210.0 L1632.8 1210.2 L1634.0 1210.3 L1635.2 1210.5 L1636.5 1210.6 L1637.7 1210.7 L1638.9 1210.9 L1640.1 1210.9 L1641.4 1211.0 L1642.6 1211.0 L1643.8 1211.0 L1645.0 1211.0 L1646.3 1211.0 L1647.5 1210.9 L1648.7 1210.8 L1650.0 1210.7 L1651.2 1210.5 L1652.4 1210.3 L1653.6 1210.1 L1654.9 1209.8 L1656.1 1209.5 L1657.3 1209.2 L1658.6 1208.8 L1659.8 1208.4 L1661.0 1207.9 L1662.2 1207.4 L1663.5 1206.9 L1664.7 1206.3 L1665.9 1205.7 L1667.1 1205.1 L1668.4 1204.4 L1669.6 1203.6 L1670.8 1202.9 L1672.1 1202.0 L1673.3 1201.2 L1674.5 1200.3 L1675.7 1199.4 L1677.0 1198.4 L1678.2 1197.4 L1679.4 1196.3 L1680.7 1195.3 L1681.9 1194.1 L1683.1 1193.0 L1684.3 1191.8 L1685.6 1190.6 L1686.8 1189.4 L1688.0 1188.1 L1689.2 1186.8 L1690.5 1185.5 L1691.7 1184.2 L1692.9 1182.8 L1694.2 1181.4 L1695.4 1180.0 L1696.6 1178.6 L1697.8 1177.2 L1699.1 1175.7 L1700.3 1174.3 L1701.5 1172.8 L1702.8 1171.4 L1704.0 1169.9 L1705.2 1168.4 L1706.4 1167.0 L1707.7 1165.5 L1708.9 1164.0 L1710.1 1162.6 L1711.3 1161.1 L1712.6 1159.7 L1713.8 1158.3 L1715.0 1156.9 L1716.3 1155.5 L1717.5 1154.2 L1718.7 1152.8 L1719.9 1151.5 L1721.2 1150.2 L1722.4 1149.0 L1723.6 1147.8 L1724.9 1146.6 L1726.1 1145.4 L1727.3 1144.3 L1728.5 1143.2 L1729.8 1142.2 L1731.0 1141.2 L1732.2 1140.2 L1733.4 1139.3 L1734.7 1138.4 L1735.9 1137.6 L1737.1 1136.9 L1738.4 1136.1 L1739.6 1135.5 L1740.8 1134.9 L1742.0 1134.3 L1743.3 1133.8 L1744.5 1133.3 L1745.7 1132.9 L1747.0 1132.6 L1748.2 1132.3 L1749.4 1132.0 L1750.6 1131.8 L1751.9 1131.7 L1753.1 1131.6 L1754.3 1131.6 L1755.5 1131.6 L1756.8 1131.7 L1758.0 1131.9 L1759.2 1132.0 L1760.5 1132.3 L1761.7 1132.6 L1762.9 1132.9 L1764.1 1133.3 L1765.4 1133.8 L1766.6 1134.2 L1767.8 1134.8 L1769.1 1135.4 L1770.3 1136.0 L1771.5 1136.6 L1772.7 1137.3 L1774.0 1138.1 L1775.2 1138.8 L1776.4 1139.6 L1777.6 1140.5 L1778.9 1141.3 L1780.1 1142.2 L1781.3 1143.2 L1782.6 1144.1 L1783.8 1145.1 L1785.0 1146.1 L1786.2 1147.1 L1787.5 1148.1 L1788.7 1149.1 L1789.9 1150.2 L1791.2 1151.2 L1792.4 1152.3 L1793.6 1153.4 L1794.8 1154.4 L1796.1 1155.5 L1797.3 1156.6 L1798.5 1157.7 L1799.8 1158.7 L1801.0 1159.8 L1802.2 1160.8 L1803.4 1161.9 L1804.7 1162.9 L1805.9 1163.9 L1807.1 1164.9 L1808.3 1165.8 L1809.6 1166.8 L1810.8 1167.7 L1812.0 1168.6 L1813.3 1169.5 L1814.5 1170.3 L1815.7 1171.2 L1816.9 1171.9 L1818.2 1172.7 L1819.4 1173.4 L1820.6 1174.1 L1821.9 1174.8 L1823.1 1175.4 L1824.3 1176.0 L1825.5 1176.6 L1826.8 1177.1 L1828.0 1177.6 L1829.2 1178.0 L1830.4 1178.5 L1831.7 1178.8 L1832.9 1179.2 L1834.1 1179.5 L1835.4 1179.7 L1836.6 1180.0 L1837.8 1180.2 L1839.0 1180.3 L1840.3 1180.4 L1841.5 1180.5 L1842.7 1180.6 L1844.0 1180.6 L1845.2 1180.6 L1846.4 1180.5 L1847.6 1180.5 L1848.9 1180.3 L1850.1 1180.2 L1851.3 1180.0 L1852.5 1179.8" stroke="#f00" stroke-width="7.4" fill="none" stroke-linejoin="round"/>
<rect x="225.85" y="935.15" width="1657.75" height="637.90" fill="none" stroke="#000" stroke-width="5.9"/>
<path d="M231.4 916.4V935.1M231.4 1573.0V1591.8M308.5 925.4V935.1M308.5 1573.0V1582.8M385.6 925.4V935.1M385.6 1573.0V1582.8M462.6 925.4V935.1M462.6 1573.0V1582.8M539.7 916.4V935.1M539.7 1573.0V1591.8M616.8 925.4V935.1M616.8 1573.0V1582.8M693.9 925.4V935.1M693.9 1573.0V1582.8M771.0 925.4V935.1M771.0 1573.0V1582.8M848.0 916.4V935.1M848.0 1573.0V1591.8M925.1 925.4V935.1M925.1 1573.0V1582.8M1002.2 925.4V935.1M1002.2 1573.0V1582.8M1079.3 925.4V935.1M1079.3 1573.0V1582.8M1156.4 916.4V935.1M1156.4 1573.0V1591.8M1233.4 925.4V935.1M1233.4 1573.0V1582.8M1310.5 925.4V935.1M1310.5 1573.0V1582.8M1387.6 925.4V935.1M1387.6 1573.0V1582.8M1464.7 916.4V935.1M1464.7 1573.0V1591.8M1541.8 925.4V935.1M1541.8 1573.0V1582.8M1618.8 925.4V935.1M1618.8 1573.0V1582.8M1695.9 925.4V935.1M1695.9 1573.0V1582.8M1773.0 916.4V935.1M1773.0 1573.0V1591.8M1850.1 925.4V935.1M1850.1 1573.0V1582.8M207.0 1020.5H225.8M1883.6 1020.5H1902.4M207.0 1143.5H225.8M1883.6 1143.5H1902.4M207.0 1266.5H225.8M1883.6 1266.5H1902.4M207.0 1389.5H225.8M1883.6 1389.5H1902.4M207.0 1512.5H225.8M1883.6 1512.5H1902.4" stroke="#000" stroke-width="2.6" fill="none"/>
<rect x="144.1" y="1392.6" width="21.1" height="4.9"/>
<rect x="144.1" y="1515.6" width="21.1" height="4.9"/>
<clipPath id="c2"><rect x="225.85" y="1751.25" width="1657.75" height="637.6999999999998"/></clipPath>
<path clip-path="url(#c2)" d="M257.6 2209.8h0M258.5 2244.0h0M259.5 2235.3h0M260.4 2235.7h0M261.4 2267.6h0M262.3 2169.9h0M263.2 2190.2h0M264.2 2165.1h0M265.1 2208.8h0M266.0 2247.4h0M267.0 2211.2h0M267.9 2228.4h0M268.9 2147.5h0M269.8 2215.7h0M270.7 2181.3h0M271.7 2266.3h0M272.6 2237.3h0M273.6 2238.4h0M274.5 2207.4h0M275.4 2225.8h0M276.4 2224.7h0M277.3 2192.2h0M278.2 2184.9h0M279.2 2193.8h0M280.1 2176.3h0M281.1 2173.9h0M282.0 2180.8h0M282.9 2164.4h0M283.9 2208.3h0M284.8 2131.8h0M285.7 2205.2h0M286.7 2157.8h0M287.6 2159.0h0M288.6 2132.0h0M289.5 2169.1h0M290.4 2164.5h0M291.4 2177.2h0M292.3 2152.7h0M293.2 2171.5h0M294.2 2226.0h0M295.1 2179.2h0M296.1 2146.0h0M297.0 2194.4h0M297.9 2158.2h0M298.9 2180.6h0M299.8 2180.1h0M300.8 2147.1h0M301.7 2097.4h0M302.6 2146.7h0M303.6 2174.1h0M304.5 2143.9h0M305.4 2168.5h0M306.4 2184.2h0M307.3 2136.3h0M308.3 2189.7h0M309.2 2205.1h0M310.1 2192.1h0M311.1 2198.3h0M312.0 2199.7h0M312.9 2238.2h0M313.9 2179.4h0M314.8 2177.5h0M315.8 2199.1h0M316.7 2157.6h0M317.6 2142.2h0M318.6 2165.8h0M319.5 2205.6h0M320.4 2205.9h0M321.4 2141.9h0M322.3 2127.6h0M323.3 2173.0h0M324.2 2174.0h0M325.1 2175.4h0M326.1 2195.9h0M327.0 2211.7h0M328.0 2175.9h0M328.9 2186.0h0M329.8 2124.9h0M330.8 2119.7h0M331.7 2166.7h0M332.6 2179.3h0M333.6 2179.5h0M334.5 2173.6h0M335.5 2177.7h0M336.4 2176.6h0M337.3 2102.0h0M338.3 2130.4h0M339.2 2161.6h0M340.1 2163.7h0M341.1 2109.2h0M342.0 2175.1h0M343.0 2134.3h0M343.9 2138.6h0M344.8 2150.6h0M345.8 2162.1h0M346.7 2104.7h0M347.6 2167.2h0M348.6 2142.4h0M349.5 2118.9h0M350.5 2131.3h0M351.4 2078.3h0M352.3 2119.2h0M353.3 2142.5h0M354.2 2118.5h0M355.2 2130.2h0M356.1 2136.4h0M357.0 2143.1h0M358.0 2173.3h0M358.9 2143.0h0M359.8 2136.8h0M360.8 2162.7h0M361.7 2212.6h0M362.7 2137.0h0M363.6 2165.7h0M364.5 2094.7h0M365.5 2184.6h0M366.4 2158.1h0M367.3 2174.8h0M368.3 2126.5h0M369.2 2091.6h0M370.2 2147.0h0M371.1 2138.4h0M372.0 2084.7h0M373.0 2062.4h0M373.9 2115.8h0M374.8 2093.0h0M375.8 2171.1h0M376.7 2073.8h0M377.7 2073.3h0M378.6 2082.2h0M379.5 2035.0h0M380.5 2054.0h0M381.4 2121.6h0M382.4 2069.0h0M383.3 2052.9h0M384.2 2031.9h0M385.2 2078.8h0M386.1 2078.0h0M387.0 2067.5h0M388.0 2050.7h0M388.9 2069.2h0M389.9 2071.3h0M390.8 2044.1h0M391.7 2077.8h0M392.7 2008.3h0M393.6 2029.8h0M394.5 2055.0h0M395.5 2060.1h0M396.4 2034.2h0M397.4 2071.0h0M398.3 2089.2h0M399.2 2072.3h0M400.2 2064.8h0M401.1 2082.1h0M402.0 2068.2h0M403.0 2015.3h0M403.9 2045.0h0M404.9 2097.6h0M405.8 2006.0h0M406.7 2050.0h0M407.7 2030.2h0M408.6 2008.2h0M409.6 2003.9h0M410.5 2050.2h0M411.4 2059.4h0M412.4 2059.4h0M413.3 1987.9h0M414.2 2035.7h0M415.2 2061.9h0M416.1 2086.7h0M417.1 2075.8h0M418.0 2082.6h0M418.9 2093.6h0M419.9 2082.7h0M420.8 2016.4h0M421.7 2051.7h0M422.7 2020.5h0M423.6 1953.1h0M424.6 1981.4h0M425.5 2133.8h0M426.4 2004.2h0M427.4 1958.7h0M428.3 2025.7h0M429.2 2110.8h0M430.2 2047.5h0M431.1 2065.7h0M432.1 2038.7h0M433.0 2046.1h0M433.9 2098.2h0M434.9 2079.6h0M435.8 2046.1h0M436.8 2082.4h0M437.7 2088.6h0M438.6 2041.5h0M439.6 2058.9h0M440.5 2058.3h0M441.4 2026.3h0M442.4 2090.4h0M443.3 2048.5h0M444.3 2036.4h0M445.2 2006.3h0M446.1 2022.5h0M447.1 2108.4h0M448.0 2032.9h0M448.9 2080.0h0M449.9 2060.4h0M450.8 2086.1h0M451.8 2090.3h0M452.7 2058.2h0M453.6 2072.3h0M454.6 2084.7h0M455.5 2087.6h0M456.4 2086.0h0M457.4 2080.1h0M458.3 2110.2h0M459.3 2134.1h0M460.2 2113.1h0M461.1 2074.6h0M462.1 2113.9h0M463.0 2105.3h0M464.0 2119.9h0M464.9 2163.8h0M465.8 2091.0h0M466.8 2094.8h0M467.7 2063.3h0M468.6 2080.0h0M469.6 2068.3h0M470.5 2133.9h0M471.5 2090.0h0M472.4 2060.1h0M473.3 2133.0h0M474.3 2032.2h0M475.2 2096.1h0M476.1 2101.7h0M477.1 2089.2h0M478.0 2064.1h0M479.0 2068.7h0M479.9 2062.4h0M480.8 2099.3h0M481.8 1998.4h0M482.7 2058.2h0M483.6 2080.8h0M484.6 2056.6h0M485.5 2014.4h0M486.5 2069.4h0M487.4 2052.9h0M488.3 2107.8h0M489.3 2129.6h0M490.2 2084.9h0M491.2 2016.9h0M492.1 2078.1h0M493.0 2054.1h0M494.0 2110.7h0M494.9 2146.7h0M495.8 2100.5h0M496.8 2161.0h0M497.7 2141.4h0M498.7 2111.4h0M499.6 2057.4h0M500.5 2091.2h0M501.5 2039.0h0M502.4 2117.8h0M503.3 2086.6h0M504.3 2124.2h0M505.2 2088.5h0M506.2 2018.9h0M507.1 2095.7h0M508.0 2102.1h0M509.0 2130.6h0M509.9 2055.8h0M510.8 2062.6h0M511.8 2100.2h0M512.7 2068.5h0M513.7 2062.5h0M514.6 2077.2h0M515.5 2210.8h0M516.5 2104.1h0M517.4 2094.7h0M518.4 2121.5h0M519.3 2144.1h0M520.2 2196.0h0M521.2 2183.4h0M522.1 2178.4h0M523.0 2150.2h0M524.0 2155.8h0M524.9 2125.6h0M525.9 2092.5h0M526.8 2233.4h0M527.7 2136.2h0M528.7 2195.3h0M529.6 2144.0h0M530.5 2152.7h0M531.5 2146.8h0M532.4 2097.3h0M533.4 2142.5h0M534.3 2155.5h0M535.2 2167.2h0M536.2 2151.5h0M537.1 2165.0h0M538.0 2136.9h0M539.0 2123.5h0M539.9 2059.3h0M540.9 2100.3h0M541.8 2162.6h0M542.7 2121.1h0M543.7 2146.6h0M544.6 2113.2h0M545.6 2096.7h0M546.5 2208.6h0M547.4 2142.1h0M548.4 2196.0h0M549.3 2155.6h0M550.2 2118.0h0M551.2 2019.3h0M552.1 2141.2h0M553.1 2052.9h0M554.0 2019.5h0M554.9 2201.5h0M555.9 2173.8h0M556.8 2169.1h0M557.7 2139.1h0M558.7 2134.8h0M559.6 2156.8h0M560.6 2143.7h0M561.5 2139.6h0M562.4 2169.9h0M563.4 2026.5h0M564.3 2175.7h0M565.2 2107.9h0M566.2 2173.9h0M567.1 2188.0h0M568.1 2098.3h0M569.0 2170.8h0M569.9 2170.1h0M570.9 2103.5h0M571.8 2110.9h0M572.8 2139.1h0M573.7 2034.9h0M574.6 2113.7h0M575.6 2147.3h0M576.5 2124.0h0M577.4 2075.5h0M578.4 2137.5h0M579.3 2235.6h0M580.3 2233.2h0M581.2 2167.7h0M582.1 2138.4h0M583.1 2184.5h0M584.0 2191.9h0M584.9 2160.7h0M585.9 2184.2h0M586.8 2236.8h0M587.8 2253.8h0M588.7 2079.8h0M589.6 2256.7h0M590.6 2215.0h0M591.5 2265.9h0M592.4 2209.6h0M593.4 2232.6h0M594.3 2289.4h0M595.3 2094.7h0M596.2 2286.8h0M597.1 2223.8h0M598.1 2134.1h0M599.0 2100.1h0M600.0 2221.4h0M600.9 2164.0h0M601.8 2243.8h0M602.8 2209.8h0M603.7 2193.8h0M604.6 2233.9h0M605.6 2201.4h0M606.5 2218.5h0M607.5 2218.7h0M608.4 2199.1h0M609.3 2215.1h0M610.3 2214.8h0M611.2 2137.0h0M612.1 2175.7h0M613.1 2180.6h0M614.0 2170.3h0M615.0 2124.1h0M615.9 2161.7h0M616.8 2195.7h0M617.8 2189.5h0M618.7 2241.3h0M619.6 2158.0h0M620.6 2166.0h0M621.5 2161.7h0M622.5 2172.9h0M623.4 2162.8h0M624.3 2114.0h0M625.3 2202.5h0M626.2 2229.1h0M627.2 2235.5h0M628.1 2149.6h0M629.0 2186.0h0M630.0 2267.8h0M630.9 2187.6h0M631.8 2202.1h0M632.8 2176.9h0M633.7 2223.1h0M634.7 2218.3h0M635.6 2277.6h0M636.5 2189.9h0M637.5 2183.8h0M638.4 2098.0h0M639.3 2133.0h0M640.3 2115.6h0M641.2 2137.0h0M642.2 2086.4h0M643.1 2210.7h0M644.0 2094.2h0M645.0 2159.6h0M645.9 2078.6h0M646.8 2159.7h0M647.8 2226.8h0M648.7 2094.2h0M649.7 2155.2h0M650.6 2130.1h0M651.5 2147.1h0M652.5 2152.6h0M653.4 2094.5h0M654.4 2117.0h0M655.3 2093.9h0M656.2 2080.2h0M657.2 2057.9h0M658.1 2168.8h0M659.0 2080.3h0M660.0 2149.5h0M660.9 2141.9h0M661.9 2063.1h0M662.8 2162.0h0M663.7 2065.6h0M664.7 2136.6h0M665.6 2175.2h0M666.5 2065.7h0M667.5 2052.8h0M668.4 2049.8h0M669.4 2207.1h0M670.3 2073.1h0M671.2 2026.9h0M672.2 2127.0h0M673.1 2075.7h0M674.0 2079.5h0M675.0 2028.4h0M675.9 1964.3h0M676.9 2034.4h0M677.8 2015.3h0M678.7 1983.4h0M679.7 2006.1h0M680.6 2009.4h0M681.6 2092.3h0M682.5 2083.9h0M683.4 2071.0h0M684.4 2015.7h0M685.3 1977.6h0M686.2 2053.3h0M687.2 2059.9h0M688.1 2086.0h0M689.1 2031.7h0M690.0 2024.7h0M690.9 2045.7h0M691.9 1979.1h0M692.8 1983.4h0M693.7 2058.6h0M694.7 1954.7h0M695.6 2016.7h0M696.6 2063.5h0M697.5 2033.9h0M698.4 2044.5h0M699.4 1961.1h0M700.3 2014.5h0M701.2 2006.7h0M702.2 2054.1h0M703.1 2044.2h0M704.1 2023.2h0M705.0 2124.8h0M705.9 2051.4h0M706.9 2006.9h0M707.8 1991.7h0M708.8 2023.0h0M709.7 1998.2h0M710.6 2104.4h0M711.6 2054.4h0M712.5 2016.2h0M713.4 2003.3h0M714.4 1988.7h0M715.3 2022.6h0M716.3 2083.1h0M717.2 2065.4h0M718.1 2034.9h0M719.1 2042.7h0M720.0 1978.7h0M720.9 2064.4h0M721.9 2034.8h0M722.8 2083.9h0M723.8 2038.7h0M724.7 2031.4h0M725.6 2052.2h0M726.6 2030.5h0M727.5 2083.3h0M728.4 2056.9h0M729.4 2059.3h0M730.3 2058.6h0M731.3 2041.7h0M732.2 2062.3h0M733.1 2054.7h0M734.1 2093.8h0M735.0 2052.0h0M735.9 2059.8h0M736.9 2039.4h0M737.8 2041.5h0M738.8 2043.3h0M739.7 2082.8h0M740.6 2050.8h0M741.6 2072.8h0M742.5 2034.8h0M743.5 2028.1h0M744.4 1972.2h0M745.3 2062.7h0M746.3 2106.8h0M747.2 2018.5h0M748.1 2082.7h0M749.1 2057.4h0M750.0 1987.8h0M751.0 2050.4h0M751.9 1973.1h0M752.8 1999.8h0M753.8 2066.9h0M754.7 2018.7h0M755.6 1959.8h0M756.6 2070.5h0M757.5 1962.6h0M758.5 2001.4h0M759.4 1993.1h0M760.3 1999.9h0M761.3 1971.5h0M762.2 1940.0h0M763.1 2075.3h0M764.1 1962.5h0M765.0 1962.5h0M766.0 1898.9h0M766.9 1996.2h0M767.8 2041.2h0M768.8 2043.2h0M769.7 2084.3h0M770.7 2042.5h0M771.6 1997.2h0M772.5 1979.9h0M773.5 2034.4h0M774.4 1982.1h0M775.3 1995.5h0M776.3 1959.9h0M777.2 2001.4h0M778.2 2066.1h0M779.1 2005.7h0M780.0 2024.3h0M781.0 1951.0h0M781.9 2057.9h0M782.8 2036.6h0M783.8 2065.3h0M784.7 2040.6h0M785.7 2014.3h0M786.6 2000.3h0M787.5 2048.4h0M788.5 2034.2h0M789.4 2006.6h0M790.3 2032.8h0M791.3 2014.8h0M792.2 2057.8h0M793.2 2020.5h0M794.1 1991.6h0M795.0 2030.9h0M796.0 2015.9h0M796.9 2094.8h0M797.9 2027.4h0M798.8 1999.5h0M799.7 2050.6h0M800.7 2047.2h0M801.6 2071.2h0M802.5 2073.3h0M803.5 2029.4h0M804.4 2071.3h0M805.4 2073.4h0M806.3 2034.5h0M807.2 2060.9h0M808.2 2092.4h0M809.1 2022.7h0M810.0 2043.7h0M811.0 2069.0h0M811.9 2084.7h0M812.9 2109.5h0M813.8 2036.8h0M814.7 2103.1h0M815.7 2117.0h0M816.6 2154.3h0M817.5 2078.1h0M818.5 2056.4h0M819.4 2029.7h0M820.4 2109.5h0M821.3 2136.2h0M822.2 2056.0h0M823.2 2098.4h0M824.1 2112.7h0M825.1 2114.4h0M826.0 2059.0h0M826.9 2098.1h0M827.9 2068.9h0M828.8 2031.3h0M829.7 2077.4h0M830.7 2080.0h0M831.6 2014.4h0M832.6 2081.1h0M833.5 2163.8h0M834.4 1967.4h0M835.4 2092.4h0M836.3 2105.0h0M837.2 2048.1h0M838.2 2064.3h0M839.1 2020.0h0M840.1 2136.5h0M841.0 1972.8h0M841.9 2031.9h0M842.9 1915.7h0M843.8 2065.7h0M844.7 2070.1h0M845.7 1951.9h0M846.6 2003.0h0M847.6 2079.2h0M848.5 2031.0h0M849.4 1999.6h0M850.4 1945.7h0M851.3 2076.6h0M852.3 2145.3h0M853.2 2040.0h0M854.1 2077.8h0M855.1 2076.3h0M856.0 2054.3h0M856.9 2061.3h0M857.9 2061.4h0M858.8 2020.5h0M859.8 2156.6h0M860.7 2161.2h0M861.6 2066.8h0M862.6 2127.4h0M863.5 2028.7h0M864.4 2056.7h0M865.4 2115.5h0M866.3 2028.3h0M867.3 2026.5h0M868.2 2097.5h0M869.1 2007.5h0M870.1 2163.1h0M871.0 2128.0h0M871.9 2112.0h0M872.9 2134.3h0M873.8 2069.3h0M874.8 2066.7h0M875.7 2144.2h0M876.6 2149.7h0M877.6 2113.4h0M878.5 2104.2h0M879.5 2080.0h0M880.4 2175.3h0M881.3 2030.1h0M882.3 2060.7h0M883.2 2076.4h0M884.1 2021.9h0M885.1 2033.7h0M886.0 2050.8h0M887.0 2160.1h0M887.9 2202.0h0M888.8 2125.9h0M889.8 2024.4h0M890.7 2077.7h0M891.6 2102.5h0M892.6 2096.5h0M893.5 2092.1h0M894.5 2136.9h0M895.4 2015.9h0M896.3 2080.0h0M897.3 2114.0h0M898.2 2133.0h0M899.1 2109.1h0M900.1 2093.4h0M901.0 2082.9h0M902.0 2057.2h0M902.9 2084.8h0M903.8 2069.4h0M904.8 2046.6h0M905.7 2114.8h0M906.7 2110.7h0M907.6 2057.1h0M908.5 2094.8h0M909.5 2117.3h0M910.4 2087.7h0M911.3 2085.6h0M912.3 2100.3h0M913.2 2033.6h0M914.2 2044.2h0M915.1 2108.4h0M916.0 2103.3h0M917.0 2138.5h0M917.9 2087.2h0M918.8 2141.5h0M919.8 2147.3h0M920.7 2181.8h0M921.7 2105.0h0M922.6 2125.3h0M923.5 2151.3h0M924.5 2157.9h0M925.4 2125.7h0M926.3 2145.7h0M927.3 2129.5h0M928.2 2249.6h0M929.2 2175.8h0M930.1 2173.8h0M931.0 2148.0h0M932.0 2167.6h0M932.9 2194.6h0M933.9 2145.1h0M934.8 2154.0h0M935.7 2251.4h0M936.7 2192.0h0M937.6 2155.8h0M938.5 2118.4h0M939.5 2135.2h0M940.4 2094.1h0M941.4 2146.8h0M942.3 2094.8h0M943.2 2090.2h0M944.2 2105.2h0M945.1 2069.0h0M946.0 2132.6h0M947.0 2248.8h0M947.9 2087.1h0M948.9 2033.4h0M949.8 2162.2h0M950.7 2107.4h0M951.7 2207.1h0M952.6 2127.9h0M953.5 2151.9h0M954.5 2071.3h0M955.4 2033.6h0M956.4 2096.1h0M957.3 2131.9h0M958.2 2064.8h0M959.2 2033.7h0M960.1 2074.5h0M961.1 2079.7h0M962.0 2083.4h0M962.9 2093.9h0M963.9 2189.1h0M964.8 2094.2h0M965.7 2072.1h0M966.7 2047.4h0M967.6 2122.2h0M968.6 2024.8h0M969.5 2146.8h0M970.4 2086.6h0M971.4 2024.3h0M972.3 2092.5h0M973.2 2078.7h0M974.2 2131.2h0M975.1 2014.2h0M976.1 2082.3h0M977.0 2069.8h0M977.9 2106.4h0M978.9 2015.4h0M979.8 2027.3h0M980.7 2142.9h0M981.7 2078.7h0M982.6 1986.5h0M983.6 2062.4h0M984.5 2009.8h0M985.4 2010.5h0M986.4 1983.6h0M987.3 2075.7h0M988.3 2005.9h0M989.2 2033.7h0M990.1 2024.6h0M991.1 1953.1h0M992.0 1982.3h0M992.9 2041.9h0M993.9 1940.6h0M994.8 2012.4h0M995.8 1994.8h0M996.7 2024.9h0M997.6 2025.3h0M998.6 2030.3h0M999.5 1993.8h0M1000.4 2001.2h0M1001.4 1952.9h0M1002.3 1958.2h0M1003.3 2028.4h0M1004.2 1950.1h0M1005.1 2032.9h0M1006.1 2030.6h0M1007.0 1930.9h0M1007.9 1997.3h0M1008.9 1923.7h0M1009.8 1975.8h0M1010.8 1919.0h0M1011.7 1965.4h0M1012.6 1953.1h0M1013.6 1898.3h0M1014.5 2018.0h0M1015.5 1968.8h0M1016.4 1869.6h0M1017.3 1935.2h0M1018.3 1907.9h0M1019.2 1998.9h0M1020.1 1922.0h0M1021.1 1940.3h0M1022.0 1918.0h0M1023.0 1952.3h0M1023.9 1903.5h0M1024.8 1887.3h0M1025.8 1905.0h0M1026.7 1908.4h0M1027.6 1958.8h0M1028.6 1933.8h0M1029.5 1912.4h0M1030.5 1918.9h0M1031.4 1900.5h0M1032.3 1951.9h0M1033.3 1863.1h0M1034.2 1945.3h0M1035.1 2006.6h0M1036.1 1948.7h0M1037.0 1942.2h0M1038.0 1972.8h0M1038.9 1942.4h0M1039.8 1952.2h0M1040.8 2006.9h0M1041.7 1953.4h0M1042.7 2075.4h0M1043.6 2011.0h0M1044.5 1978.4h0M1045.5 1947.9h0M1046.4 1969.7h0M1047.3 1831.8h0M1048.3 2006.0h0M1049.2 2057.6h0M1050.2 2036.7h0M1051.1 1956.6h0M1052.0 2036.8h0M1053.0 2034.0h0M1053.9 1986.6h0M1054.8 2011.3h0M1055.8 2036.3h0M1056.7 2010.5h0M1057.7 1988.6h0M1058.6 1997.8h0M1059.5 2001.2h0M1060.5 1960.2h0M1061.4 2001.3h0M1062.3 1995.2h0M1063.3 1943.2h0M1064.2 1954.0h0M1065.2 2047.5h0M1066.1 2002.1h0M1067.0 2037.5h0M1068.0 1988.9h0M1068.9 2045.4h0M1069.9 2018.9h0M1070.8 1982.8h0M1071.7 2013.9h0M1072.7 2056.1h0M1073.6 2084.6h0M1074.5 2027.2h0M1075.5 1998.0h0M1076.4 1985.9h0M1077.4 2039.0h0M1078.3 2054.8h0M1079.2 2024.6h0M1080.2 2017.6h0M1081.1 2050.6h0M1082.0 2039.9h0M1083.0 2037.4h0M1083.9 1968.5h0M1084.9 2012.4h0M1085.8 2095.1h0M1086.7 2025.2h0M1087.7 2118.4h0M1088.6 2041.8h0M1089.5 2016.6h0M1090.5 2039.3h0M1091.4 2052.8h0M1092.4 2001.8h0M1093.3 2041.0h0M1094.2 2016.2h0M1095.2 2091.1h0M1096.1 2017.0h0M1097.1 2040.8h0M1098.0 1978.1h0M1098.9 1984.6h0M1099.9 2036.0h0M1100.8 2004.7h0M1101.7 2030.3h0M1102.7 2052.3h0M1103.6 2066.3h0M1104.6 1989.9h0M1105.5 2039.2h0M1106.4 2073.9h0M1107.4 2022.3h0M1108.3 1998.7h0M1109.2 2024.0h0M1110.2 2116.5h0M1111.1 2054.3h0M1112.1 2116.2h0M1113.0 2043.9h0M1113.9 2104.1h0M1114.9 2003.4h0M1115.8 2051.4h0M1116.7 2066.2h0M1117.7 2130.5h0M1118.6 2083.8h0M1119.6 2109.1h0M1120.5 2054.7h0M1121.4 2056.8h0M1122.4 2118.5h0M1123.3 2125.1h0M1124.3 2119.4h0M1125.2 2120.6h0M1126.1 2062.1h0M1127.1 2159.3h0M1128.0 2090.3h0M1128.9 2132.3h0M1129.9 2115.4h0M1130.8 2023.9h0M1131.8 2017.8h0M1132.7 2031.8h0M1133.6 2092.8h0M1134.6 2140.1h0M1135.5 2088.4h0M1136.4 2130.0h0M1137.4 2044.9h0M1138.3 2067.5h0M1139.3 2054.1h0M1140.2 2090.6h0M1141.1 2039.3h0M1142.1 2081.5h0M1143.0 2109.4h0M1143.9 2062.3h0M1144.9 2041.5h0M1145.8 2058.8h0M1146.8 2023.5h0M1147.7 2033.9h0M1148.6 2116.1h0M1149.6 2097.5h0M1150.5 2023.2h0M1151.5 2074.5h0M1152.4 2107.1h0M1153.3 2123.1h0M1154.3 2118.0h0M1155.2 2133.3h0M1156.1 2093.7h0M1157.1 2096.4h0M1158.0 2087.8h0M1159.0 2139.8h0M1159.9 2128.7h0M1160.8 2165.2h0M1161.8 2136.9h0M1162.7 2055.0h0M1163.6 2024.9h0M1164.6 2026.0h0M1165.5 2045.0h0M1166.5 2108.4h0M1167.4 2018.5h0M1168.3 1988.4h0M1169.3 2069.1h0M1170.2 2113.1h0M1171.1 2111.6h0M1172.1 2151.2h0M1173.0 2075.3h0M1174.0 2051.9h0M1174.9 2063.1h0M1175.8 2017.2h0M1176.8 2046.6h0M1177.7 2133.5h0M1178.7 2169.7h0M1179.6 2132.8h0M1180.5 2089.3h0M1181.5 2065.8h0M1182.4 2086.5h0M1183.3 1998.0h0M1184.3 2099.5h0M1185.2 2107.2h0M1186.2 2070.9h0M1187.1 2076.8h0M1188.0 2012.9h0M1189.0 2104.7h0M1189.9 2104.1h0M1190.8 1987.0h0M1191.8 2056.6h0M1192.7 2088.9h0M1193.7 2133.5h0M1194.6 2049.8h0M1195.5 2077.7h0M1196.5 2126.8h0M1197.4 2095.2h0M1198.3 2073.9h0M1199.3 2067.7h0M1200.2 2083.0h0M1201.2 2058.7h0M1202.1 2113.5h0M1203.0 2057.9h0M1204.0 2102.0h0M1204.9 2114.4h0M1205.9 2124.2h0M1206.8 2091.1h0M1207.7 2088.9h0M1208.7 2100.3h0M1209.6 2093.3h0M1210.5 2128.0h0M1211.5 2088.6h0M1212.4 2158.9h0M1213.4 2180.1h0M1214.3 2070.3h0M1215.2 2104.1h0M1216.2 2052.6h0M1217.1 2111.7h0M1218.0 2099.7h0M1219.0 2079.4h0M1219.9 2054.6h0M1220.9 2084.0h0M1221.8 2136.2h0M1222.7 2122.7h0M1223.7 2089.2h0M1224.6 2063.7h0M1225.5 2079.5h0M1226.5 2061.4h0M1227.4 2048.9h0M1228.4 2059.9h0M1229.3 2099.6h0M1230.2 2093.2h0M1231.2 2091.2h0M1232.1 2060.6h0M1233.1 2054.1h0M1234.0 2115.2h0M1234.9 2082.4h0M1235.9 2122.4h0M1236.8 2074.3h0M1237.7 2121.1h0M1238.7 2102.7h0M1239.6 2084.9h0M1240.6 2085.8h0M1241.5 2157.6h0M1242.4 2129.7h0M1243.4 2093.7h0M1244.3 2108.8h0M1245.2 2052.4h0M1246.2 2164.8h0M1247.1 2154.5h0M1248.1 2090.7h0M1249.0 2120.9h0M1249.9 2009.0h0M1250.9 2139.0h0M1251.8 2120.2h0M1252.7 2112.0h0M1253.7 2132.9h0M1254.6 2112.3h0M1255.6 2062.4h0M1256.5 2072.2h0M1257.4 2091.4h0M1258.4 2130.6h0M1259.3 2092.8h0M1260.3 2063.2h0M1261.2 2097.7h0M1262.1 2037.1h0M1263.1 2149.7h0M1264.0 2084.2h0M1264.9 2037.7h0M1265.9 2072.2h0M1266.8 2097.2h0M1267.8 2076.3h0M1268.7 2116.9h0M1269.6 2008.2h0M1270.6 2096.9h0M1271.5 2041.3h0M1272.4 2066.7h0M1273.4 2091.1h0M1274.3 1986.5h0M1275.3 1973.1h0M1276.2 2004.6h0M1277.1 1952.1h0M1278.1 1932.6h0M1279.0 2008.0h0M1279.9 2046.7h0M1280.9 1977.4h0M1281.8 2015.5h0M1282.8 2105.0h0M1283.7 2003.0h0M1284.6 1970.3h0M1285.6 1973.7h0M1286.5 1999.9h0M1287.5 1960.7h0M1288.4 2008.6h0M1289.3 1980.9h0M1290.3 2017.0h0M1291.2 1972.1h0M1292.1 1958.3h0M1293.1 1910.0h0M1294.0 1884.2h0M1295.0 1944.6h0M1295.9 1938.2h0M1296.8 1974.2h0M1297.8 1953.8h0M1298.7 1935.9h0M1299.6 2078.8h0M1300.6 1972.7h0M1301.5 2019.9h0M1302.5 1899.4h0M1303.4 2005.4h0M1304.3 2011.8h0M1305.3 1973.5h0M1306.2 1906.5h0M1307.1 2009.4h0M1308.1 1914.1h0M1309.0 1875.5h0M1310.0 1873.2h0M1310.9 1948.0h0M1311.8 1923.1h0M1312.8 1977.0h0M1313.7 1970.3h0M1314.7 1998.1h0M1315.6 1954.8h0M1316.5 1944.9h0M1317.5 1940.0h0M1318.4 1907.6h0M1319.3 1905.5h0M1320.3 1909.0h0M1321.2 1945.7h0M1322.2 1903.4h0M1323.1 1931.9h0M1324.0 1975.3h0M1325.0 1843.5h0M1325.9 1899.4h0M1326.8 1893.9h0M1327.8 1929.5h0M1328.7 1873.2h0M1329.7 1902.7h0M1330.6 2011.5h0M1331.5 1874.7h0M1332.5 1920.9h0M1333.4 1930.7h0M1334.3 1911.0h0M1335.3 1876.7h0M1336.2 1958.1h0M1337.2 1847.2h0M1338.1 1882.5h0M1339.0 1911.1h0M1340.0 1894.3h0M1340.9 1968.6h0M1341.9 1906.1h0M1342.8 2001.8h0M1343.7 1918.5h0M1344.7 1988.0h0M1345.6 1937.8h0M1346.5 1906.3h0M1347.5 1903.0h0M1348.4 1959.2h0M1349.4 1889.3h0M1350.3 1909.2h0M1351.2 1877.1h0M1352.2 1827.9h0M1353.1 1926.0h0M1354.0 1927.1h0M1355.0 1859.9h0M1355.9 1916.7h0M1356.9 1891.1h0M1357.8 1837.3h0M1358.7 1869.3h0M1359.7 1926.9h0M1360.6 1944.0h0M1361.5 1923.5h0M1362.5 2017.2h0M1363.4 1928.2h0M1364.4 1884.2h0M1365.3 1853.6h0M1366.2 1989.8h0M1367.2 1901.7h0M1368.1 1908.3h0M1369.1 1887.4h0M1370.0 1887.9h0M1370.9 1910.0h0M1371.9 1949.4h0M1372.8 1953.0h0M1373.7 1943.4h0M1374.7 1970.5h0M1375.6 1904.9h0M1376.6 1881.2h0M1377.5 1924.3h0M1378.4 1837.0h0M1379.4 1962.9h0M1380.3 1950.2h0M1381.2 1954.5h0M1382.2 1893.5h0M1383.1 1921.5h0M1384.1 1945.4h0M1385.0 1911.5h0M1385.9 1913.7h0M1386.9 1949.0h0M1387.8 1965.0h0M1388.7 1942.6h0M1389.7 1999.9h0M1390.6 2038.2h0M1391.6 1989.0h0M1392.5 1963.6h0M1393.4 1957.0h0M1394.4 2021.5h0M1395.3 1975.1h0M1396.3 1985.0h0M1397.2 1969.3h0M1398.1 1936.5h0M1399.1 2019.0h0M1400.0 1945.3h0M1400.9 1960.3h0M1401.9 1856.3h0M1402.8 2050.7h0M1403.8 1990.1h0M1404.7 1954.4h0M1405.6 1925.7h0M1406.6 1936.0h0M1407.5 1889.5h0M1408.4 1988.9h0M1409.4 1931.4h0M1410.3 1991.7h0M1411.3 1995.2h0M1412.2 2063.0h0M1413.1 1989.7h0M1414.1 1998.1h0M1415.0 2012.1h0M1415.9 1966.8h0M1416.9 1988.3h0M1417.8 2018.6h0M1418.8 2060.5h0M1419.7 2047.0h0M1420.6 2006.7h0M1421.6 2077.9h0M1422.5 2011.5h0M1423.5 1965.2h0M1424.4 2106.1h0M1425.3 2037.8h0M1426.3 2017.5h0M1427.2 1986.8h0M1428.1 2019.4h0M1429.1 2105.2h0M1430.0 2035.3h0M1431.0 2123.3h0M1431.9 2038.9h0M1432.8 2079.6h0M1433.8 2039.3h0M1434.7 2022.0h0M1435.6 2023.2h0M1436.6 2028.8h0M1437.5 1996.2h0M1438.5 1995.2h0M1439.4 2050.7h0M1440.3 2081.4h0M1441.3 2043.8h0M1442.2 2040.1h0M1443.1 2006.8h0M1444.1 2077.7h0M1445.0 2074.9h0M1446.0 1998.3h0M1446.9 2041.0h0M1447.8 2027.0h0M1448.8 1986.8h0M1449.7 2094.4h0M1450.7 2079.7h0M1451.6 2049.7h0M1452.5 2087.7h0M1453.5 2021.1h0M1454.4 2048.4h0M1455.3 2085.6h0M1456.3 2028.6h0M1457.2 2049.3h0M1458.2 2003.9h0M1459.1 2061.9h0M1460.0 2081.6h0M1461.0 1998.3h0M1461.9 2004.1h0M1462.8 2032.6h0M1463.8 2095.3h0M1464.7 2011.7h0M1465.7 1995.6h0M1466.6 2028.0h0M1467.5 2087.3h0M1468.5 1956.2h0M1469.4 2024.0h0M1470.3 2099.9h0M1471.3 2032.6h0M1472.2 2020.3h0M1473.2 2081.0h0M1474.1 1972.2h0M1475.0 2148.6h0M1476.0 2064.8h0M1476.9 2021.2h0M1477.9 2047.4h0M1478.8 2042.2h0M1479.7 2033.8h0M1480.7 1994.2h0M1481.6 2041.0h0M1482.5 1981.8h0M1483.5 2111.4h0M1484.4 2014.7h0M1485.4 2033.3h0M1486.3 2034.6h0M1487.2 2090.9h0M1488.2 2061.9h0M1489.1 2125.3h0M1490.0 2058.8h0M1491.0 2085.3h0M1491.9 2080.5h0M1492.9 2072.9h0M1493.8 2135.7h0M1494.7 2144.9h0M1495.7 2153.0h0M1496.6 2040.5h0M1497.5 2119.5h0M1498.5 2054.0h0M1499.4 2051.6h0M1500.4 2021.4h0M1501.3 2058.4h0M1502.2 2125.8h0M1503.2 2159.9h0M1504.1 2174.0h0M1505.0 2055.4h0M1506.0 2066.8h0M1506.9 2103.8h0M1507.9 2098.7h0M1508.8 2100.7h0M1509.7 2012.0h0M1510.7 2080.2h0M1511.6 2113.3h0M1512.6 2098.0h0M1513.5 2079.8h0M1514.4 2051.7h0M1515.4 2078.6h0M1516.3 2152.6h0M1517.2 2102.7h0M1518.2 2125.9h0M1519.1 2151.7h0M1520.1 2028.7h0M1521.0 2107.0h0M1521.9 2098.2h0M1522.9 2135.8h0M1523.8 2068.8h0M1524.7 2070.4h0M1525.7 2052.6h0M1526.6 2088.1h0M1527.6 2069.6h0M1528.5 2075.3h0M1529.4 2095.5h0M1530.4 2067.5h0M1531.3 2046.4h0M1532.2 2066.8h0M1533.2 2061.3h0M1534.1 2099.7h0M1535.1 2132.0h0M1536.0 2069.3h0M1536.9 1986.2h0M1537.9 2105.8h0M1538.8 2080.2h0M1539.8 2045.5h0M1540.7 2072.7h0M1541.6 2155.9h0M1542.6 2023.7h0M1543.5 2036.7h0M1544.4 2080.0h0M1545.4 1981.5h0M1546.3 2064.2h0M1547.3 2120.8h0M1548.2 2103.8h0M1549.1 2097.1h0M1550.1 2069.1h0M1551.0 2076.0h0M1551.9 2186.6h0M1552.9 2091.6h0M1553.8 2134.9h0M1554.8 2031.0h0M1555.7 2089.1h0M1556.6 2092.5h0M1557.6 2083.1h0M1558.5 1990.3h0M1559.4 2058.1h0M1560.4 2131.0h0M1561.3 2094.2h0M1562.3 2040.4h0M1563.2 2104.6h0M1564.1 1994.8h0M1565.1 2089.2h0M1566.0 2076.8h0M1567.0 2037.0h0M1567.9 2018.9h0M1568.8 1992.3h0M1569.8 2043.5h0M1570.7 2112.2h0M1571.6 2077.1h0M1572.6 2057.6h0M1573.5 2072.8h0M1574.5 2016.4h0M1575.4 2052.4h0M1576.3 1942.0h0M1577.3 2010.9h0M1578.2 2008.0h0M1579.1 2019.7h0M1580.1 2012.9h0M1581.0 2037.9h0M1582.0 1989.9h0M1582.9 2045.1h0M1583.8 1997.6h0M1584.8 2037.9h0M1585.7 2005.7h0M1586.6 2031.7h0M1587.6 2014.9h0M1588.5 1973.2h0M1589.5 2001.6h0M1590.4 1946.6h0M1591.3 1994.2h0M1592.3 2004.3h0M1593.2 1980.9h0M1594.2 1983.6h0M1595.1 2019.2h0M1596.0 2024.2h0M1597.0 2028.5h0M1597.9 1967.4h0M1598.8 1969.4h0M1599.8 2004.7h0M1600.7 2006.3h0M1601.7 1917.8h0M1602.6 2038.7h0M1603.5 2010.6h0M1604.5 1928.1h0M1605.4 2008.0h0M1606.3 1951.8h0M1607.3 1960.1h0M1608.2 1926.9h0M1609.2 1930.8h0M1610.1 1944.9h0M1611.0 1960.2h0M1612.0 1916.0h0M1612.9 1950.9h0M1613.8 1926.9h0M1614.8 1931.5h0M1615.7 1917.7h0M1616.7 1924.9h0M1617.6 1997.4h0M1618.5 1888.9h0M1619.5 1897.4h0M1620.4 1936.8h0M1621.4 1921.5h0M1622.3 1901.6h0M1623.2 1950.5h0M1624.2 1894.4h0M1625.1 1934.5h0M1626.0 1968.4h0M1627.0 1953.8h0M1627.9 1921.3h0M1628.9 1931.4h0M1629.8 1937.0h0M1630.7 1953.2h0M1631.7 1889.4h0M1632.6 1973.2h0M1633.5 1949.6h0M1634.5 1989.3h0M1635.4 1946.3h0M1636.4 1950.0h0M1637.3 1809.6h0M1638.2 1887.1h0M1639.2 1971.4h0M1640.1 1911.9h0M1641.0 1877.0h0M1642.0 1916.9h0M1642.9 1894.0h0M1643.9 1905.5h0M1644.8 1864.9h0M1645.7 1910.0h0M1646.7 1945.1h0M1647.6 1899.9h0M1648.6 1906.9h0M1649.5 1867.8h0M1650.4 1908.2h0M1651.4 1878.4h0M1652.3 1847.4h0M1653.2 1878.6h0M1654.2 1885.5h0M1655.1 1913.7h0M1656.1 1929.1h0M1657.0 1889.5h0M1657.9 1884.5h0M1658.9 1923.0h0M1659.8 1865.3h0M1660.7 1887.9h0M1661.7 1892.7h0M1662.6 1896.6h0M1663.6 1879.5h0M1664.5 1974.1h0M1665.4 1945.1h0M1666.4 1899.9h0M1667.3 1852.4h0M1668.2 1889.1h0M1669.2 1929.2h0M1670.1 1842.2h0M1671.1 1990.8h0M1672.0 1907.5h0M1672.9 1908.9h0M1673.9 1929.3h0M1674.8 1872.4h0M1675.8 1915.0h0M1676.7 1916.2h0M1677.6 1941.2h0M1678.6 1890.7h0M1679.5 1946.9h0M1680.4 1970.7h0M1681.4 1943.2h0M1682.3 1915.2h0M1683.3 1905.6h0M1684.2 1869.7h0M1685.1 1921.1h0M1686.1 1970.6h0M1687.0 2016.7h0M1687.9 1996.4h0M1688.9 2003.7h0M1689.8 1931.9h0M1690.8 1934.5h0M1691.7 1888.7h0M1692.6 1926.0h0M1693.6 1907.9h0M1694.5 1945.1h0M1695.4 1983.1h0M1696.4 1951.7h0M1697.3 1944.0h0M1698.3 1985.5h0M1699.2 2021.3h0M1700.1 2005.2h0M1701.1 1884.3h0M1702.0 2039.1h0M1703.0 1939.8h0M1703.9 1891.8h0M1704.8 1943.8h0M1705.8 2012.5h0M1706.7 1830.7h0M1707.6 2032.5h0M1708.6 1975.6h0M1709.5 1996.0h0M1710.5 1896.0h0M1711.4 1941.9h0M1712.3 1915.0h0M1713.3 2034.6h0M1714.2 1939.4h0M1715.1 1998.4h0M1716.1 1951.1h0M1717.0 1906.9h0M1718.0 2028.0h0M1718.9 2043.6h0M1719.8 2059.0h0M1720.8 1966.5h0M1721.7 1991.7h0M1722.6 2017.6h0M1723.6 2001.0h0M1724.5 1994.8h0M1725.5 2077.3h0M1726.4 1967.7h0M1727.3 2016.2h0M1728.3 1962.0h0M1729.2 2031.8h0M1730.2 1970.2h0M1731.1 1944.7h0M1732.0 2007.1h0M1733.0 1984.3h0M1733.9 1970.5h0M1734.8 1977.8h0M1735.8 1964.9h0M1736.7 2008.7h0M1737.7 2003.6h0M1738.6 2056.3h0M1739.5 1968.5h0M1740.5 2052.1h0M1741.4 2020.0h0M1742.3 1943.4h0M1743.3 2058.7h0M1744.2 1929.1h0M1745.2 2019.5h0M1746.1 1925.7h0M1747.0 2010.3h0M1748.0 1984.8h0M1748.9 1988.8h0M1749.8 1923.9h0M1750.8 1969.4h0M1751.7 2046.8h0M1752.7 2024.9h0M1753.6 1998.4h0M1754.5 1997.2h0M1755.5 1978.0h0M1756.4 2062.4h0M1757.4 2005.1h0M1758.3 2050.9h0M1759.2 1950.2h0M1760.2 1949.0h0M1761.1 2065.8h0M1762.0 1978.2h0M1763.0 2006.6h0M1763.9 2034.6h0M1764.9 2052.6h0M1765.8 2040.9h0M1766.7 2037.5h0M1767.7 2081.4h0M1768.6 2024.6h0M1769.5 2051.6h0M1770.5 2014.7h0M1771.4 2019.3h0M1772.4 2094.2h0M1773.3 2000.1h0M1774.2 1898.7h0M1775.2 2013.5h0M1776.1 2019.3h0M1777.0 2091.0h0M1778.0 1997.2h0M1778.9 1966.3h0M1779.9 2020.3h0M1780.8 2089.9h0M1781.7 2003.9h0M1782.7 2066.8h0M1783.6 2038.2h0M1784.6 2044.0h0M1785.5 1991.6h0M1786.4 2024.8h0M1787.4 1993.5h0M1788.3 2019.8h0M1789.2 1995.7h0M1790.2 2051.7h0M1791.1 1999.3h0M1792.1 2007.3h0M1793.0 1948.4h0M1793.9 1983.9h0M1794.9 2076.9h0M1795.8 1998.6h0M1796.7 1966.6h0M1797.7 2006.3h0M1798.6 2000.3h0M1799.6 1992.0h0M1800.5 1997.3h0M1801.4 1991.1h0M1802.4 2037.5h0M1803.3 1963.6h0M1804.2 2013.9h0M1805.2 2038.3h0M1806.1 1969.7h0M1807.1 2100.8h0M1808.0 2008.0h0M1808.9 2000.9h0M1809.9 1979.8h0M1810.8 2042.2h0M1811.8 1929.3h0M1812.7 2033.5h0M1813.6 2114.4h0M1814.6 2022.8h0M1815.5 2048.6h0M1816.4 1958.7h0M1817.4 2047.8h0M1818.3 1965.5h0M1819.3 1983.0h0M1820.2 2006.7h0M1821.1 2107.8h0M1822.1 1973.7h0M1823.0 1902.9h0M1823.9 2009.1h0M1824.9 2040.5h0M1825.8 2033.2h0M1826.8 2010.7h0M1827.7 2064.0h0M1828.6 2039.2h0M1829.6 2035.3h0M1830.5 1976.6h0M1831.4 1929.2h0M1832.4 2074.7h0M1833.3 1956.2h0M1834.3 2066.0h0M1835.2 2063.9h0M1836.1 1939.7h0M1837.1 1968.4h0M1838.0 2030.2h0M1839.0 2065.0h0M1839.9 1950.2h0M1840.8 1991.6h0M1841.8 1944.7h0M1842.7 1933.7h0M1843.6 2018.4h0M1844.6 1983.0h0M1845.5 1886.7h0M1846.5 2039.3h0M1847.4 1991.1h0M1848.3 1991.3h0M1849.3 1935.9h0M1850.2 2059.7h0M1851.1 2034.9h0M1852.1 2034.6h0M1048.5 1810.1h0M1021.6 1850.9h0M1029.4 1872.6h0M1049.4 1876.7h0M1051.3 1891.2h0M1048.0 1912.0h0M1049.9 1933.3h0M1000.8 1916.1h0M1000.0 1920.9h0M1033.0 2060.5h0M1057.1 2109.6h0M775.2 1903.6h0M776.0 1920.3h0M755.2 1923.6h0M756.6 1939.7h0M704.4 1914.2h0M713.5 1932.8h0M726.9 1930.8h0M704.9 1948.9h0M703.6 1960.8h0M709.9 1973.0h0M690.8 1974.7h0M671.9 2016.0h0M651.1 2057.7h0M840.7 1946.7h0M840.7 1959.2h0M886.5 1982.7h0M908.4 2005.5h0M943.1 2004.4h0M846.8 1990.0h0M860.1 1994.7h0M795.4 1982.7h0M792.6 1998.0h0M805.1 1993.8h0M803.7 2028.5h0M737.1 2109.0h0M764.1 2113.2h0M728.8 2129.8h0M791.3 2129.8h0M683.0 2171.5h0M652.5 2152.0h0M652.5 2207.5h0M641.4 2250.6h0M641.4 2267.2h0M821.8 2256.9h0M925.3 2376.0h0M898.1 2227.8h0M877.3 2217.3h0M881.5 2220.0h0M864.8 2193.7h0M837.1 2161.8h0M852.3 2156.8h0M896.7 2175.6h0M988.3 2149.3h0M968.9 2147.9h0M969.4 2133.2h0M817.6 2167.3h0M823.2 2177.0h0M820.4 2200.6h0M823.2 2222.8h0M406.8 1936.4h0M400.4 1942.5h0M408.2 1949.4h0M455.4 1977.2h0M479.5 1977.2h0M311.0 2013.3h0M310.2 2048.0h0M257.7 2079.9h0M290.5 2079.9h0M258.3 2135.4h0M619.7 2011.1h0M570.0 2029.9h0M578.9 2050.2h0M350.7 2053.5h0M349.9 2070.2h0M314.4 2089.6h0M351.8 2102.1h0M468.4 2150.7h0M484.8 2183.1h0M500.3 2186.7h0M527.0 2242.8h0M528.1 2294.4h0M589.4 2301.9h0M606.1 2305.5h0M604.7 2340.8h0M281.9 2290.3h0M283.3 2310.8h0M279.1 2315.8h0M281.9 2352.4h0M268.0 2270.0h0M637.1 2266.7h0M636.3 2252.2h0M574.1 2240.9h0M558.0 2237.2h0M508.1 2028.5h0M510.3 2052.1h0M1365.8 1796.0h0M1353.4 1842.0h0M1425.5 1870.3h0M1427.5 1888.9h0M1089.1 1892.0h0M1146.6 1903.9h0M1087.7 1935.6h0M1147.1 1938.9h0M1090.5 1955.0h0M1120.2 1966.1h0M1170.2 1974.4h0M1184.1 1984.1h0M1199.3 1986.4h0M1202.1 2016.0h0M1134.1 2002.7h0M1149.4 2005.8h0M1060.0 2109.6h0M1077.2 2075.2h0M1081.4 2064.6h0M1128.3 2228.4h0M1163.2 2192.3h0M1179.3 2183.1h0M1221.0 2190.1h0M1194.3 2159.0h0M1209.9 2159.0h0M1134.7 2157.6h0M1142.4 2157.6h0M1249.3 2157.6h0M1415.8 2170.6h0M1418.0 2140.9h0M1406.1 2109.0h0M1439.9 2120.1h0M1446.3 2127.6h0M1459.6 2111.2h0M1407.5 2066.0h0M1399.1 2038.3h0M1390.8 2033.5h0M1315.9 2040.2h0M1304.8 2035.5h0M1323.7 2015.5h0M1333.4 2004.9h0M1358.9 1997.2h0M1374.2 1998.0h0M1647.6 1763.5h0M1646.5 1785.1h0M1636.0 1826.8h0M1611.5 1873.1h0M1566.6 1919.5h0M1544.4 1986.4h0M1518.6 2002.7h0M1485.8 1975.2h0M1483.0 2005.8h0M1505.8 2216.2h0M1540.2 2207.5h0M1763.6 2156.2h0M1848.8 2094.6h0M1844.1 1909.2h0M1846.6 1923.6h0M1725.9 1882.0h0M1745.6 1905.3h0M1734.2 1930.3h0M1707.3 2063.8h0M1687.0 2067.4h0M1728.1 2069.3h0M1723.9 2106.2h0M1769.2 2104.0h0M1787.2 2107.1h0M1785.8 2089.0h0M1804.4 2082.7h0M1531.6 2160.4h0M1514.4 2159.5h0M1552.4 2143.7h0M1535.5 2140.9h0M1496.4 2170.1h0M1574.1 2117.9h0M1674.0 2024.4h0M1668.4 1966.9h0M1652.3 1963.3h0" stroke="#00f" stroke-width="12.6" stroke-linecap="round" fill="none"/>
<path clip-path="url(#c2)" d="M257.6 2175.1 L258.8 2175.7 L260.1 2176.3 L261.3 2176.9 L262.5 2177.5 L263.7 2178.1 L265.0 2178.7 L266.2 2179.4 L267.4 2180.0 L268.7 2180.7 L269.9 2181.4 L271.1 2182.1 L272.3 2182.7 L273.6 2183.4 L274.8 2184.1 L276.0 2184.8 L277.3 2185.5 L278.5 2186.2 L279.7 2186.9 L280.9 2187.5 L282.2 2188.2 L283.4 2188.9 L284.6 2189.5 L285.8 2190.1 L287.1 2190.7 L288.3 2191.3 L289.5 2191.9 L290.8 2192.4 L292.0 2192.9 L293.2 2193.4 L294.4 2193.8 L295.7 2194.2 L296.9 2194.6 L298.1 2194.9 L299.4 2195.2 L300.6 2195.5 L301.8 2195.7 L303.0 2195.8 L304.3 2195.9 L305.5 2195.9 L306.7 2195.9 L307.9 2195.9 L309.2 2195.7 L310.4 2195.6 L311.6 2195.3 L312.9 2195.0 L314.1 2194.6 L315.3 2194.2 L316.5 2193.7 L317.8 2193.1 L319.0 2192.4 L320.2 2191.7 L321.5 2190.9 L322.7 2190.1 L323.9 2189.1 L325.1 2188.1 L326.4 2187.0 L327.6 2185.9 L328.8 2184.7 L330.0 2183.3 L331.3 2182.0 L332.5 2180.5 L333.7 2179.0 L335.0 2177.4 L336.2 2175.7 L337.4 2174.0 L338.6 2172.2 L339.9 2170.3 L341.1 2168.4 L342.3 2166.4 L343.6 2164.4 L344.8 2162.2 L346.0 2160.1 L347.2 2157.8 L348.5 2155.5 L349.7 2153.2 L350.9 2150.8 L352.1 2148.4 L353.4 2145.9 L354.6 2143.4 L355.8 2140.8 L357.1 2138.2 L358.3 2135.6 L359.5 2132.9 L360.7 2130.3 L362.0 2127.6 L363.2 2124.8 L364.4 2122.1 L365.7 2119.4 L366.9 2116.6 L368.1 2113.9 L369.3 2111.1 L370.6 2108.3 L371.8 2105.6 L373.0 2102.8 L374.3 2100.1 L375.5 2097.4 L376.7 2094.7 L377.9 2092.0 L379.2 2089.4 L380.4 2086.8 L381.6 2084.2 L382.8 2081.7 L384.1 2079.2 L385.3 2076.7 L386.5 2074.3 L387.8 2072.0 L389.0 2069.7 L390.2 2067.5 L391.4 2065.3 L392.7 2063.2 L393.9 2061.1 L395.1 2059.1 L396.4 2057.2 L397.6 2055.4 L398.8 2053.6 L400.0 2051.9 L401.3 2050.3 L402.5 2048.8 L403.7 2047.4 L404.9 2046.0 L406.2 2044.7 L407.4 2043.6 L408.6 2042.5 L409.9 2041.4 L411.1 2040.5 L412.3 2039.7 L413.5 2039.0 L414.8 2038.3 L416.0 2037.8 L417.2 2037.3 L418.5 2036.9 L419.7 2036.6 L420.9 2036.4 L422.1 2036.3 L423.4 2036.3 L424.6 2036.4 L425.8 2036.6 L427.0 2036.8 L428.3 2037.1 L429.5 2037.5 L430.7 2038.0 L432.0 2038.6 L433.2 2039.2 L434.4 2040.0 L435.6 2040.8 L436.9 2041.6 L438.1 2042.6 L439.3 2043.6 L440.6 2044.6 L441.8 2045.8 L443.0 2046.9 L444.2 2048.2 L445.5 2049.5 L446.7 2050.8 L447.9 2052.2 L449.1 2053.6 L450.4 2055.1 L451.6 2056.6 L452.8 2058.2 L454.1 2059.8 L455.3 2061.4 L456.5 2063.0 L457.7 2064.7 L459.0 2066.3 L460.2 2068.0 L461.4 2069.7 L462.7 2071.5 L463.9 2073.2 L465.1 2074.9 L466.3 2076.7 L467.6 2078.4 L468.8 2080.1 L470.0 2081.9 L471.2 2083.6 L472.5 2085.3 L473.7 2087.0 L474.9 2088.6 L476.2 2090.3 L477.4 2091.9 L478.6 2093.6 L479.8 2095.2 L481.1 2096.7 L482.3 2098.3 L483.5 2099.8 L484.8 2101.2 L486.0 2102.7 L487.2 2104.1 L488.4 2105.5 L489.7 2106.8 L490.9 2108.1 L492.1 2109.4 L493.3 2110.6 L494.6 2111.8 L495.8 2113.0 L497.0 2114.1 L498.3 2115.1 L499.5 2116.2 L500.7 2117.2 L501.9 2118.1 L503.2 2119.0 L504.4 2119.9 L505.6 2120.7 L506.9 2121.5 L508.1 2122.3 L509.3 2123.0 L510.5 2123.7 L511.8 2124.4 L513.0 2125.0 L514.2 2125.6 L515.4 2126.1 L516.7 2126.7 L517.9 2127.2 L519.1 2127.7 L520.4 2128.1 L521.6 2128.5 L522.8 2128.9 L524.0 2129.3 L525.3 2129.7 L526.5 2130.0 L527.7 2130.4 L529.0 2130.7 L530.2 2131.0 L531.4 2131.3 L532.6 2131.6 L533.9 2131.9 L535.1 2132.2 L536.3 2132.4 L537.6 2132.7 L538.8 2133.0 L540.0 2133.3 L541.2 2133.5 L542.5 2133.8 L543.7 2134.1 L544.9 2134.4 L546.1 2134.7 L547.4 2135.0 L548.6 2135.4 L549.8 2135.7 L551.1 2136.0 L552.3 2136.4 L553.5 2136.8 L554.7 2137.2 L556.0 2137.6 L557.2 2138.0 L558.4 2138.5 L559.7 2138.9 L560.9 2139.4 L562.1 2139.9 L563.3 2140.4 L564.6 2140.9 L565.8 2141.5 L567.0 2142.0 L568.2 2142.6 L569.5 2143.2 L570.7 2143.8 L571.9 2144.4 L573.2 2145.0 L574.4 2145.7 L575.6 2146.3 L576.8 2147.0 L578.1 2147.7 L579.3 2148.4 L580.5 2149.1 L581.8 2149.7 L583.0 2150.4 L584.2 2151.1 L585.4 2151.8 L586.7 2152.5 L587.9 2153.2 L589.1 2153.9 L590.3 2154.5 L591.6 2155.2 L592.8 2155.8 L594.0 2156.4 L595.3 2157.1 L596.5 2157.6 L597.7 2158.2 L598.9 2158.7 L600.2 2159.2 L601.4 2159.7 L602.6 2160.2 L603.9 2160.6 L605.1 2161.0 L606.3 2161.3 L607.5 2161.6 L608.8 2161.8 L610.0 2162.0 L611.2 2162.2 L612.4 2162.3 L613.7 2162.3 L614.9 2162.3 L616.1 2162.3 L617.4 2162.2 L618.6 2162.0 L619.8 2161.7 L621.0 2161.4 L622.3 2161.1 L623.5 2160.6 L624.7 2160.1 L626.0 2159.6 L627.2 2158.9 L628.4 2158.2 L629.6 2157.4 L630.9 2156.6 L632.1 2155.6 L633.3 2154.6 L634.5 2153.6 L635.8 2152.4 L637.0 2151.2 L638.2 2149.9 L639.5 2148.5 L640.7 2147.1 L641.9 2145.6 L643.1 2144.0 L644.4 2142.3 L645.6 2140.6 L646.8 2138.8 L648.1 2136.9 L649.3 2135.0 L650.5 2133.0 L651.7 2131.0 L653.0 2128.9 L654.2 2126.7 L655.4 2124.5 L656.6 2122.2 L657.9 2119.8 L659.1 2117.5 L660.3 2115.0 L661.6 2112.6 L662.8 2110.0 L664.0 2107.5 L665.2 2104.9 L666.5 2102.3 L667.7 2099.6 L668.9 2097.0 L670.2 2094.3 L671.4 2091.5 L672.6 2088.8 L673.8 2086.1 L675.1 2083.3 L676.3 2080.5 L677.5 2077.8 L678.7 2075.0 L680.0 2072.3 L681.2 2069.5 L682.4 2066.8 L683.7 2064.1 L684.9 2061.4 L686.1 2058.7 L687.3 2056.1 L688.6 2053.5 L689.8 2050.9 L691.0 2048.3 L692.3 2045.9 L693.5 2043.4 L694.7 2041.0 L695.9 2038.6 L697.2 2036.3 L698.4 2034.1 L699.6 2031.9 L700.9 2029.8 L702.1 2027.7 L703.3 2025.7 L704.5 2023.8 L705.8 2022.0 L707.0 2020.2 L708.2 2018.5 L709.4 2016.9 L710.7 2015.4 L711.9 2013.9 L713.1 2012.5 L714.4 2011.3 L715.6 2010.1 L716.8 2009.0 L718.0 2007.9 L719.3 2007.0 L720.5 2006.2 L721.7 2005.4 L723.0 2004.8 L724.2 2004.2 L725.4 2003.7 L726.6 2003.4 L727.9 2003.1 L729.1 2002.9 L730.3 2002.7 L731.5 2002.7 L732.8 2002.8 L734.0 2002.9 L735.2 2003.2 L736.5 2003.5 L737.7 2003.9 L738.9 2004.4 L740.1 2004.9 L741.4 2005.6 L742.6 2006.3 L743.8 2007.1 L745.1 2007.9 L746.3 2008.8 L747.5 2009.8 L748.7 2010.9 L750.0 2012.0 L751.2 2013.2 L752.4 2014.4 L753.6 2015.7 L754.9 2017.1 L756.1 2018.4 L757.3 2019.9 L758.6 2021.3 L759.8 2022.8 L761.0 2024.4 L762.2 2026.0 L763.5 2027.6 L764.7 2029.2 L765.9 2030.9 L767.2 2032.5 L768.4 2034.2 L769.6 2035.9 L770.8 2037.7 L772.1 2039.4 L773.3 2041.1 L774.5 2042.9 L775.7 2044.6 L777.0 2046.3 L778.2 2048.1 L779.4 2049.8 L780.7 2051.5 L781.9 2053.2 L783.1 2054.9 L784.3 2056.5 L785.6 2058.2 L786.8 2059.8 L788.0 2061.4 L789.3 2062.9 L790.5 2064.5 L791.7 2066.0 L792.9 2067.5 L794.2 2068.9 L795.4 2070.3 L796.6 2071.7 L797.8 2073.1 L799.1 2074.4 L800.3 2075.6 L801.5 2076.9 L802.8 2078.1 L804.0 2079.2 L805.2 2080.3 L806.4 2081.4 L807.7 2082.4 L808.9 2083.4 L810.1 2084.4 L811.4 2085.3 L812.6 2086.2 L813.8 2087.0 L815.0 2087.8 L816.3 2088.6 L817.5 2089.3 L818.7 2090.0 L819.9 2090.7 L821.2 2091.3 L822.4 2091.9 L823.6 2092.5 L824.9 2093.0 L826.1 2093.5 L827.3 2094.0 L828.5 2094.4 L829.8 2094.9 L831.0 2095.3 L832.2 2095.7 L833.5 2096.0 L834.7 2096.4 L835.9 2096.7 L837.1 2097.1 L838.4 2097.4 L839.6 2097.7 L840.8 2098.0 L842.0 2098.2 L843.3 2098.5 L844.5 2098.8 L845.7 2099.1 L847.0 2099.3 L848.2 2099.6 L849.4 2099.9 L850.6 2100.2 L851.9 2100.5 L853.1 2100.8 L854.3 2101.1 L855.6 2101.4 L856.8 2101.7 L858.0 2102.0 L859.2 2102.4 L860.5 2102.8 L861.7 2103.1 L862.9 2103.5 L864.2 2103.9 L865.4 2104.4 L866.6 2104.8 L867.8 2105.2 L869.1 2105.7 L870.3 2106.2 L871.5 2106.7 L872.7 2107.2 L874.0 2107.8 L875.2 2108.3 L876.4 2108.9 L877.7 2109.5 L878.9 2110.1 L880.1 2110.7 L881.3 2111.4 L882.6 2112.0 L883.8 2112.7 L885.0 2113.3 L886.3 2114.0 L887.5 2114.7 L888.7 2115.4 L889.9 2116.1 L891.2 2116.7 L892.4 2117.4 L893.6 2118.1 L894.8 2118.8 L896.1 2119.5 L897.3 2120.2 L898.5 2120.8 L899.8 2121.5 L901.0 2122.1 L902.2 2122.8 L903.4 2123.4 L904.7 2124.0 L905.9 2124.5 L907.1 2125.1 L908.4 2125.6 L909.6 2126.1 L910.8 2126.5 L912.0 2126.9 L913.3 2127.3 L914.5 2127.6 L915.7 2127.9 L916.9 2128.2 L918.2 2128.4 L919.4 2128.6 L920.6 2128.7 L921.9 2128.7 L923.1 2128.7 L924.3 2128.7 L925.5 2128.6 L926.8 2128.4 L928.0 2128.2 L929.2 2127.9 L930.5 2127.5 L931.7 2127.1 L932.9 2126.6 L934.1 2126.0 L935.4 2125.4 L936.6 2124.7 L937.8 2123.9 L939.0 2123.0 L940.3 2122.1 L941.5 2121.1 L942.7 2120.1 L944.0 2118.9 L945.2 2117.7 L946.4 2116.4 L947.6 2115.1 L948.9 2113.6 L950.1 2112.1 L951.3 2110.5 L952.6 2108.9 L953.8 2107.2 L955.0 2105.4 L956.2 2103.5 L957.5 2101.6 L958.7 2099.6 L959.9 2097.6 L961.1 2095.5 L962.4 2093.3 L963.6 2091.1 L964.8 2088.8 L966.1 2086.5 L967.3 2084.1 L968.5 2081.7 L969.7 2079.2 L971.0 2076.7 L972.2 2074.2 L973.4 2071.6 L974.7 2069.0 L975.9 2066.3 L977.1 2063.6 L978.3 2061.0 L979.6 2058.2 L980.8 2055.5 L982.0 2052.8 L983.2 2050.0 L984.5 2047.2 L985.7 2044.5 L986.9 2041.7 L988.2 2039.0 L989.4 2036.2 L990.6 2033.5 L991.8 2030.8 L993.1 2028.1 L994.3 2025.4 L995.5 2022.8 L996.8 2020.1 L998.0 2017.6 L999.2 2015.0 L1000.4 2012.5 L1001.7 2010.1 L1002.9 2007.6 L1004.1 2005.3 L1005.4 2003.0 L1006.6 2000.7 L1007.8 1998.5 L1009.0 1996.4 L1010.3 1994.3 L1011.5 1992.3 L1012.7 1990.4 L1013.9 1988.6 L1015.2 1986.8 L1016.4 1985.1 L1017.6 1983.5 L1018.9 1981.9 L1020.1 1980.5 L1021.3 1979.1 L1022.5 1977.8 L1023.8 1976.6 L1025.0 1975.5 L1026.2 1974.4 L1027.5 1973.5 L1028.7 1972.7 L1029.9 1971.9 L1031.1 1971.2 L1032.4 1970.7 L1033.6 1970.2 L1034.8 1969.8 L1036.0 1969.5 L1037.3 1969.3 L1038.5 1969.1 L1039.7 1969.1 L1041.0 1969.2 L1042.2 1969.3 L1043.4 1969.5 L1044.6 1969.8 L1045.9 1970.2 L1047.1 1970.7 L1048.3 1971.2 L1049.6 1971.9 L1050.8 1972.6 L1052.0 1973.4 L1053.2 1974.2 L1054.5 1975.1 L1055.7 1976.1 L1056.9 1977.2 L1058.1 1978.3 L1059.4 1979.5 L1060.6 1980.7 L1061.8 1982.0 L1063.1 1983.3 L1064.3 1984.7 L1065.5 1986.1 L1066.7 1987.6 L1068.0 1989.1 L1069.2 1990.6 L1070.4 1992.2 L1071.7 1993.8 L1072.9 1995.4 L1074.1 1997.1 L1075.3 1998.7 L1076.6 2000.4 L1077.8 2002.1 L1079.0 2003.9 L1080.2 2005.6 L1081.5 2007.3 L1082.7 2009.1 L1083.9 2010.8 L1085.2 2012.5 L1086.4 2014.3 L1087.6 2016.0 L1088.8 2017.7 L1090.1 2019.4 L1091.3 2021.1 L1092.5 2022.7 L1093.8 2024.4 L1095.0 2026.0 L1096.2 2027.6 L1097.4 2029.2 L1098.7 2030.7 L1099.9 2032.2 L1101.1 2033.7 L1102.3 2035.1 L1103.6 2036.6 L1104.8 2038.0 L1106.0 2039.3 L1107.3 2040.6 L1108.5 2041.9 L1109.7 2043.1 L1110.9 2044.3 L1112.2 2045.5 L1113.4 2046.6 L1114.6 2047.7 L1115.9 2048.7 L1117.1 2049.7 L1118.3 2050.7 L1119.5 2051.6 L1120.8 2052.5 L1122.0 2053.3 L1123.2 2054.1 L1124.4 2054.9 L1125.7 2055.6 L1126.9 2056.3 L1128.1 2057.0 L1129.4 2057.6 L1130.6 2058.2 L1131.8 2058.8 L1133.0 2059.3 L1134.3 2059.8 L1135.5 2060.3 L1136.7 2060.8 L1138.0 2061.2 L1139.2 2061.6 L1140.4 2062.0 L1141.6 2062.4 L1142.9 2062.7 L1144.1 2063.1 L1145.3 2063.4 L1146.5 2063.7 L1147.8 2064.0 L1149.0 2064.3 L1150.2 2064.6 L1151.5 2064.9 L1152.7 2065.2 L1153.9 2065.4 L1155.1 2065.7 L1156.4 2066.0 L1157.6 2066.3 L1158.8 2066.5 L1160.1 2066.8 L1161.3 2067.1 L1162.5 2067.4 L1163.7 2067.7 L1165.0 2068.1 L1166.2 2068.4 L1167.4 2068.7 L1168.7 2069.1 L1169.9 2069.5 L1171.1 2069.9 L1172.3 2070.3 L1173.6 2070.7 L1174.8 2071.1 L1176.0 2071.6 L1177.2 2072.1 L1178.5 2072.5 L1179.7 2073.1 L1180.9 2073.6 L1182.2 2074.1 L1183.4 2074.7 L1184.6 2075.2 L1185.8 2075.8 L1187.1 2076.4 L1188.3 2077.1 L1189.5 2077.7 L1190.8 2078.3 L1192.0 2079.0 L1193.2 2079.6 L1194.4 2080.3 L1195.7 2081.0 L1196.9 2081.7 L1198.1 2082.4 L1199.3 2083.1 L1200.6 2083.8 L1201.8 2084.4 L1203.0 2085.1 L1204.3 2085.8 L1205.5 2086.5 L1206.7 2087.2 L1207.9 2087.8 L1209.2 2088.5 L1210.4 2089.1 L1211.6 2089.7 L1212.9 2090.3 L1214.1 2090.9 L1215.3 2091.4 L1216.5 2091.9 L1217.8 2092.4 L1219.0 2092.8 L1220.2 2093.3 L1221.4 2093.7 L1222.7 2094.0 L1223.9 2094.3 L1225.1 2094.6 L1226.4 2094.8 L1227.6 2094.9 L1228.8 2095.0 L1230.0 2095.1 L1231.3 2095.1 L1232.5 2095.1 L1233.7 2095.0 L1235.0 2094.8 L1236.2 2094.6 L1237.4 2094.3 L1238.6 2093.9 L1239.9 2093.5 L1241.1 2093.0 L1242.3 2092.5 L1243.5 2091.8 L1244.8 2091.1 L1246.0 2090.4 L1247.2 2089.5 L1248.5 2088.6 L1249.7 2087.6 L1250.9 2086.6 L1252.1 2085.4 L1253.4 2084.2 L1254.6 2083.0 L1255.8 2081.6 L1257.1 2080.2 L1258.3 2078.7 L1259.5 2077.1 L1260.7 2075.5 L1262.0 2073.8 L1263.2 2072.0 L1264.4 2070.1 L1265.6 2068.2 L1266.9 2066.3 L1268.1 2064.2 L1269.3 2062.1 L1270.6 2060.0 L1271.8 2057.7 L1273.0 2055.5 L1274.2 2053.2 L1275.5 2050.8 L1276.7 2048.4 L1277.9 2045.9 L1279.2 2043.4 L1280.4 2040.8 L1281.6 2038.3 L1282.8 2035.6 L1284.1 2033.0 L1285.3 2030.3 L1286.5 2027.6 L1287.7 2024.9 L1289.0 2022.2 L1290.2 2019.5 L1291.4 2016.7 L1292.7 2013.9 L1293.9 2011.2 L1295.1 2008.4 L1296.3 2005.7 L1297.6 2002.9 L1298.8 2000.2 L1300.0 1997.5 L1301.3 1994.8 L1302.5 1992.1 L1303.7 1989.4 L1304.9 1986.8 L1306.2 1984.2 L1307.4 1981.7 L1308.6 1979.2 L1309.8 1976.7 L1311.1 1974.3 L1312.3 1971.9 L1313.5 1969.6 L1314.8 1967.4 L1316.0 1965.2 L1317.2 1963.0 L1318.4 1961.0 L1319.7 1959.0 L1320.9 1957.0 L1322.1 1955.2 L1323.4 1953.4 L1324.6 1951.7 L1325.8 1950.0 L1327.0 1948.5 L1328.3 1947.0 L1329.5 1945.6 L1330.7 1944.3 L1332.0 1943.1 L1333.2 1942.0 L1334.4 1940.9 L1335.6 1940.0 L1336.9 1939.1 L1338.1 1938.4 L1339.3 1937.7 L1340.5 1937.1 L1341.8 1936.6 L1343.0 1936.2 L1344.2 1935.9 L1345.5 1935.7 L1346.7 1935.5 L1347.9 1935.5 L1349.1 1935.5 L1350.4 1935.7 L1351.6 1935.9 L1352.8 1936.2 L1354.1 1936.6 L1355.3 1937.0 L1356.5 1937.6 L1357.7 1938.2 L1359.0 1938.9 L1360.2 1939.7 L1361.4 1940.5 L1362.6 1941.4 L1363.9 1942.4 L1365.1 1943.4 L1366.3 1944.5 L1367.6 1945.7 L1368.8 1946.9 L1370.0 1948.2 L1371.2 1949.5 L1372.5 1950.9 L1373.7 1952.3 L1374.9 1953.8 L1376.2 1955.3 L1377.4 1956.8 L1378.6 1958.4 L1379.8 1960.0 L1381.1 1961.6 L1382.3 1963.3 L1383.5 1964.9 L1384.7 1966.6 L1386.0 1968.3 L1387.2 1970.1 L1388.4 1971.8 L1389.7 1973.5 L1390.9 1975.3 L1392.1 1977.0 L1393.3 1978.7 L1394.6 1980.5 L1395.8 1982.2 L1397.0 1983.9 L1398.3 1985.6 L1399.5 1987.3 L1400.7 1988.9 L1401.9 1990.6 L1403.2 1992.2 L1404.4 1993.8 L1405.6 1995.4 L1406.8 1996.9 L1408.1 1998.4 L1409.3 1999.9 L1410.5 2001.4 L1411.8 2002.8 L1413.0 2004.2 L1414.2 2005.5 L1415.4 2006.9 L1416.7 2008.1 L1417.9 2009.4 L1419.1 2010.6 L1420.4 2011.7 L1421.6 2012.9 L1422.8 2014.0 L1424.0 2015.0 L1425.3 2016.0 L1426.5 2017.0 L1427.7 2017.9 L1428.9 2018.8 L1430.2 2019.6 L1431.4 2020.4 L1432.6 2021.2 L1433.9 2021.9 L1435.1 2022.7 L1436.3 2023.3 L1437.5 2024.0 L1438.8 2024.6 L1440.0 2025.1 L1441.2 2025.7 L1442.5 2026.2 L1443.7 2026.7 L1444.9 2027.1 L1446.1 2027.6 L1447.4 2028.0 L1448.6 2028.4 L1449.8 2028.7 L1451.0 2029.1 L1452.3 2029.4 L1453.5 2029.8 L1454.7 2030.1 L1456.0 2030.4 L1457.2 2030.7 L1458.4 2031.0 L1459.6 2031.2 L1460.9 2031.5 L1462.1 2031.8 L1463.3 2032.1 L1464.6 2032.3 L1465.8 2032.6 L1467.0 2032.9 L1468.2 2033.2 L1469.5 2033.5 L1470.7 2033.8 L1471.9 2034.1 L1473.1 2034.4 L1474.4 2034.7 L1475.6 2035.1 L1476.8 2035.5 L1478.1 2035.8 L1479.3 2036.2 L1480.5 2036.6 L1481.7 2037.0 L1483.0 2037.5 L1484.2 2037.9 L1485.4 2038.4 L1486.7 2038.9 L1487.9 2039.4 L1489.1 2039.9 L1490.3 2040.4 L1491.6 2041.0 L1492.8 2041.6 L1494.0 2042.2 L1495.3 2042.8 L1496.5 2043.4 L1497.7 2044.0 L1498.9 2044.6 L1500.2 2045.3 L1501.4 2046.0 L1502.6 2046.6 L1503.8 2047.3 L1505.1 2048.0 L1506.3 2048.7 L1507.5 2049.4 L1508.8 2050.1 L1510.0 2050.8 L1511.2 2051.4 L1512.4 2052.1 L1513.7 2052.8 L1514.9 2053.5 L1516.1 2054.1 L1517.4 2054.8 L1518.6 2055.4 L1519.8 2056.0 L1521.0 2056.6 L1522.3 2057.2 L1523.5 2057.7 L1524.7 2058.2 L1525.9 2058.7 L1527.2 2059.2 L1528.4 2059.6 L1529.6 2060.0 L1530.9 2060.3 L1532.1 2060.7 L1533.3 2060.9 L1534.5 2061.1 L1535.8 2061.3 L1537.0 2061.4 L1538.2 2061.5 L1539.5 2061.5 L1540.7 2061.5 L1541.9 2061.4 L1543.1 2061.2 L1544.4 2061.0 L1545.6 2060.7 L1546.8 2060.4 L1548.0 2060.0 L1549.3 2059.5 L1550.5 2058.9 L1551.7 2058.3 L1553.0 2057.6 L1554.2 2056.9 L1555.4 2056.0 L1556.6 2055.1 L1557.9 2054.1 L1559.1 2053.1 L1560.3 2052.0 L1561.6 2050.8 L1562.8 2049.5 L1564.0 2048.2 L1565.2 2046.7 L1566.5 2045.2 L1567.7 2043.7 L1568.9 2042.1 L1570.1 2040.4 L1571.4 2038.6 L1572.6 2036.7 L1573.8 2034.8 L1575.1 2032.9 L1576.3 2030.8 L1577.5 2028.7 L1578.7 2026.6 L1580.0 2024.4 L1581.2 2022.1 L1582.4 2019.8 L1583.7 2017.4 L1584.9 2015.0 L1586.1 2012.6 L1587.3 2010.1 L1588.6 2007.5 L1589.8 2004.9 L1591.0 2002.3 L1592.2 1999.7 L1593.5 1997.0 L1594.7 1994.3 L1595.9 1991.6 L1597.2 1988.9 L1598.4 1986.2 L1599.6 1983.4 L1600.8 1980.6 L1602.1 1977.9 L1603.3 1975.1 L1604.5 1972.4 L1605.8 1969.6 L1607.0 1966.9 L1608.2 1964.2 L1609.4 1961.5 L1610.7 1958.8 L1611.9 1956.1 L1613.1 1953.5 L1614.3 1950.9 L1615.6 1948.4 L1616.8 1945.9 L1618.0 1943.4 L1619.3 1941.0 L1620.5 1938.6 L1621.7 1936.3 L1622.9 1934.0 L1624.2 1931.8 L1625.4 1929.7 L1626.6 1927.6 L1627.9 1925.6 L1629.1 1923.6 L1630.3 1921.8 L1631.5 1920.0 L1632.8 1918.2 L1634.0 1916.6 L1635.2 1915.0 L1636.5 1913.6 L1637.7 1912.2 L1638.9 1910.9 L1640.1 1909.6 L1641.4 1908.5 L1642.6 1907.4 L1643.8 1906.5 L1645.0 1905.6 L1646.3 1904.8 L1647.5 1904.2 L1648.7 1903.6 L1650.0 1903.1 L1651.2 1902.6 L1652.4 1902.3 L1653.6 1902.1 L1654.9 1901.9 L1656.1 1901.9 L1657.3 1901.9 L1658.6 1902.0 L1659.8 1902.2 L1661.0 1902.5 L1662.2 1902.9 L1663.5 1903.4 L1664.7 1903.9 L1665.9 1904.5 L1667.1 1905.2 L1668.4 1906.0 L1669.6 1906.8 L1670.8 1907.7 L1672.1 1908.7 L1673.3 1909.7 L1674.5 1910.8 L1675.7 1912.0 L1677.0 1913.2 L1678.2 1914.4 L1679.4 1915.8 L1680.7 1917.1 L1681.9 1918.6 L1683.1 1920.0 L1684.3 1921.5 L1685.6 1923.0 L1686.8 1924.6 L1688.0 1926.2 L1689.2 1927.8 L1690.5 1929.5 L1691.7 1931.2 L1692.9 1932.8 L1694.2 1934.5 L1695.4 1936.3 L1696.6 1938.0 L1697.8 1939.7 L1699.1 1941.5 L1700.3 1943.2 L1701.5 1944.9 L1702.8 1946.6 L1704.0 1948.4 L1705.2 1950.1 L1706.4 1951.8 L1707.7 1953.5 L1708.9 1955.1 L1710.1 1956.8 L1711.3 1958.4 L1712.6 1960.0 L1713.8 1961.6 L1715.0 1963.1 L1716.3 1964.7 L1717.5 1966.1 L1718.7 1967.6 L1719.9 1969.0 L1721.2 1970.4 L1722.4 1971.8 L1723.6 1973.1 L1724.9 1974.4 L1726.1 1975.6 L1727.3 1976.8 L1728.5 1978.0 L1729.8 1979.1 L1731.0 1980.2 L1732.2 1981.3 L1733.4 1982.3 L1734.7 1983.2 L1735.9 1984.2 L1737.1 1985.1 L1738.4 1985.9 L1739.6 1986.7 L1740.8 1987.5 L1742.0 1988.3 L1743.3 1989.0 L1744.5 1989.6 L1745.7 1990.3 L1747.0 1990.9 L1748.2 1991.5 L1749.4 1992.0 L1750.6 1992.5 L1751.9 1993.0 L1753.1 1993.5 L1754.3 1993.9 L1755.5 1994.3 L1756.8 1994.7 L1758.0 1995.1 L1759.2 1995.4 L1760.5 1995.8 L1761.7 1996.1 L1762.9 1996.4 L1764.1 1996.7 L1765.4 1997.0 L1766.6 1997.3 L1767.8 1997.6 L1769.1 1997.9 L1770.3 1998.2 L1771.5 1998.4 L1772.7 1998.7 L1774.0 1999.0 L1775.2 1999.3 L1776.4 1999.5 L1777.6 1999.8 L1778.9 2000.1 L1780.1 2000.5 L1781.3 2000.8 L1782.6 2001.1 L1783.8 2001.4 L1785.0 2001.8 L1786.2 2002.2 L1787.5 2002.6 L1788.7 2003.0 L1789.9 2003.4 L1791.2 2003.8 L1792.4 2004.3 L1793.6 2004.7 L1794.8 2005.2 L1796.1 2005.7 L1797.3 2006.2 L1798.5 2006.8 L1799.8 2007.3 L1801.0 2007.9 L1802.2 2008.5 L1803.4 2009.1 L1804.7 2009.7 L1805.9 2010.3 L1807.1 2011.0 L1808.3 2011.6 L1809.6 2012.3 L1810.8 2012.9 L1812.0 2013.6 L1813.3 2014.3 L1814.5 2015.0 L1815.7 2015.7 L1816.9 2016.4 L1818.2 2017.1 L1819.4 2017.8 L1820.6 2018.4 L1821.9 2019.1 L1823.1 2019.8 L1824.3 2020.5 L1825.5 2021.1 L1826.8 2021.7 L1828.0 2022.3 L1829.2 2022.9 L1830.4 2023.5 L1831.7 2024.1 L1832.9 2024.6 L1834.1 2025.1 L1835.4 2025.5 L1836.6 2026.0 L1837.8 2026.4 L1839.0 2026.7 L1840.3 2027.0 L1841.5 2027.3 L1842.7 2027.5 L1844.0 2027.7 L1845.2 2027.8 L1846.4 2027.9 L1847.6 2027.9 L1848.9 2027.9 L1850.1 2027.8 L1851.3 2027.6 L1852.5 2027.4" stroke="#f00" stroke-width="7.4" fill="none" stroke-linejoin="round"/>
<rect x="225.85" y="1751.25" width="1657.75" height="637.70" fill="none" stroke="#000" stroke-width="5.9"/>
<path d="M231.4 1732.5V1751.2M231.4 2388.9V2407.6M308.5 1741.5V1751.2M308.5 2388.9V2398.8M385.6 1741.5V1751.2M385.6 2388.9V2398.8M462.6 1741.5V1751.2M462.6 2388.9V2398.8M539.7 1732.5V1751.2M539.7 2388.9V2407.6M616.8 1741.5V1751.2M616.8 2388.9V2398.8M693.9 1741.5V1751.2M693.9 2388.9V2398.8M771.0 1741.5V1751.2M771.0 2388.9V2398.8M848.0 1732.5V1751.2M848.0 2388.9V2407.6M925.1 1741.5V1751.2M925.1 2388.9V2398.8M1002.2 1741.5V1751.2M1002.2 2388.9V2398.8M1079.3 1741.5V1751.2M1079.3 2388.9V2398.8M1156.4 1732.5V1751.2M1156.4 2388.9V2407.6M1233.4 1741.5V1751.2M1233.4 2388.9V2398.8M1310.5 1741.5V1751.2M1310.5 2388.9V2398.8M1387.6 1741.5V1751.2M1387.6 2388.9V2398.8M1464.7 1732.5V1751.2M1464.7 2388.9V2407.6M1541.8 1741.5V1751.2M1541.8 2388.9V2398.8M1618.8 1741.5V1751.2M1618.8 2388.9V2398.8M1695.9 1741.5V1751.2M1695.9 2388.9V2398.8M1773.0 1732.5V1751.2M1773.0 2388.9V2407.6M1850.1 1741.5V1751.2M1850.1 2388.9V2398.8M207.0 1768.4H225.8M1883.6 1768.4H1902.4M207.0 1864.8H225.8M1883.6 1864.8H1902.4M207.0 1961.2H225.8M1883.6 1961.2H1902.4M207.0 2057.6H225.8M1883.6 2057.6H1902.4M207.0 2153.9H225.8M1883.6 2153.9H1902.4M207.0 2250.3H225.8M1883.6 2250.3H1902.4M207.0 2346.7H225.8M1883.6 2346.7H1902.4" stroke="#000" stroke-width="2.6" fill="none"/>
<rect x="120.5" y="2157.1" width="21.1" height="4.9"/>
<rect x="120.5" y="2253.5" width="21.1" height="4.9"/>
<rect x="120.5" y="2349.8" width="21.1" height="4.9"/>
<rect x="226.15" y="2617.85" width="1657.65" height="152.4" fill="none" stroke="#000" stroke-width="5.6"/>
<g class="t"><text transform="translate(1055 102.1) scale(1 1.03)" font-size="56.8" text-anchor="middle" font-weight="bold">ENAN&#160;&#160;- EU - Cleaned</text><text transform="translate(190.7 186.5) scale(1 1.04)" font-size="42.6" text-anchor="end" font-weight="bold">8</text><text transform="translate(190.7 301.2) scale(1 1.04)" font-size="42.6" text-anchor="end" font-weight="bold">4</text><text transform="translate(190.7 415.9) scale(1 1.04)" font-size="42.6" text-anchor="end" font-weight="bold">0</text><text transform="translate(190.7 530.5) scale(1 1.04)" font-size="42.6" text-anchor="end" font-weight="bold">4</text><text transform="translate(190.7 645.2) scale(1 1.04)" font-size="42.6" text-anchor="end" font-weight="bold">8</text><text transform="translate(190.7 759.9) scale(1 1.04)" font-size="42.6" text-anchor="end" font-weight="bold">12</text><text transform="translate(231.4 822.7) scale(1 1.04)" font-size="42.6" text-anchor="middle" font-weight="bold">2021</text><text transform="translate(539.7 822.7) scale(1 1.04)" font-size="42.6" text-anchor="middle" font-weight="bold">2022</text><text transform="translate(848 822.7) scale(1 1.04)" font-size="42.6" text-anchor="middle" font-weight="bold">2023</text><text transform="translate(1156.4 822.7) scale(1 1.04)" font-size="42.6" text-anchor="middle" font-weight="bold">2024</text><text transform="translate(1464.7 822.7) scale(1 1.04)" font-size="42.6" text-anchor="middle" font-weight="bold">2025</text><text transform="translate(1773 822.7) scale(1 1.04)" font-size="42.6" text-anchor="middle" font-weight="bold">2026</text><text transform="translate(89.9 438.0) rotate(-90) scale(1 1.04)" font-size="42.6" text-anchor="middle" font-weight="normal">East (mm)</text><text transform="translate(1816.5 158.2) scale(1 1.04)" font-size="35.5" text-anchor="end" font-weight="bold">-0.843+/- 0.283 mm/yr</text><text transform="translate(190.7 1036) scale(1 1.04)" font-size="42.6" text-anchor="end" font-weight="bold">8</text><text transform="translate(190.7 1159) scale(1 1.04)" font-size="42.6" text-anchor="end" font-weight="bold">4</text><text transform="translate(190.7 1282) scale(1 1.04)" font-size="42.6" text-anchor="end" font-weight="bold">0</text><text transform="translate(190.7 1405) scale(1 1.04)" font-size="42.6" text-anchor="end" font-weight="bold">4</text><text transform="translate(190.7 1528) scale(1 1.04)" font-size="42.6" text-anchor="end" font-weight="bold">8</text><text transform="translate(231.4 1638.8) scale(1 1.04)" font-size="42.6" text-anchor="middle" font-weight="bold">2021</text><text transform="translate(539.7 1638.8) scale(1 1.04)" font-size="42.6" text-anchor="middle" font-weight="bold">2022</text><text transform="translate(848 1638.8) scale(1 1.04)" font-size="42.6" text-anchor="middle" font-weight="bold">2023</text><text transform="translate(1156.4 1638.8) scale(1 1.04)" font-size="42.6" text-anchor="middle" font-weight="bold">2024</text><text transform="translate(1464.7 1638.8) scale(1 1.04)" font-size="42.6" text-anchor="middle" font-weight="bold">2025</text><text transform="translate(1773 1638.8) scale(1 1.04)" font-size="42.6" text-anchor="middle" font-weight="bold">2026</text><text transform="translate(113.9 1254.1) rotate(-90) scale(1 1.04)" font-size="42.6" text-anchor="middle" font-weight="normal">North (mm)</text><text transform="translate(1816.5 1560) scale(1 1.04)" font-size="35.5" text-anchor="end" font-weight="bold">1.295+/- 0.302 mm/yr</text><text transform="translate(190.7 1783.9) scale(1 1.04)" font-size="42.6" text-anchor="end" font-weight="bold">30</text><text transform="translate(190.7 1880.3) scale(1 1.04)" font-size="42.6" text-anchor="end" font-weight="bold">20</text><text transform="translate(190.7 1976.7) scale(1 1.04)" font-size="42.6" text-anchor="end" font-weight="bold">10</text><text transform="translate(190.7 2073.1) scale(1 1.04)" font-size="42.6" text-anchor="end" font-weight="bold">0</text><text transform="translate(190.7 2169.4) scale(1 1.04)" font-size="42.6" text-anchor="end" font-weight="bold">10</text><text transform="translate(190.7 2265.8) scale(1 1.04)" font-size="42.6" text-anchor="end" font-weight="bold">20</text><text transform="translate(190.7 2362.2) scale(1 1.04)" font-size="42.6" text-anchor="end" font-weight="bold">30</text><text transform="translate(231.4 2454.6) scale(1 1.04)" font-size="42.6" text-anchor="middle" font-weight="bold">2021</text><text transform="translate(539.7 2454.6) scale(1 1.04)" font-size="42.6" text-anchor="middle" font-weight="bold">2022</text><text transform="translate(848 2454.6) scale(1 1.04)" font-size="42.6" text-anchor="middle" font-weight="bold">2023</text><text transform="translate(1156.4 2454.6) scale(1 1.04)" font-size="42.6" text-anchor="middle" font-weight="bold">2024</text><text transform="translate(1464.7 2454.6) scale(1 1.04)" font-size="42.6" text-anchor="middle" font-weight="bold">2025</text><text transform="translate(1773 2454.6) scale(1 1.04)" font-size="42.6" text-anchor="middle" font-weight="bold">2026</text><text transform="translate(89.9 2070.1) rotate(-90) scale(1 1.04)" font-size="42.6" text-anchor="middle" font-weight="normal">Up (mm)</text><text transform="translate(1816.5 2375.9) scale(1 1.04)" font-size="35.5" text-anchor="end" font-weight="bold">3.491+/- 1.087 mm/yr</text><text transform="translate(1053.6 2513.9) scale(1 1.04)" font-size="42.6" text-anchor="middle" font-weight="normal">Time (year)</text><text transform="translate(1055 2666.7) scale(1 1.04)" font-size="35.5" text-anchor="middle" font-weight="bold">24 Hour Positions Using Final Orbits (blue) and Rapid Orbits (magenta).</text><text transform="translate(1055 2706.9) scale(1 1.04)" font-size="35.5" text-anchor="middle" font-weight="bold">Processed by the Nevada Geodetic Laboratory.</text><text transform="translate(1055 2747.2) scale(1 1.04)" font-size="35.5" text-anchor="middle" font-weight="bold">Plotted on 2026-Apr-27. Last data on 2026-Apr-04.</text></g>
</svg></body></html>
